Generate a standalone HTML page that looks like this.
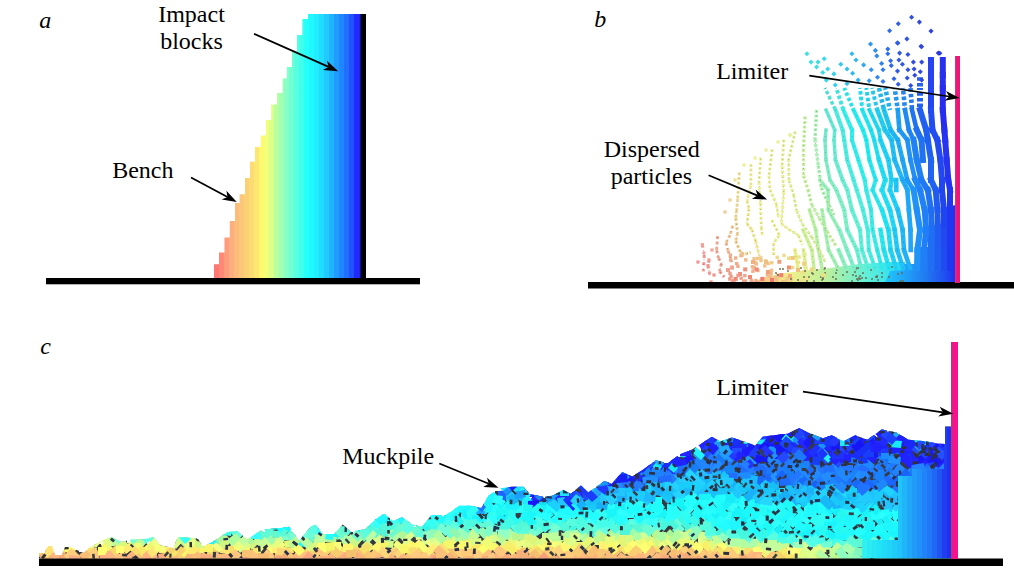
<!DOCTYPE html>
<html><head><meta charset="utf-8"><style>
html,body{margin:0;padding:0;background:#fff;width:1014px;height:578px;overflow:hidden;font-family:"Liberation Serif",serif;}
svg{display:block}
</style></head><body>
<svg width="1014" height="578" viewBox="0 0 1014 578">
<rect width="1014" height="578" fill="#fff"/>
<clipPath id="ca"><polygon points="361.0,14.0 308.0,14.0 308.0,19.0 302.3,19.0 302.3,35.0 297.0,35.0 297.0,51.4 292.0,51.4 292.0,67.0 286.8,67.0 286.8,78.5 282.6,78.5 282.6,93.0 277.0,93.0 277.0,104.5 271.2,104.5 271.2,120.0 266.0,120.0 266.0,135.6 260.8,135.6 260.8,147.0 255.0,147.0 255.0,161.7 250.0,161.7 250.0,178.0 245.0,178.0 245.0,194.3 239.6,194.3 239.6,203.0 235.0,203.0 235.0,221.0 229.8,221.0 229.8,237.4 224.5,237.4 224.5,252.6 219.0,252.6 219.0,264.2 214.0,264.2 214.0,278.0 361.0,278.0"/></clipPath>
<g clip-path="url(#ca)">
<rect x="214" y="10" width="5.2" height="270" fill="#ff7771"/>
<rect x="219" y="10" width="5.2" height="270" fill="#ff8877"/>
<rect x="224" y="10" width="5.2" height="270" fill="#fe9c7c"/>
<rect x="229" y="10" width="5.2" height="270" fill="#fdae7f"/>
<rect x="234" y="10" width="5.2" height="270" fill="#fdbb7c"/>
<rect x="239" y="10" width="5.2" height="270" fill="#fdc779"/>
<rect x="244" y="10" width="5.2" height="270" fill="#fcd176"/>
<rect x="249" y="10" width="5.2" height="270" fill="#fcdb73"/>
<rect x="254" y="10" width="5.2" height="270" fill="#fde770"/>
<rect x="259" y="10" width="5.2" height="270" fill="#fef96e"/>
<rect x="264" y="10" width="5.2" height="270" fill="#f2ff79"/>
<rect x="269" y="10" width="5.2" height="270" fill="#daff8a"/>
<rect x="274" y="10" width="5.2" height="270" fill="#baff9e"/>
<rect x="279" y="10" width="5.2" height="270" fill="#9fffb2"/>
<rect x="284" y="10" width="5.2" height="270" fill="#87ffc6"/>
<rect x="289" y="10" width="5.2" height="270" fill="#6fffd4"/>
<rect x="294" y="10" width="5.2" height="270" fill="#57ffe0"/>
<rect x="299" y="10" width="5.2" height="270" fill="#3fffed"/>
<rect x="304" y="10" width="5.2" height="270" fill="#27fffb"/>
<rect x="309" y="10" width="5.2" height="270" fill="#20f8ff"/>
<rect x="314" y="10" width="5.2" height="270" fill="#20edff"/>
<rect x="319" y="10" width="5.2" height="270" fill="#20ddff"/>
<rect x="324" y="10" width="5.2" height="270" fill="#20caff"/>
<rect x="329" y="10" width="5.2" height="270" fill="#20b4ff"/>
<rect x="334" y="10" width="5.2" height="270" fill="#209cff"/>
<rect x="339" y="10" width="5.2" height="270" fill="#2086ff"/>
<rect x="344" y="10" width="5.2" height="270" fill="#206fff"/>
<rect x="349" y="10" width="5.2" height="270" fill="#2053ff"/>
<rect x="354" y="10" width="5.2" height="270" fill="#202cff"/>
<rect x="359" y="10" width="5.2" height="270" fill="#2020ff"/>
</g>
<rect x="360.5" y="14" width="5.5" height="266" fill="#000"/>
<rect x="46" y="278" width="374" height="6.3" fill="#000"/>
<linearGradient id="gb" gradientUnits="userSpaceOnUse" x1="885" x2="955" y1="0" y2="0"><stop offset="0" stop-color="#20c8f8"/><stop offset="0.3" stop-color="#20a0f8"/><stop offset="0.6" stop-color="#2078f0"/><stop offset="0.85" stop-color="#2050f0"/><stop offset="1" stop-color="#2030f0"/></linearGradient>
<linearGradient id="gbm" x1="0" x2="1"><stop offset="0" stop-color="#f8b888"/><stop offset="0.25" stop-color="#f0f088"/><stop offset="0.5" stop-color="#b8f0a0"/><stop offset="0.75" stop-color="#60f0d8"/><stop offset="1" stop-color="#20d8f8"/></linearGradient>
<polygon points="752,282.5 765,277 785,273 800,271 830,268 860,264 890,262 905,262 905,282.5" fill="url(#gbm)"/>
<rect x="776.0" y="273.5" width="3.4" height="3.4" fill="#f0c188"/>
<rect x="789.2" y="279.3" width="3.4" height="3.4" fill="#f0cf88"/>
<rect x="785.0" y="278.7" width="3.4" height="3.4" fill="#f0cb88"/>
<rect x="730.2" y="265.5" width="3.4" height="3.4" fill="#f0a28a"/>
<rect x="800.6" y="270.8" width="3.4" height="3.4" fill="#f0dd88"/>
<rect x="797.4" y="255.3" width="3.4" height="3.4" fill="#ece48c"/>
<rect x="764.1" y="259.2" width="3.4" height="3.4" fill="#f0ca8b"/>
<rect x="769.9" y="268.6" width="3.4" height="3.4" fill="#f0c089"/>
<rect x="729.0" y="258.3" width="3.4" height="3.4" fill="#f0a98d"/>
<rect x="749.5" y="278.6" width="3.4" height="3.4" fill="#f0a988"/>
<rect x="787.0" y="256.6" width="3.4" height="3.4" fill="#eedc8c"/>
<rect x="789.4" y="256.0" width="3.4" height="3.4" fill="#edde8c"/>
<rect x="775.5" y="255.7" width="3.4" height="3.4" fill="#efd78c"/>
<rect x="728.1" y="277.3" width="3.4" height="3.4" fill="#f09a88"/>
<rect x="744.1" y="258.2" width="3.4" height="3.4" fill="#f0b98b"/>
<rect x="803.6" y="277.3" width="3.4" height="3.4" fill="#f0e088"/>
<rect x="750.3" y="279.9" width="3.4" height="3.4" fill="#f0a988"/>
<rect x="769.5" y="271.7" width="3.4" height="3.4" fill="#f0bb88"/>
<rect x="743.8" y="279.3" width="3.4" height="3.4" fill="#f0a588"/>
<rect x="781.2" y="280.0" width="3.4" height="3.4" fill="#f0c788"/>
<rect x="796.8" y="260.7" width="3.4" height="3.4" fill="#eee08b"/>
<rect x="755.8" y="256.8" width="3.4" height="3.4" fill="#f0c78b"/>
<rect x="739.2" y="253.9" width="3.4" height="3.4" fill="#f0b98c"/>
<rect x="751.2" y="269.5" width="3.4" height="3.4" fill="#f0ae89"/>
<rect x="728.3" y="271.7" width="3.4" height="3.4" fill="#f09b88"/>
<rect x="754.0" y="261.0" width="3.4" height="3.4" fill="#f0be8b"/>
<rect x="791.0" y="265.9" width="3.4" height="3.4" fill="#efd789"/>
<rect x="752.3" y="266.0" width="3.4" height="3.4" fill="#f0b589"/>
<rect x="782.3" y="253.7" width="3.4" height="3.4" fill="#eedd8c"/>
<rect x="803.1" y="252.7" width="3.4" height="3.4" fill="#eae98e"/>
<rect x="785.7" y="276.5" width="3.4" height="3.4" fill="#f0cb88"/>
<rect x="729.4" y="274.8" width="3.4" height="3.4" fill="#f09b88"/>
<rect x="756.2" y="268.8" width="3.4" height="3.4" fill="#f0b389"/>
<rect x="728.7" y="253.4" width="3.4" height="3.4" fill="#f0ad8f"/>
<rect x="741.9" y="279.7" width="3.4" height="3.4" fill="#f0a488"/>
<rect x="743.1" y="273.9" width="3.4" height="3.4" fill="#f0a488"/>
<rect x="799.6" y="279.3" width="3.4" height="3.4" fill="#f0dc88"/>
<rect x="754.5" y="262.3" width="3.4" height="3.4" fill="#f0bd8a"/>
<rect x="768.4" y="274.5" width="3.4" height="3.4" fill="#f0b988"/>
<rect x="736.3" y="273.7" width="3.4" height="3.4" fill="#f0a088"/>
<rect x="789.4" y="276.9" width="3.4" height="3.4" fill="#f0cf88"/>
<rect x="730.8" y="279.4" width="3.4" height="3.4" fill="#f09c88"/>
<rect x="735.0" y="261.9" width="3.4" height="3.4" fill="#f0ab8b"/>
<rect x="775.0" y="278.6" width="3.4" height="3.4" fill="#f0c088"/>
<rect x="754.2" y="278.8" width="3.4" height="3.4" fill="#f0ac88"/>
<rect x="770.0" y="261.1" width="3.4" height="3.4" fill="#efcb8b"/>
<rect x="752.4" y="257.1" width="3.4" height="3.4" fill="#f0c38b"/>
<rect x="734.0" y="256.3" width="3.4" height="3.4" fill="#f0b08d"/>
<rect x="781.1" y="280.9" width="3.4" height="3.4" fill="#f0c688"/>
<rect x="740.4" y="253.4" width="3.4" height="3.4" fill="#f0bb8c"/>
<rect x="804.0" y="267.5" width="3.4" height="3.4" fill="#eee389"/>
<rect x="759.3" y="258.9" width="3.4" height="3.4" fill="#f0c78b"/>
<rect x="773.7" y="276.0" width="3.4" height="3.4" fill="#f0bf88"/>
<rect x="763.1" y="264.2" width="3.4" height="3.4" fill="#f0c18a"/>
<rect x="732.3" y="278.6" width="3.4" height="3.4" fill="#f09d88"/>
<rect x="730.5" y="266.3" width="3.4" height="3.4" fill="#f0a28a"/>
<rect x="792.6" y="255.8" width="3.4" height="3.4" fill="#ede08c"/>
<rect x="784.3" y="279.5" width="3.4" height="3.4" fill="#f0ca88"/>
<rect x="776.5" y="274.9" width="3.4" height="3.4" fill="#f0c288"/>
<rect x="736.2" y="264.6" width="3.4" height="3.4" fill="#f0a98a"/>
<rect x="739.5" y="276.5" width="3.4" height="3.4" fill="#f0a288"/>
<rect x="750.7" y="265.1" width="3.4" height="3.4" fill="#f0b48a"/>
<rect x="804.9" y="276.7" width="3.4" height="3.4" fill="#f0e288"/>
<rect x="803.2" y="265.2" width="3.4" height="3.4" fill="#eee38a"/>
<rect x="765.6" y="273.2" width="3.4" height="3.4" fill="#f0b688"/>
<rect x="764.9" y="260.4" width="3.4" height="3.4" fill="#f0c98b"/>
<rect x="759.1" y="256.2" width="3.4" height="3.4" fill="#f0cc8c"/>
<rect x="757.0" y="280.7" width="3.4" height="3.4" fill="#f0ae88"/>
<rect x="801.9" y="270.2" width="3.4" height="3.4" fill="#efdf88"/>
<rect x="766.4" y="261.8" width="3.4" height="3.4" fill="#f0c78a"/>
<polygon points="955,205 941,210 941,224 928,226 928,247 916,247 916,264 904,264 904,270 890,271 885,282.5 955,282.5" fill="url(#gb)"/>
<rect x="787" y="270" width="2" height="2" fill="#686850" opacity="0.7"/>
<rect x="877" y="279" width="2" height="2" fill="#686850" opacity="0.7"/>
<rect x="822" y="278" width="2" height="2" fill="#686850" opacity="0.7"/>
<rect x="876" y="276" width="2" height="2" fill="#686850" opacity="0.7"/>
<rect x="861" y="277" width="2" height="2" fill="#686850" opacity="0.7"/>
<rect x="822" y="277" width="2" height="2" fill="#686850" opacity="0.7"/>
<rect x="812" y="273" width="2" height="2" fill="#686850" opacity="0.7"/>
<rect x="875" y="276" width="2" height="2" fill="#686850" opacity="0.7"/>
<rect x="813" y="280" width="2" height="2" fill="#686850" opacity="0.7"/>
<rect x="859" y="275" width="2" height="2" fill="#686850" opacity="0.7"/>
<rect x="777" y="274" width="2" height="2" fill="#686850" opacity="0.7"/>
<rect x="808" y="276" width="2" height="2" fill="#686850" opacity="0.7"/>
<rect x="835" y="278" width="2" height="2" fill="#686850" opacity="0.7"/>
<rect x="859" y="278" width="2" height="2" fill="#686850" opacity="0.7"/>
<rect x="820" y="276" width="2" height="2" fill="#686850" opacity="0.7"/>
<rect x="871" y="278" width="2" height="2" fill="#686850" opacity="0.7"/>
<rect x="821" y="279" width="2" height="2" fill="#686850" opacity="0.7"/>
<rect x="888" y="276" width="2" height="2" fill="#686850" opacity="0.7"/>
<rect x="902" y="280" width="2" height="2" fill="#686850" opacity="0.7"/>
<rect x="842" y="274" width="2" height="2" fill="#686850" opacity="0.7"/>
<rect x="797" y="279" width="2" height="2" fill="#686850" opacity="0.7"/>
<rect x="897" y="273" width="2" height="2" fill="#686850" opacity="0.7"/>
<rect x="865" y="277" width="2" height="2" fill="#686850" opacity="0.7"/>
<rect x="870" y="269" width="2" height="2" fill="#686850" opacity="0.7"/>
<rect x="876" y="275" width="2" height="2" fill="#686850" opacity="0.7"/>
<rect x="862" y="272" width="2" height="2" fill="#686850" opacity="0.7"/>
<rect x="856" y="278" width="2" height="2" fill="#686850" opacity="0.7"/>
<rect x="858" y="277" width="2" height="2" fill="#686850" opacity="0.7"/>
<rect x="779" y="268" width="2" height="2" fill="#686850" opacity="0.7"/>
<rect x="832" y="276" width="2" height="2" fill="#686850" opacity="0.7"/>
<rect x="803" y="276" width="2" height="2" fill="#686850" opacity="0.7"/>
<rect x="857" y="267" width="2" height="2" fill="#686850" opacity="0.7"/>
<rect x="836" y="269" width="2" height="2" fill="#686850" opacity="0.7"/>
<rect x="782" y="268" width="2" height="2" fill="#686850" opacity="0.7"/>
<rect x="816" y="269" width="2" height="2" fill="#686850" opacity="0.7"/>
<rect x="800" y="267" width="2" height="2" fill="#686850" opacity="0.7"/>
<rect x="835" y="272" width="2" height="2" fill="#686850" opacity="0.7"/>
<rect x="855" y="275" width="2" height="2" fill="#686850" opacity="0.7"/>
<rect x="806" y="280" width="2" height="2" fill="#686850" opacity="0.7"/>
<rect x="775" y="272" width="2" height="2" fill="#686850" opacity="0.7"/>
<rect x="811" y="272" width="2" height="2" fill="#686850" opacity="0.7"/>
<rect x="790" y="278" width="2" height="2" fill="#686850" opacity="0.7"/>
<rect x="824" y="267" width="2" height="2" fill="#686850" opacity="0.7"/>
<rect x="855" y="267" width="2" height="2" fill="#686850" opacity="0.7"/>
<rect x="846" y="271" width="2" height="2" fill="#686850" opacity="0.7"/>
<rect x="851" y="280" width="2" height="2" fill="#686850" opacity="0.7"/>
<rect x="881" y="272" width="2" height="2" fill="#686850" opacity="0.7"/>
<rect x="881" y="276" width="2" height="2" fill="#686850" opacity="0.7"/>
<rect x="823" y="268" width="2" height="2" fill="#686850" opacity="0.7"/>
<rect x="852" y="274" width="2" height="2" fill="#686850" opacity="0.7"/>
<rect x="899" y="281" width="2" height="2" fill="#686850" opacity="0.7"/>
<rect x="854" y="271" width="2" height="2" fill="#686850" opacity="0.7"/>
<rect x="891" y="266" width="2" height="2" fill="#686850" opacity="0.7"/>
<rect x="789" y="274" width="2" height="2" fill="#686850" opacity="0.7"/>
<rect x="855" y="268" width="2" height="2" fill="#686850" opacity="0.7"/>
<rect x="857" y="279" width="2" height="2" fill="#686850" opacity="0.7"/>
<rect x="824" y="272" width="2" height="2" fill="#686850" opacity="0.7"/>
<rect x="804" y="270" width="2" height="2" fill="#686850" opacity="0.7"/>
<rect x="901" y="272" width="2" height="2" fill="#686850" opacity="0.7"/>
<rect x="900" y="280" width="2" height="2" fill="#686850" opacity="0.7"/>
<line x1="942.8" y1="60" x2="942.8" y2="75" stroke="#2830f0" stroke-width="6" stroke-linecap="square"/>
<line x1="931.0" y1="60" x2="931.0" y2="75" stroke="#2844f0" stroke-width="6" stroke-linecap="square"/>
<line x1="942.8" y1="75" x2="942.8" y2="88" stroke="#2830f0" stroke-width="6" stroke-linecap="square"/>
<line x1="931.0" y1="75" x2="931.0" y2="88" stroke="#2844f0" stroke-width="6" stroke-linecap="square"/>
<line x1="920.0" y1="75" x2="920.0" y2="88" stroke="#2862f0" stroke-width="6" stroke-linecap="butt" stroke-dasharray="3.5 2.2" stroke-dashoffset="3.4"/>
<line x1="942.8" y1="88" x2="942.8" y2="110" stroke="#282cf0" stroke-width="6" stroke-linecap="square"/>
<line x1="931.0" y1="88" x2="931.0" y2="110" stroke="#2446f0" stroke-width="6" stroke-linecap="square"/>
<line x1="920.0" y1="88" x2="920.0" y2="110" stroke="#2461f0" stroke-width="6" stroke-linecap="butt" stroke-dasharray="3.5 2.2" stroke-dashoffset="1.5"/>
<line x1="910.5" y1="88" x2="912.0" y2="110" stroke="#2475f0" stroke-width="4.6" stroke-linecap="butt" stroke-dasharray="3.5 2.2" stroke-dashoffset="5.6"/>
<line x1="903.0" y1="88" x2="905.0" y2="110" stroke="#2484f0" stroke-width="4.6" stroke-linecap="butt" stroke-dasharray="3.5 2.2" stroke-dashoffset="2.8"/>
<line x1="894.7" y1="88" x2="897.8" y2="110" stroke="#2497f0" stroke-width="4.6" stroke-linecap="butt" stroke-dasharray="3.5 2.2" stroke-dashoffset="2.4"/>
<line x1="885.2" y1="88" x2="890.0" y2="110" stroke="#24aff0" stroke-width="4.6" stroke-linecap="butt" stroke-dasharray="3.5 2.2" stroke-dashoffset="1.8"/>
<line x1="879.0" y1="88" x2="884.0" y2="110" stroke="#24baf0" stroke-width="4.6" stroke-linecap="butt" stroke-dasharray="3.5 2.2" stroke-dashoffset="5.6"/>
<line x1="872.0" y1="88" x2="877.3" y2="110" stroke="#24c8f0" stroke-width="4" stroke-linecap="butt" stroke-dasharray="3.5 2.2" stroke-dashoffset="2.8"/>
<line x1="866.3" y1="88" x2="869.4" y2="110" stroke="#25d4f0" stroke-width="4" stroke-linecap="butt" stroke-dasharray="3.5 2.2" stroke-dashoffset="1.6"/>
<line x1="860.0" y1="88" x2="862.3" y2="110" stroke="#26ddf0" stroke-width="4" stroke-linecap="butt" stroke-dasharray="3.5 2.2" stroke-dashoffset="2.7"/>
<line x1="844.2" y1="88" x2="853.6" y2="110" stroke="#2de7ee" stroke-width="4" stroke-linecap="butt" stroke-dasharray="3.5 2.2" stroke-dashoffset="0.7"/>
<line x1="836.3" y1="88" x2="843.4" y2="110" stroke="#3fe4e2" stroke-width="4" stroke-linecap="butt" stroke-dasharray="3.5 2.2" stroke-dashoffset="3.5"/>
<line x1="825.0" y1="88" x2="835.5" y2="110" stroke="#50e0d3" stroke-width="3.5" stroke-linecap="butt" stroke-dasharray="3.5 2.2" stroke-dashoffset="2.5"/>
<line x1="942.8" y1="110" x2="944.4" y2="130" stroke="#272df0" stroke-width="6" stroke-linecap="square"/>
<line x1="931.0" y1="110" x2="932.5" y2="130" stroke="#204cf0" stroke-width="6" stroke-linecap="square"/>
<line x1="920.0" y1="110" x2="926.2" y2="130" stroke="#205ff0" stroke-width="6" stroke-linecap="square"/>
<line x1="912.0" y1="110" x2="916.8" y2="130" stroke="#2074f1" stroke-width="4.6" stroke-linecap="square"/>
<line x1="905.0" y1="110" x2="908.9" y2="130" stroke="#2088f2" stroke-width="4.6" stroke-linecap="square"/>
<line x1="897.8" y1="110" x2="899.4" y2="130" stroke="#20a0f2" stroke-width="4.6" stroke-linecap="square"/>
<line x1="884.0" y1="110" x2="890.7" y2="130" stroke="#20c4f1" stroke-width="4.6" stroke-linecap="square"/>
<line x1="877.3" y1="110" x2="885.0" y2="130" stroke="#20cff1" stroke-width="4.6" stroke-linecap="square"/>
<line x1="869.4" y1="110" x2="878.9" y2="130" stroke="#20daf0" stroke-width="4" stroke-linecap="square"/>
<line x1="862.3" y1="110" x2="871.0" y2="130" stroke="#20e7f0" stroke-width="4" stroke-linecap="square"/>
<line x1="853.6" y1="110" x2="863.0" y2="130" stroke="#24ecef" stroke-width="4" stroke-linecap="square"/>
<line x1="843.4" y1="110" x2="852.0" y2="130" stroke="#34eeea" stroke-width="4" stroke-linecap="square"/>
<line x1="835.5" y1="110" x2="842.6" y2="130" stroke="#4febe1" stroke-width="4" stroke-linecap="square"/>
<line x1="826.0" y1="110" x2="834.7" y2="130" stroke="#66e8d5" stroke-width="3.5" stroke-linecap="square"/>
<line x1="944.4" y1="130" x2="945.2" y2="140" stroke="#2731f0" stroke-width="6" stroke-linecap="square"/>
<line x1="932.5" y1="130" x2="937.3" y2="140" stroke="#214cf0" stroke-width="6" stroke-linecap="square"/>
<line x1="926.2" y1="130" x2="927.8" y2="140" stroke="#205ff0" stroke-width="6" stroke-linecap="square"/>
<line x1="916.8" y1="130" x2="921.5" y2="140" stroke="#2070f1" stroke-width="6" stroke-linecap="square"/>
<line x1="908.9" y1="130" x2="913.6" y2="140" stroke="#2084f3" stroke-width="4.6" stroke-linecap="square"/>
<line x1="899.4" y1="130" x2="907.3" y2="140" stroke="#209af4" stroke-width="4.6" stroke-linecap="square"/>
<line x1="890.7" y1="130" x2="897.8" y2="140" stroke="#20b6f4" stroke-width="4.6" stroke-linecap="square"/>
<line x1="885.0" y1="130" x2="891.5" y2="140" stroke="#20c7f3" stroke-width="4.6" stroke-linecap="square"/>
<line x1="878.9" y1="130" x2="880.5" y2="140" stroke="#20d7f2" stroke-width="4" stroke-linecap="square"/>
<line x1="871.0" y1="130" x2="874.2" y2="140" stroke="#20e1f1" stroke-width="4" stroke-linecap="square"/>
<line x1="863.0" y1="130" x2="866.3" y2="140" stroke="#22ecf0" stroke-width="4" stroke-linecap="square"/>
<line x1="852.0" y1="130" x2="852.0" y2="140" stroke="#30eeec" stroke-width="4" stroke-linecap="square"/>
<line x1="842.6" y1="130" x2="844.2" y2="140" stroke="#4aece2" stroke-width="4" stroke-linecap="square"/>
<line x1="834.7" y1="130" x2="834.0" y2="140" stroke="#63ead6" stroke-width="3.5" stroke-linecap="square"/>
<line x1="826.0" y1="130" x2="825.0" y2="140" stroke="#73e9cd" stroke-width="3.5" stroke-linecap="square"/>
<line x1="945.2" y1="140" x2="946.7" y2="160" stroke="#2734f0" stroke-width="6" stroke-linecap="square"/>
<line x1="937.3" y1="140" x2="940.4" y2="160" stroke="#2349f0" stroke-width="6" stroke-linecap="square"/>
<line x1="927.8" y1="140" x2="931.0" y2="160" stroke="#2062f0" stroke-width="6" stroke-linecap="square"/>
<line x1="921.5" y1="140" x2="923.0" y2="160" stroke="#2072f0" stroke-width="6" stroke-linecap="square"/>
<line x1="913.6" y1="140" x2="916.8" y2="160" stroke="#2082f3" stroke-width="6" stroke-linecap="square"/>
<line x1="907.3" y1="140" x2="910.5" y2="160" stroke="#2091f6" stroke-width="4.6" stroke-linecap="square"/>
<line x1="897.8" y1="140" x2="902.6" y2="160" stroke="#20abf6" stroke-width="4.6" stroke-linecap="square"/>
<line x1="891.5" y1="140" x2="894.7" y2="160" stroke="#20c0f6" stroke-width="4.6" stroke-linecap="square"/>
<line x1="880.5" y1="140" x2="888.4" y2="160" stroke="#20d3f4" stroke-width="4.6" stroke-linecap="square"/>
<line x1="874.2" y1="140" x2="878.9" y2="160" stroke="#20e0f2" stroke-width="4" stroke-linecap="square"/>
<line x1="866.3" y1="140" x2="869.4" y2="160" stroke="#20ecf0" stroke-width="4" stroke-linecap="square"/>
<line x1="852.0" y1="140" x2="858.4" y2="160" stroke="#34edeb" stroke-width="4" stroke-linecap="square"/>
<line x1="844.2" y1="140" x2="847.3" y2="160" stroke="#4cece1" stroke-width="4" stroke-linecap="square"/>
<line x1="834.0" y1="140" x2="835.5" y2="160" stroke="#69ebd3" stroke-width="3.5" stroke-linecap="square"/>
<line x1="825.0" y1="140" x2="826.0" y2="160" stroke="#7aebc9" stroke-width="3.5" stroke-linecap="square"/>
<line x1="946.7" y1="160" x2="948.3" y2="180" stroke="#2634f0" stroke-width="6" stroke-linecap="square"/>
<line x1="940.4" y1="160" x2="942.0" y2="180" stroke="#2348f0" stroke-width="6" stroke-linecap="square"/>
<line x1="931.0" y1="160" x2="931.0" y2="180" stroke="#2066f0" stroke-width="6" stroke-linecap="square"/>
<line x1="916.8" y1="160" x2="921.5" y2="180" stroke="#2081f3" stroke-width="6" stroke-linecap="square"/>
<line x1="910.5" y1="160" x2="915.2" y2="180" stroke="#2090f6" stroke-width="4.6" stroke-linecap="square"/>
<line x1="902.6" y1="160" x2="907.3" y2="180" stroke="#20a5f8" stroke-width="4.6" stroke-linecap="square"/>
<line x1="894.7" y1="160" x2="902.6" y2="180" stroke="#20b8f8" stroke-width="4.6" stroke-linecap="square"/>
<line x1="888.4" y1="160" x2="891.5" y2="180" stroke="#20cff7" stroke-width="4.6" stroke-linecap="square"/>
<line x1="878.9" y1="160" x2="885.2" y2="180" stroke="#20def4" stroke-width="4.6" stroke-linecap="square"/>
<line x1="869.4" y1="160" x2="875.7" y2="180" stroke="#25e8f0" stroke-width="4" stroke-linecap="square"/>
<line x1="858.4" y1="160" x2="864.7" y2="180" stroke="#33efea" stroke-width="4" stroke-linecap="square"/>
<line x1="847.3" y1="160" x2="853.6" y2="180" stroke="#4eede1" stroke-width="4" stroke-linecap="square"/>
<line x1="835.5" y1="160" x2="842.6" y2="180" stroke="#6dedd1" stroke-width="4" stroke-linecap="square"/>
<line x1="826.0" y1="160" x2="830.0" y2="180" stroke="#81edc4" stroke-width="3.5" stroke-linecap="square"/>
<line x1="948.3" y1="180" x2="950.0" y2="190" stroke="#2434f0" stroke-width="6" stroke-linecap="square"/>
<line x1="942.0" y1="180" x2="942.0" y2="190" stroke="#2247f0" stroke-width="6" stroke-linecap="square"/>
<line x1="931.0" y1="180" x2="935.7" y2="190" stroke="#2063f0" stroke-width="6" stroke-linecap="square"/>
<line x1="921.5" y1="180" x2="927.8" y2="190" stroke="#2079f4" stroke-width="6" stroke-linecap="square"/>
<line x1="915.2" y1="180" x2="920.0" y2="190" stroke="#2088f5" stroke-width="6" stroke-linecap="square"/>
<line x1="907.3" y1="180" x2="913.6" y2="190" stroke="#209bf7" stroke-width="4.6" stroke-linecap="square"/>
<line x1="902.6" y1="180" x2="907.3" y2="190" stroke="#20abf8" stroke-width="4.6" stroke-linecap="square"/>
<line x1="896.3" y1="180" x2="896.3" y2="190" stroke="#20c5f8" stroke-width="4.6" stroke-linecap="square"/>
<line x1="891.5" y1="180" x2="890.0" y2="190" stroke="#20d3f7" stroke-width="4.6" stroke-linecap="square"/>
<line x1="885.2" y1="180" x2="882.0" y2="190" stroke="#20dff3" stroke-width="4.6" stroke-linecap="square"/>
<line x1="875.7" y1="180" x2="872.6" y2="190" stroke="#2be7ee" stroke-width="4" stroke-linecap="square"/>
<line x1="864.7" y1="180" x2="866.3" y2="190" stroke="#36efe9" stroke-width="4" stroke-linecap="square"/>
<line x1="853.6" y1="180" x2="856.8" y2="190" stroke="#50eedf" stroke-width="4" stroke-linecap="square"/>
<line x1="842.6" y1="180" x2="847.3" y2="190" stroke="#6aeed3" stroke-width="4" stroke-linecap="square"/>
<line x1="830.0" y1="180" x2="836.3" y2="190" stroke="#83eec3" stroke-width="3.5" stroke-linecap="square"/>
<line x1="820.0" y1="180" x2="828.0" y2="190" stroke="#94eeb9" stroke-width="3.5" stroke-linecap="square"/>
<line x1="950.0" y1="190" x2="950.0" y2="210" stroke="#2235f0" stroke-width="6" stroke-linecap="square"/>
<line x1="942.0" y1="190" x2="944.0" y2="210" stroke="#2146f0" stroke-width="6" stroke-linecap="square"/>
<line x1="935.7" y1="190" x2="937.5" y2="210" stroke="#205bf0" stroke-width="6" stroke-linecap="square"/>
<line x1="927.8" y1="190" x2="931.0" y2="210" stroke="#2072f2" stroke-width="6" stroke-linecap="square"/>
<line x1="920.0" y1="190" x2="924.7" y2="210" stroke="#2082f6" stroke-width="6" stroke-linecap="square"/>
<line x1="913.6" y1="190" x2="916.8" y2="210" stroke="#2093f7" stroke-width="6" stroke-linecap="square"/>
<line x1="907.3" y1="190" x2="908.9" y2="210" stroke="#20a7f8" stroke-width="4.6" stroke-linecap="square"/>
<line x1="890.0" y1="190" x2="897.8" y2="210" stroke="#20d1f8" stroke-width="4.6" stroke-linecap="square"/>
<line x1="882.0" y1="190" x2="890.0" y2="210" stroke="#20e1f4" stroke-width="4.6" stroke-linecap="square"/>
<line x1="872.6" y1="190" x2="882.0" y2="210" stroke="#2be7ee" stroke-width="4" stroke-linecap="square"/>
<line x1="866.3" y1="190" x2="871.0" y2="210" stroke="#3debe8" stroke-width="4" stroke-linecap="square"/>
<line x1="856.8" y1="190" x2="863.0" y2="210" stroke="#50f0df" stroke-width="4" stroke-linecap="square"/>
<line x1="847.3" y1="190" x2="852.0" y2="210" stroke="#6cefd2" stroke-width="4" stroke-linecap="square"/>
<line x1="836.3" y1="190" x2="844.2" y2="210" stroke="#81efc6" stroke-width="4" stroke-linecap="square"/>
<line x1="828.0" y1="190" x2="828.4" y2="210" stroke="#98efb5" stroke-width="3.5" stroke-linecap="square"/>
<line x1="950.0" y1="210" x2="950.0" y2="230" stroke="#2036f0" stroke-width="6" stroke-linecap="square"/>
<line x1="944.0" y1="210" x2="944.0" y2="230" stroke="#2045f0" stroke-width="6" stroke-linecap="square"/>
<line x1="937.5" y1="210" x2="938.0" y2="230" stroke="#205af0" stroke-width="6" stroke-linecap="square"/>
<line x1="931.0" y1="210" x2="932.0" y2="230" stroke="#206ef1" stroke-width="6" stroke-linecap="square"/>
<line x1="924.7" y1="210" x2="926.2" y2="230" stroke="#207ef7" stroke-width="6" stroke-linecap="square"/>
<line x1="916.8" y1="210" x2="920.0" y2="230" stroke="#208ef8" stroke-width="6" stroke-linecap="square"/>
<line x1="908.9" y1="210" x2="910.5" y2="230" stroke="#20a7f8" stroke-width="4.6" stroke-linecap="square"/>
<line x1="897.8" y1="210" x2="902.6" y2="230" stroke="#20c1f8" stroke-width="4.6" stroke-linecap="square"/>
<line x1="890.0" y1="210" x2="894.7" y2="230" stroke="#20d8f7" stroke-width="4.6" stroke-linecap="square"/>
<line x1="882.0" y1="210" x2="888.4" y2="230" stroke="#20e5f3" stroke-width="4.6" stroke-linecap="square"/>
<line x1="871.0" y1="210" x2="872.6" y2="230" stroke="#3feae7" stroke-width="4" stroke-linecap="square"/>
<line x1="863.0" y1="210" x2="867.8" y2="230" stroke="#4eeee1" stroke-width="4" stroke-linecap="square"/>
<line x1="852.0" y1="210" x2="860.0" y2="230" stroke="#66f0d5" stroke-width="4" stroke-linecap="square"/>
<line x1="844.2" y1="210" x2="847.3" y2="230" stroke="#7ff0c8" stroke-width="4" stroke-linecap="square"/>
<line x1="828.4" y1="210" x2="839.4" y2="230" stroke="#95f0b8" stroke-width="3.5" stroke-linecap="square"/>
<line x1="822.0" y1="210" x2="825.2" y2="230" stroke="#a8f0ac" stroke-width="3.5" stroke-linecap="square"/>
<line x1="809.5" y1="210" x2="815.8" y2="230" stroke="#bcf0a1" stroke-width="3.5" stroke-linecap="square"/>
<line x1="950.0" y1="230" x2="950.0" y2="250" stroke="#2036f0" stroke-width="6" stroke-linecap="square"/>
<line x1="944.0" y1="230" x2="944.0" y2="250" stroke="#2049f0" stroke-width="6" stroke-linecap="square"/>
<line x1="938.0" y1="230" x2="938.0" y2="250" stroke="#205cf1" stroke-width="6" stroke-linecap="square"/>
<line x1="932.0" y1="230" x2="931.0" y2="250" stroke="#206ef3" stroke-width="6" stroke-linecap="square"/>
<line x1="926.2" y1="230" x2="924.0" y2="250" stroke="#207ef8" stroke-width="6" stroke-linecap="square"/>
<line x1="920.0" y1="230" x2="917.4" y2="250" stroke="#208ff8" stroke-width="6" stroke-linecap="square"/>
<line x1="910.5" y1="230" x2="910.7" y2="250" stroke="#20a6f8" stroke-width="4.6" stroke-linecap="square"/>
<line x1="902.6" y1="230" x2="904.0" y2="250" stroke="#20b9f8" stroke-width="4.6" stroke-linecap="square"/>
<line x1="894.7" y1="230" x2="897.3" y2="250" stroke="#20cbf8" stroke-width="4.6" stroke-linecap="square"/>
<line x1="888.4" y1="230" x2="890.6" y2="250" stroke="#20dcf4" stroke-width="4.6" stroke-linecap="square"/>
<line x1="880.5" y1="230" x2="883.9" y2="250" stroke="#24e9ef" stroke-width="4.6" stroke-linecap="square"/>
<line x1="872.6" y1="230" x2="877.2" y2="250" stroke="#3aebe8" stroke-width="4" stroke-linecap="square"/>
<line x1="867.8" y1="230" x2="868.8" y2="250" stroke="#4defe2" stroke-width="4" stroke-linecap="square"/>
<line x1="860.0" y1="230" x2="862.0" y2="250" stroke="#5df0d9" stroke-width="4" stroke-linecap="square"/>
<line x1="847.3" y1="230" x2="857.0" y2="250" stroke="#73f0ce" stroke-width="4" stroke-linecap="square"/>
<line x1="839.4" y1="230" x2="847.0" y2="250" stroke="#86f0c4" stroke-width="4" stroke-linecap="square"/>
<line x1="825.2" y1="230" x2="828.6" y2="250" stroke="#a3f0b0" stroke-width="3.5" stroke-linecap="square"/>
<line x1="815.8" y1="230" x2="818.5" y2="250" stroke="#b6f0a4" stroke-width="3.5" stroke-linecap="square"/>
<line x1="803.0" y1="230" x2="811.8" y2="250" stroke="#cef097" stroke-width="3.5" stroke-linecap="square"/>
<line x1="950.0" y1="250" x2="950.0" y2="268" stroke="#2037f0" stroke-width="6" stroke-linecap="square"/>
<line x1="944.0" y1="250" x2="944.0" y2="268" stroke="#204bf0" stroke-width="6" stroke-linecap="square"/>
<line x1="938.0" y1="250" x2="938.0" y2="268" stroke="#205df1" stroke-width="6" stroke-linecap="square"/>
<line x1="931.0" y1="250" x2="931.0" y2="268" stroke="#206ef3" stroke-width="6" stroke-linecap="square"/>
<line x1="924.0" y1="250" x2="924.0" y2="268" stroke="#207ff6" stroke-width="6" stroke-linecap="square"/>
<line x1="917.4" y1="250" x2="917.0" y2="268" stroke="#2093f7" stroke-width="6" stroke-linecap="square"/>
<line x1="904.0" y1="250" x2="910.0" y2="268" stroke="#20b0f8" stroke-width="4.6" stroke-linecap="square"/>
<line x1="897.3" y1="250" x2="903.0" y2="268" stroke="#20c2f8" stroke-width="4.6" stroke-linecap="square"/>
<line x1="890.6" y1="250" x2="896.0" y2="268" stroke="#22d2f5" stroke-width="4.6" stroke-linecap="square"/>
<line x1="883.9" y1="250" x2="889.0" y2="268" stroke="#24e2f1" stroke-width="4.6" stroke-linecap="square"/>
<line x1="877.2" y1="250" x2="882.0" y2="268" stroke="#32eaeb" stroke-width="4" stroke-linecap="square"/>
<line x1="868.8" y1="250" x2="875.0" y2="268" stroke="#48ede3" stroke-width="4" stroke-linecap="square"/>
<line x1="862.0" y1="250" x2="868.0" y2="268" stroke="#5af0db" stroke-width="4" stroke-linecap="square"/>
<line x1="857.0" y1="250" x2="861.0" y2="268" stroke="#69f0d4" stroke-width="4" stroke-linecap="square"/>
<line x1="847.0" y1="250" x2="854.0" y2="268" stroke="#7cf0c9" stroke-width="4" stroke-linecap="square"/>
<line x1="838.6" y1="250" x2="846.0" y2="268" stroke="#8cf0be" stroke-width="4" stroke-linecap="square"/>
<line x1="828.6" y1="250" x2="838.0" y2="268" stroke="#9df0b2" stroke-width="3.5" stroke-linecap="square"/>
<line x1="818.5" y1="250" x2="822.0" y2="268" stroke="#b6f0a3" stroke-width="3.5" stroke-linecap="square"/>
<line x1="811.8" y1="250" x2="814.0" y2="268" stroke="#c8f098" stroke-width="3.5" stroke-linecap="square"/>
<line x1="803.4" y1="250" x2="806.0" y2="268" stroke="#ddf08d" stroke-width="3.5" stroke-linecap="square"/>
<line x1="795.0" y1="250" x2="798.0" y2="268" stroke="#e9ef88" stroke-width="3.5" stroke-linecap="square"/>
<line x1="702.4" y1="244.7" x2="704.3" y2="255.1" stroke="#f0a09c" stroke-width="3" stroke-dasharray="3 4"/>
<line x1="704.3" y1="255.1" x2="703.3" y2="271.3" stroke="#f09895" stroke-width="3" stroke-dasharray="3 4"/>
<line x1="709.0" y1="259.9" x2="708.0" y2="265.6" stroke="#f09b93" stroke-width="3" stroke-dasharray="3 3"/>
<line x1="708.0" y1="265.6" x2="710.0" y2="276.0" stroke="#f0968f" stroke-width="3" stroke-dasharray="3 3"/>
<line x1="717.6" y1="236.1" x2="716.6" y2="250.4" stroke="#f0af99" stroke-width="3" stroke-dasharray="3 2.5"/>
<line x1="716.6" y1="250.4" x2="718.5" y2="258.0" stroke="#f0a795" stroke-width="3" stroke-dasharray="3 2.5"/>
<line x1="718.5" y1="258.0" x2="721.4" y2="263.7" stroke="#f0a491" stroke-width="3" stroke-dasharray="3 2.5"/>
<line x1="721.4" y1="263.7" x2="719.5" y2="271.3" stroke="#f09f8e" stroke-width="3" stroke-dasharray="3 2.5"/>
<line x1="719.5" y1="271.3" x2="724.2" y2="277.0" stroke="#f09b8b" stroke-width="3" stroke-dasharray="3 2.5"/>
<line x1="732.8" y1="225.7" x2="730.0" y2="235.2" stroke="#f0c895" stroke-width="3" stroke-dasharray="3 2.5"/>
<line x1="730.0" y1="235.2" x2="726.1" y2="242.8" stroke="#f0c095" stroke-width="3" stroke-dasharray="3 2.5"/>
<line x1="726.1" y1="242.8" x2="728.0" y2="250.4" stroke="#f0ba95" stroke-width="3" stroke-dasharray="3 2.5"/>
<line x1="728.0" y1="250.4" x2="732.0" y2="262.0" stroke="#f0b490" stroke-width="3" stroke-dasharray="3 2.5"/>
<line x1="739.3" y1="172.4" x2="737.7" y2="198.7" stroke="#f0e39a" stroke-width="3" stroke-dasharray="3 1.6"/>
<line x1="737.7" y1="198.7" x2="736.6" y2="210.4" stroke="#f0da97" stroke-width="3" stroke-dasharray="3 1.6"/>
<line x1="736.6" y1="210.4" x2="735.7" y2="218.0" stroke="#f0d596" stroke-width="3" stroke-dasharray="3 1.6"/>
<line x1="735.7" y1="218.0" x2="737.6" y2="233.3" stroke="#f0d294" stroke-width="3" stroke-dasharray="3 1.6"/>
<line x1="737.6" y1="233.3" x2="735.7" y2="240.9" stroke="#f0cd93" stroke-width="3" stroke-dasharray="3 1.6"/>
<line x1="735.7" y1="240.9" x2="740.4" y2="252.3" stroke="#f0cb90" stroke-width="3" stroke-dasharray="3 1.6"/>
<line x1="740.4" y1="252.3" x2="745.2" y2="254.2" stroke="#f0c98e" stroke-width="3" stroke-dasharray="3 1.6"/>
<line x1="745.2" y1="254.2" x2="750.9" y2="252.3" stroke="#f0d08e" stroke-width="3" stroke-dasharray="3 1.6"/>
<line x1="750.9" y1="164.0" x2="750.9" y2="185.5" stroke="#eff09b" stroke-width="3" stroke-dasharray="3 1.6"/>
<line x1="750.9" y1="185.5" x2="747.0" y2="201.0" stroke="#f0ef99" stroke-width="3" stroke-dasharray="3 1.6"/>
<line x1="747.0" y1="201.0" x2="749.0" y2="208.5" stroke="#f0eb97" stroke-width="3" stroke-dasharray="3 1.6"/>
<line x1="749.0" y1="208.5" x2="747.0" y2="223.8" stroke="#f0e795" stroke-width="3" stroke-dasharray="3 1.6"/>
<line x1="747.0" y1="223.8" x2="751.8" y2="229.5" stroke="#f0e693" stroke-width="3" stroke-dasharray="3 1.6"/>
<line x1="751.8" y1="229.5" x2="755.6" y2="240.9" stroke="#f0e892" stroke-width="3" stroke-dasharray="3 1.6"/>
<line x1="755.6" y1="240.9" x2="759.4" y2="256.1" stroke="#f0e68f" stroke-width="3" stroke-dasharray="3 1.6"/>
<line x1="760.7" y1="157.6" x2="759.0" y2="182.2" stroke="#edf09b" stroke-width="3" stroke-dasharray="3 1.6"/>
<line x1="759.0" y1="182.2" x2="760.4" y2="202.8" stroke="#eef098" stroke-width="3" stroke-dasharray="3 1.6"/>
<line x1="760.4" y1="202.8" x2="761.3" y2="227.6" stroke="#eff095" stroke-width="3" stroke-dasharray="3 1.6"/>
<line x1="761.3" y1="227.6" x2="762.3" y2="235.2" stroke="#eff092" stroke-width="3" stroke-dasharray="3 1.6"/>
<line x1="772.2" y1="149.3" x2="769.0" y2="175.7" stroke="#ebf09b" stroke-width="3" stroke-dasharray="3 1.6"/>
<line x1="769.0" y1="175.7" x2="769.9" y2="189.5" stroke="#ecf098" stroke-width="3" stroke-dasharray="3 1.6"/>
<line x1="769.9" y1="189.5" x2="776.5" y2="204.7" stroke="#ebf096" stroke-width="3" stroke-dasharray="3 1.6"/>
<line x1="776.5" y1="204.7" x2="778.5" y2="218.0" stroke="#ebf094" stroke-width="3" stroke-dasharray="3 1.6"/>
<line x1="771.8" y1="220.0" x2="779.4" y2="235.2" stroke="#ecf092" stroke-width="3" stroke-dasharray="3 1.6"/>
<line x1="779.4" y1="235.2" x2="773.7" y2="242.8" stroke="#ecf091" stroke-width="3" stroke-dasharray="3 1.6"/>
<line x1="773.7" y1="242.8" x2="773.7" y2="256.1" stroke="#eeea8f" stroke-width="3" stroke-dasharray="3 1.6"/>
<line x1="783.8" y1="139.5" x2="782.1" y2="165.8" stroke="#e9f09a" stroke-width="3" stroke-dasharray="3 1.6"/>
<line x1="782.1" y1="165.8" x2="783.8" y2="192.1" stroke="#e9f097" stroke-width="3" stroke-dasharray="3 1.6"/>
<line x1="783.8" y1="192.1" x2="781.3" y2="223.8" stroke="#eaf094" stroke-width="3" stroke-dasharray="3 1.6"/>
<line x1="781.3" y1="223.8" x2="788.9" y2="229.5" stroke="#eaf092" stroke-width="3" stroke-dasharray="3 1.6"/>
<line x1="788.9" y1="229.5" x2="798.4" y2="235.2" stroke="#e7f092" stroke-width="3" stroke-dasharray="3 1.6"/>
<line x1="798.4" y1="235.2" x2="802.2" y2="244.7" stroke="#e6f092" stroke-width="3" stroke-dasharray="3 1.6"/>
<line x1="795.3" y1="131.3" x2="788.7" y2="159.2" stroke="#e4f09c" stroke-width="3" stroke-dasharray="3 1.6"/>
<line x1="788.7" y1="159.2" x2="788.9" y2="180.0" stroke="#e8f098" stroke-width="3" stroke-dasharray="3 1.6"/>
<line x1="788.9" y1="180.0" x2="793.7" y2="195.2" stroke="#e6f097" stroke-width="3" stroke-dasharray="3 1.6"/>
<line x1="793.7" y1="195.2" x2="796.5" y2="210.4" stroke="#e0f098" stroke-width="3" stroke-dasharray="3 1.6"/>
<line x1="796.5" y1="210.4" x2="802.2" y2="223.8" stroke="#dff097" stroke-width="3" stroke-dasharray="3 1.6"/>
<line x1="802.2" y1="223.8" x2="811.7" y2="237.1" stroke="#d9f09a" stroke-width="3" stroke-dasharray="3 1.6"/>
<line x1="811.7" y1="237.1" x2="819.4" y2="250.4" stroke="#d5f09d" stroke-width="3" stroke-dasharray="3 1.6"/>
<line x1="819.4" y1="250.4" x2="825.1" y2="261.8" stroke="#d7ef9a" stroke-width="3" stroke-dasharray="3 1.6"/>
<line x1="805.1" y1="116.4" x2="803.5" y2="149.3" stroke="#c9f0a7" stroke-width="3.5" stroke-dasharray="3 1.6"/>
<line x1="803.5" y1="149.3" x2="803.5" y2="175.7" stroke="#cdf0a5" stroke-width="3.5" stroke-dasharray="3 1.6"/>
<line x1="803.5" y1="175.7" x2="807.9" y2="189.5" stroke="#ccf0a4" stroke-width="3.5" stroke-dasharray="3 1.6"/>
<line x1="807.9" y1="189.5" x2="811.7" y2="204.7" stroke="#c5f0a6" stroke-width="3.5" stroke-dasharray="3 1.6"/>
<line x1="811.7" y1="204.7" x2="819.4" y2="218.0" stroke="#c1f0a8" stroke-width="3.5" stroke-dasharray="3 1.6"/>
<line x1="819.4" y1="218.0" x2="827.0" y2="231.4" stroke="#c2f0a7" stroke-width="3.5" stroke-dasharray="3 1.6"/>
<line x1="827.0" y1="231.4" x2="836.0" y2="246.0" stroke="#ccf0a2" stroke-width="3.5" stroke-dasharray="3 1.6"/>
<line x1="816.6" y1="109.9" x2="815.0" y2="139.5" stroke="#abf0b4" stroke-width="3.5" stroke-dasharray="3 1.6"/>
<line x1="815.0" y1="139.5" x2="818.3" y2="165.8" stroke="#aaf0b4" stroke-width="3.5" stroke-dasharray="3 1.6"/>
<line x1="818.3" y1="165.8" x2="821.3" y2="187.6" stroke="#a9f0b4" stroke-width="3.5" stroke-dasharray="3 1.6"/>
<line x1="821.3" y1="187.6" x2="827.0" y2="200.9" stroke="#aef0b1" stroke-width="3.5" stroke-dasharray="3 1.6"/>
<line x1="827.0" y1="200.9" x2="834.0" y2="215.0" stroke="#b6f0ad" stroke-width="3.5" stroke-dasharray="3 1.6"/>
<line x1="903.0" y1="88" x2="905.0" y2="110" stroke="#103b6c" stroke-width="1" stroke-dasharray="1 5" opacity="0.35"/>
<line x1="894.7" y1="88" x2="897.8" y2="110" stroke="#10446c" stroke-width="1" stroke-dasharray="1 5" opacity="0.35"/>
<line x1="885.2" y1="88" x2="890.0" y2="110" stroke="#104f6c" stroke-width="1" stroke-dasharray="1 5" opacity="0.35"/>
<line x1="879.0" y1="88" x2="884.0" y2="110" stroke="#10546c" stroke-width="1" stroke-dasharray="1 5" opacity="0.35"/>
<line x1="872.0" y1="88" x2="877.3" y2="110" stroke="#105a6c" stroke-width="1" stroke-dasharray="1 5" opacity="0.35"/>
<line x1="866.3" y1="88" x2="869.4" y2="110" stroke="#115f6c" stroke-width="1" stroke-dasharray="1 5" opacity="0.35"/>
<line x1="860.0" y1="88" x2="862.3" y2="110" stroke="#11636c" stroke-width="1" stroke-dasharray="1 5" opacity="0.35"/>
<line x1="844.2" y1="88" x2="853.6" y2="110" stroke="#14686b" stroke-width="1" stroke-dasharray="1 5" opacity="0.35"/>
<line x1="836.3" y1="88" x2="843.4" y2="110" stroke="#1c6766" stroke-width="1" stroke-dasharray="1 5" opacity="0.35"/>
<line x1="825.0" y1="88" x2="835.5" y2="110" stroke="#24655f" stroke-width="1" stroke-dasharray="1 5" opacity="0.35"/>
<line x1="897.8" y1="110" x2="899.4" y2="130" stroke="#0e486d" stroke-width="1" stroke-dasharray="1 5" opacity="0.35"/>
<line x1="884.0" y1="110" x2="890.7" y2="130" stroke="#0e586c" stroke-width="1" stroke-dasharray="1 5" opacity="0.35"/>
<line x1="877.3" y1="110" x2="885.0" y2="130" stroke="#0e5d6c" stroke-width="1" stroke-dasharray="1 5" opacity="0.35"/>
<line x1="869.4" y1="110" x2="878.9" y2="130" stroke="#0e626c" stroke-width="1" stroke-dasharray="1 5" opacity="0.35"/>
<line x1="862.3" y1="110" x2="871.0" y2="130" stroke="#0e686c" stroke-width="1" stroke-dasharray="1 5" opacity="0.35"/>
<line x1="853.6" y1="110" x2="863.0" y2="130" stroke="#106a6c" stroke-width="1" stroke-dasharray="1 5" opacity="0.35"/>
<line x1="843.4" y1="110" x2="852.0" y2="130" stroke="#176b69" stroke-width="1" stroke-dasharray="1 5" opacity="0.35"/>
<line x1="835.5" y1="110" x2="842.6" y2="130" stroke="#246a65" stroke-width="1" stroke-dasharray="1 5" opacity="0.35"/>
<line x1="826.0" y1="110" x2="834.7" y2="130" stroke="#2e6860" stroke-width="1" stroke-dasharray="1 5" opacity="0.35"/>
<line x1="899.4" y1="130" x2="907.3" y2="140" stroke="#0e456e" stroke-width="1" stroke-dasharray="1 5" opacity="0.35"/>
<line x1="890.7" y1="130" x2="897.8" y2="140" stroke="#0e526e" stroke-width="1" stroke-dasharray="1 5" opacity="0.35"/>
<line x1="885.0" y1="130" x2="891.5" y2="140" stroke="#0e5a6d" stroke-width="1" stroke-dasharray="1 5" opacity="0.35"/>
<line x1="878.9" y1="130" x2="880.5" y2="140" stroke="#0e616d" stroke-width="1" stroke-dasharray="1 5" opacity="0.35"/>
<line x1="871.0" y1="130" x2="874.2" y2="140" stroke="#0e656c" stroke-width="1" stroke-dasharray="1 5" opacity="0.35"/>
<line x1="863.0" y1="130" x2="866.3" y2="140" stroke="#0f6a6c" stroke-width="1" stroke-dasharray="1 5" opacity="0.35"/>
<line x1="852.0" y1="130" x2="852.0" y2="140" stroke="#166b6a" stroke-width="1" stroke-dasharray="1 5" opacity="0.35"/>
<line x1="842.6" y1="130" x2="844.2" y2="140" stroke="#216a66" stroke-width="1" stroke-dasharray="1 5" opacity="0.35"/>
<line x1="834.7" y1="130" x2="834.0" y2="140" stroke="#2d6960" stroke-width="1" stroke-dasharray="1 5" opacity="0.35"/>
<line x1="826.0" y1="130" x2="825.0" y2="140" stroke="#34695c" stroke-width="1" stroke-dasharray="1 5" opacity="0.35"/>
<line x1="897.8" y1="140" x2="902.6" y2="160" stroke="#0e4d6f" stroke-width="1" stroke-dasharray="1 5" opacity="0.35"/>
<line x1="891.5" y1="140" x2="894.7" y2="160" stroke="#0e566f" stroke-width="1" stroke-dasharray="1 5" opacity="0.35"/>
<line x1="880.5" y1="140" x2="888.4" y2="160" stroke="#0e5f6e" stroke-width="1" stroke-dasharray="1 5" opacity="0.35"/>
<line x1="874.2" y1="140" x2="878.9" y2="160" stroke="#0e656d" stroke-width="1" stroke-dasharray="1 5" opacity="0.35"/>
<line x1="866.3" y1="140" x2="869.4" y2="160" stroke="#0e6a6c" stroke-width="1" stroke-dasharray="1 5" opacity="0.35"/>
<line x1="852.0" y1="140" x2="858.4" y2="160" stroke="#176b6a" stroke-width="1" stroke-dasharray="1 5" opacity="0.35"/>
<line x1="844.2" y1="140" x2="847.3" y2="160" stroke="#226a65" stroke-width="1" stroke-dasharray="1 5" opacity="0.35"/>
<line x1="834.0" y1="140" x2="835.5" y2="160" stroke="#2f6a5f" stroke-width="1" stroke-dasharray="1 5" opacity="0.35"/>
<line x1="825.0" y1="140" x2="826.0" y2="160" stroke="#376a5a" stroke-width="1" stroke-dasharray="1 5" opacity="0.35"/>
<line x1="902.6" y1="160" x2="907.3" y2="180" stroke="#0e4a70" stroke-width="1" stroke-dasharray="1 5" opacity="0.35"/>
<line x1="894.7" y1="160" x2="902.6" y2="180" stroke="#0e5370" stroke-width="1" stroke-dasharray="1 5" opacity="0.35"/>
<line x1="888.4" y1="160" x2="891.5" y2="180" stroke="#0e5d6f" stroke-width="1" stroke-dasharray="1 5" opacity="0.35"/>
<line x1="878.9" y1="160" x2="885.2" y2="180" stroke="#0e646e" stroke-width="1" stroke-dasharray="1 5" opacity="0.35"/>
<line x1="869.4" y1="160" x2="875.7" y2="180" stroke="#11686c" stroke-width="1" stroke-dasharray="1 5" opacity="0.35"/>
<line x1="858.4" y1="160" x2="864.7" y2="180" stroke="#176c69" stroke-width="1" stroke-dasharray="1 5" opacity="0.35"/>
<line x1="847.3" y1="160" x2="853.6" y2="180" stroke="#236b65" stroke-width="1" stroke-dasharray="1 5" opacity="0.35"/>
<line x1="835.5" y1="160" x2="842.6" y2="180" stroke="#316b5e" stroke-width="1" stroke-dasharray="1 5" opacity="0.35"/>
<line x1="826.0" y1="160" x2="830.0" y2="180" stroke="#3a6b58" stroke-width="1" stroke-dasharray="1 5" opacity="0.35"/>
<line x1="902.6" y1="180" x2="907.3" y2="190" stroke="#0e4d70" stroke-width="1" stroke-dasharray="1 5" opacity="0.35"/>
<line x1="896.3" y1="180" x2="896.3" y2="190" stroke="#0e5970" stroke-width="1" stroke-dasharray="1 5" opacity="0.35"/>
<line x1="891.5" y1="180" x2="890.0" y2="190" stroke="#0e5f6f" stroke-width="1" stroke-dasharray="1 5" opacity="0.35"/>
<line x1="885.2" y1="180" x2="882.0" y2="190" stroke="#0e646d" stroke-width="1" stroke-dasharray="1 5" opacity="0.35"/>
<line x1="875.7" y1="180" x2="872.6" y2="190" stroke="#13686b" stroke-width="1" stroke-dasharray="1 5" opacity="0.35"/>
<line x1="864.7" y1="180" x2="866.3" y2="190" stroke="#186c69" stroke-width="1" stroke-dasharray="1 5" opacity="0.35"/>
<line x1="853.6" y1="180" x2="856.8" y2="190" stroke="#246b64" stroke-width="1" stroke-dasharray="1 5" opacity="0.35"/>
<line x1="842.6" y1="180" x2="847.3" y2="190" stroke="#306b5f" stroke-width="1" stroke-dasharray="1 5" opacity="0.35"/>
<line x1="830.0" y1="180" x2="836.3" y2="190" stroke="#3b6b58" stroke-width="1" stroke-dasharray="1 5" opacity="0.35"/>
<line x1="820.0" y1="180" x2="828.0" y2="190" stroke="#436b53" stroke-width="1" stroke-dasharray="1 5" opacity="0.35"/>
<line x1="890.0" y1="190" x2="897.8" y2="210" stroke="#0e5e70" stroke-width="1" stroke-dasharray="1 5" opacity="0.35"/>
<line x1="882.0" y1="190" x2="890.0" y2="210" stroke="#0e656e" stroke-width="1" stroke-dasharray="1 5" opacity="0.35"/>
<line x1="872.6" y1="190" x2="882.0" y2="210" stroke="#13686b" stroke-width="1" stroke-dasharray="1 5" opacity="0.35"/>
<line x1="866.3" y1="190" x2="871.0" y2="210" stroke="#1b6a68" stroke-width="1" stroke-dasharray="1 5" opacity="0.35"/>
<line x1="856.8" y1="190" x2="863.0" y2="210" stroke="#246c64" stroke-width="1" stroke-dasharray="1 5" opacity="0.35"/>
<line x1="847.3" y1="190" x2="852.0" y2="210" stroke="#316c5e" stroke-width="1" stroke-dasharray="1 5" opacity="0.35"/>
<line x1="836.3" y1="190" x2="844.2" y2="210" stroke="#3a6c59" stroke-width="1" stroke-dasharray="1 5" opacity="0.35"/>
<line x1="828.0" y1="190" x2="828.4" y2="210" stroke="#446c51" stroke-width="1" stroke-dasharray="1 5" opacity="0.35"/>
<line x1="897.8" y1="210" x2="902.6" y2="230" stroke="#0e5770" stroke-width="1" stroke-dasharray="1 5" opacity="0.35"/>
<line x1="890.0" y1="210" x2="894.7" y2="230" stroke="#0e616f" stroke-width="1" stroke-dasharray="1 5" opacity="0.35"/>
<line x1="882.0" y1="210" x2="888.4" y2="230" stroke="#0e676d" stroke-width="1" stroke-dasharray="1 5" opacity="0.35"/>
<line x1="871.0" y1="210" x2="872.6" y2="230" stroke="#1c6968" stroke-width="1" stroke-dasharray="1 5" opacity="0.35"/>
<line x1="863.0" y1="210" x2="867.8" y2="230" stroke="#236b65" stroke-width="1" stroke-dasharray="1 5" opacity="0.35"/>
<line x1="852.0" y1="210" x2="860.0" y2="230" stroke="#2e6c60" stroke-width="1" stroke-dasharray="1 5" opacity="0.35"/>
<line x1="844.2" y1="210" x2="847.3" y2="230" stroke="#396c5a" stroke-width="1" stroke-dasharray="1 5" opacity="0.35"/>
<line x1="828.4" y1="210" x2="839.4" y2="230" stroke="#436c53" stroke-width="1" stroke-dasharray="1 5" opacity="0.35"/>
<line x1="822.0" y1="210" x2="825.2" y2="230" stroke="#4c6c4d" stroke-width="1" stroke-dasharray="1 5" opacity="0.35"/>
<line x1="809.5" y1="210" x2="815.8" y2="230" stroke="#556c48" stroke-width="1" stroke-dasharray="1 5" opacity="0.35"/>
<line x1="902.6" y1="230" x2="904.0" y2="250" stroke="#0e5370" stroke-width="1" stroke-dasharray="1 5" opacity="0.35"/>
<line x1="894.7" y1="230" x2="897.3" y2="250" stroke="#0e5b70" stroke-width="1" stroke-dasharray="1 5" opacity="0.35"/>
<line x1="888.4" y1="230" x2="890.6" y2="250" stroke="#0e636e" stroke-width="1" stroke-dasharray="1 5" opacity="0.35"/>
<line x1="880.5" y1="230" x2="883.9" y2="250" stroke="#10696c" stroke-width="1" stroke-dasharray="1 5" opacity="0.35"/>
<line x1="872.6" y1="230" x2="877.2" y2="250" stroke="#1a6a68" stroke-width="1" stroke-dasharray="1 5" opacity="0.35"/>
<line x1="867.8" y1="230" x2="868.8" y2="250" stroke="#236c66" stroke-width="1" stroke-dasharray="1 5" opacity="0.35"/>
<line x1="860.0" y1="230" x2="862.0" y2="250" stroke="#2a6c62" stroke-width="1" stroke-dasharray="1 5" opacity="0.35"/>
<line x1="847.3" y1="230" x2="857.0" y2="250" stroke="#346c5d" stroke-width="1" stroke-dasharray="1 5" opacity="0.35"/>
<line x1="839.4" y1="230" x2="847.0" y2="250" stroke="#3c6c58" stroke-width="1" stroke-dasharray="1 5" opacity="0.35"/>
<line x1="825.2" y1="230" x2="828.6" y2="250" stroke="#496c4f" stroke-width="1" stroke-dasharray="1 5" opacity="0.35"/>
<line x1="815.8" y1="230" x2="818.5" y2="250" stroke="#526c4a" stroke-width="1" stroke-dasharray="1 5" opacity="0.35"/>
<line x1="803.0" y1="230" x2="811.8" y2="250" stroke="#5d6c44" stroke-width="1" stroke-dasharray="1 5" opacity="0.35"/>
<line x1="897.3" y1="250" x2="903.0" y2="268" stroke="#0e5770" stroke-width="1" stroke-dasharray="1 5" opacity="0.35"/>
<line x1="890.6" y1="250" x2="896.0" y2="268" stroke="#0f5e6e" stroke-width="1" stroke-dasharray="1 5" opacity="0.35"/>
<line x1="883.9" y1="250" x2="889.0" y2="268" stroke="#10666c" stroke-width="1" stroke-dasharray="1 5" opacity="0.35"/>
<line x1="877.2" y1="250" x2="882.0" y2="268" stroke="#16696a" stroke-width="1" stroke-dasharray="1 5" opacity="0.35"/>
<line x1="868.8" y1="250" x2="875.0" y2="268" stroke="#206b66" stroke-width="1" stroke-dasharray="1 5" opacity="0.35"/>
<line x1="862.0" y1="250" x2="868.0" y2="268" stroke="#286c63" stroke-width="1" stroke-dasharray="1 5" opacity="0.35"/>
<line x1="857.0" y1="250" x2="861.0" y2="268" stroke="#2f6c5f" stroke-width="1" stroke-dasharray="1 5" opacity="0.35"/>
<line x1="847.0" y1="250" x2="854.0" y2="268" stroke="#386c5a" stroke-width="1" stroke-dasharray="1 5" opacity="0.35"/>
<line x1="838.6" y1="250" x2="846.0" y2="268" stroke="#3f6c56" stroke-width="1" stroke-dasharray="1 5" opacity="0.35"/>
<line x1="828.6" y1="250" x2="838.0" y2="268" stroke="#476c50" stroke-width="1" stroke-dasharray="1 5" opacity="0.35"/>
<line x1="818.5" y1="250" x2="822.0" y2="268" stroke="#526c49" stroke-width="1" stroke-dasharray="1 5" opacity="0.35"/>
<line x1="811.8" y1="250" x2="814.0" y2="268" stroke="#5a6c44" stroke-width="1" stroke-dasharray="1 5" opacity="0.35"/>
<line x1="803.4" y1="250" x2="806.0" y2="268" stroke="#636c3f" stroke-width="1" stroke-dasharray="1 5" opacity="0.35"/>
<line x1="795.0" y1="250" x2="798.0" y2="268" stroke="#696c3d" stroke-width="1" stroke-dasharray="1 5" opacity="0.35"/>
<rect x="733.7" y="276.9" width="4" height="4" fill="#f08878"/>
<rect x="743.2" y="267.4" width="4" height="4" fill="#f09078"/>
<rect x="754.6" y="267.4" width="4" height="4" fill="#f08878"/>
<rect x="760.3" y="276.9" width="4" height="4" fill="#f07870"/>
<rect x="777.4" y="259.8" width="4" height="4" fill="#f0a078"/>
<rect x="779.3" y="273.1" width="4" height="4" fill="#f08070"/>
<rect x="786.9" y="265.5" width="4" height="4" fill="#f09070"/>
<rect x="790.7" y="256.0" width="4" height="4" fill="#f0c880"/>
<rect x="802.1" y="261.7" width="4" height="4" fill="#f0d080"/>
<rect x="809.7" y="267.4" width="4" height="4" fill="#f0d880"/>
<rect x="821.2" y="273.1" width="4" height="4" fill="#f0e080"/>
<rect x="738.0" y="272.0" width="4" height="4" fill="#f09080"/>
<rect x="748.0" y="275.0" width="4" height="4" fill="#f08878"/>
<rect x="766.0" y="270.0" width="4" height="4" fill="#f0a078"/>
<rect x="770.0" y="278.0" width="4" height="4" fill="#f07870"/>
<rect x="788.0" y="274.0" width="4" height="4" fill="#f0b078"/>
<rect x="796.0" y="268.0" width="4" height="4" fill="#f0c078"/>
<rect x="726.0" y="268.0" width="4" height="4" fill="#f0a090"/>
<rect x="751.0" y="260.0" width="4" height="4" fill="#f0b080"/>
<rect x="764.0" y="260.0" width="4" height="4" fill="#f0c080"/>
<polyline points="702.4,244.7 704.3,255.1 703.3,271.3" fill="none" stroke="#845654" stroke-width="1" stroke-dasharray="1 3.6" stroke-dashoffset="-1" opacity="0.55"/>
<polyline points="709.0,259.9 708.0,265.6 710.0,276.0" fill="none" stroke="#845450" stroke-width="1" stroke-dasharray="1 3.6" stroke-dashoffset="-1" opacity="0.55"/>
<polyline points="717.6,236.1 716.6,250.4 718.5,258.0 721.4,263.7 719.5,271.3 724.2,277.0" fill="none" stroke="#845a4f" stroke-width="1" stroke-dasharray="1 3.6" stroke-dashoffset="-1" opacity="0.55"/>
<polyline points="732.8,225.7 730.0,235.2 726.1,242.8 728.0,250.4 732.0,262.0" fill="none" stroke="#846752" stroke-width="1" stroke-dasharray="1 3.6" stroke-dashoffset="-1" opacity="0.55"/>
<polyline points="739.3,172.4 737.7,198.7 736.6,210.4 735.7,218.0 737.6,233.3 735.7,240.9 740.4,252.3 745.2,254.2 750.9,252.3" fill="none" stroke="#847351" stroke-width="1" stroke-dasharray="1 3.6" stroke-dashoffset="-1" opacity="0.55"/>
<polyline points="750.9,164.0 750.9,185.5 747.0,201.0 749.0,208.5 747.0,223.8 751.8,229.5 755.6,240.9 759.4,256.1" fill="none" stroke="#847d51" stroke-width="1" stroke-dasharray="1 3.6" stroke-dashoffset="-1" opacity="0.55"/>
<polyline points="760.7,157.6 759.0,182.2 760.4,202.8 761.3,227.6 762.3,235.2" fill="none" stroke="#838453" stroke-width="1" stroke-dasharray="1 3.6" stroke-dashoffset="-1" opacity="0.55"/>
<polyline points="772.2,149.3 769.0,175.7 769.9,189.5 776.5,204.7 778.5,218.0" fill="none" stroke="#828453" stroke-width="1" stroke-dasharray="1 3.6" stroke-dashoffset="-1" opacity="0.55"/>
<polyline points="771.8,220.0 779.4,235.2 773.7,242.8 773.7,256.1" fill="none" stroke="#82844f" stroke-width="1" stroke-dasharray="1 3.6" stroke-dashoffset="-1" opacity="0.55"/>
<polyline points="783.8,139.5 782.1,165.8 783.8,192.1 781.3,223.8 788.9,229.5 798.4,235.2 802.2,244.7" fill="none" stroke="#818450" stroke-width="1" stroke-dasharray="1 3.6" stroke-dashoffset="-1" opacity="0.55"/>
<polyline points="795.3,131.3 788.7,159.2 788.9,180.0 793.7,195.2 796.5,210.4 802.2,223.8 811.7,237.1 819.4,250.4 825.1,261.8" fill="none" stroke="#7b8453" stroke-width="1" stroke-dasharray="1 3.6" stroke-dashoffset="-1" opacity="0.55"/>
<polyline points="805.1,116.4 803.5,149.3 803.5,175.7 807.9,189.5 811.7,204.7 819.4,218.0 827.0,231.4 836.0,246.0" fill="none" stroke="#6c845b" stroke-width="1" stroke-dasharray="1 3.6" stroke-dashoffset="-1" opacity="0.55"/>
<polyline points="816.6,109.9 815.0,139.5 818.3,165.8 821.3,187.6 827.0,200.9 834.0,215.0" fill="none" stroke="#5f8462" stroke-width="1" stroke-dasharray="1 3.6" stroke-dashoffset="-1" opacity="0.55"/>
<rect x="909.8" y="15.5" width="3.6" height="3.6" fill="#304fe0" transform="rotate(45 911.6 17.3)"/>
<rect x="917.6" y="20.3" width="3.6" height="3.6" fill="#3048e0" transform="rotate(45 919.4 22.1)"/>
<rect x="896.5" y="21.9" width="3.6" height="3.6" fill="#305ce6" transform="rotate(45 898.3 23.7)"/>
<rect x="929.2" y="29.3" width="3.6" height="3.6" fill="#2f3fe0" transform="rotate(45 931.0 31.1)"/>
<rect x="887.8" y="29.0" width="3.6" height="3.6" fill="#306ceb" transform="rotate(45 889.6 30.8)"/>
<rect x="905.1" y="37.1" width="3.6" height="3.6" fill="#3053e2" transform="rotate(45 906.9 38.9)"/>
<rect x="896.0" y="41.5" width="3.6" height="3.6" fill="#305de7" transform="rotate(45 897.8 43.3)"/>
<rect x="919.8" y="44.9" width="3.6" height="3.6" fill="#3047e0" transform="rotate(45 921.6 46.7)"/>
<rect x="938.0" y="51.5" width="3.6" height="3.6" fill="#2838e0" transform="rotate(45 939.8 53.3)"/>
<rect x="805.1" y="52.0" width="3.6" height="3.6" fill="#43e1dd" transform="rotate(45 806.9 53.8)"/>
<rect x="809.2" y="60.3" width="3.6" height="3.6" fill="#41e0df" transform="rotate(45 811.0 62.1)"/>
<rect x="816.2" y="60.3" width="3.6" height="3.6" fill="#3cdde4" transform="rotate(45 818.0 62.1)"/>
<rect x="822.4" y="56.9" width="3.6" height="3.6" fill="#38dae8" transform="rotate(45 824.2 58.7)"/>
<rect x="814.8" y="65.2" width="3.6" height="3.6" fill="#3ddde3" transform="rotate(45 816.6 67.0)"/>
<rect x="825.9" y="67.2" width="3.6" height="3.6" fill="#36d9ea" transform="rotate(45 827.7 69.0)"/>
<rect x="821.0" y="70.7" width="3.6" height="3.6" fill="#39dbe7" transform="rotate(45 822.8 72.5)"/>
<rect x="832.1" y="72.1" width="3.6" height="3.6" fill="#33d3ed" transform="rotate(45 833.9 73.9)"/>
<rect x="839.0" y="62.4" width="3.6" height="3.6" fill="#33caed" transform="rotate(45 840.8 64.2)"/>
<rect x="845.2" y="67.2" width="3.6" height="3.6" fill="#32c1ee" transform="rotate(45 847.0 69.0)"/>
<rect x="850.8" y="71.4" width="3.6" height="3.6" fill="#31baef" transform="rotate(45 852.6 73.2)"/>
<rect x="850.1" y="52.0" width="3.6" height="3.6" fill="#31bbef" transform="rotate(45 851.9 53.8)"/>
<rect x="854.2" y="58.2" width="3.6" height="3.6" fill="#31b5ef" transform="rotate(45 856.0 60.0)"/>
<rect x="861.8" y="63.1" width="3.6" height="3.6" fill="#30a7f0" transform="rotate(45 863.6 64.9)"/>
<rect x="868.7" y="42.3" width="3.6" height="3.6" fill="#3097f0" transform="rotate(45 870.5 44.1)"/>
<rect x="873.6" y="48.6" width="3.6" height="3.6" fill="#308bf0" transform="rotate(45 875.4 50.4)"/>
<rect x="875.0" y="54.1" width="3.6" height="3.6" fill="#3088f0" transform="rotate(45 876.8 55.9)"/>
<rect x="879.8" y="61.7" width="3.6" height="3.6" fill="#307def" transform="rotate(45 881.6 63.5)"/>
<rect x="869.4" y="67.9" width="3.6" height="3.6" fill="#3095f0" transform="rotate(45 871.2 69.7)"/>
<rect x="881.2" y="67.9" width="3.6" height="3.6" fill="#307aee" transform="rotate(45 883.0 69.7)"/>
<rect x="875.7" y="75.5" width="3.6" height="3.6" fill="#3086f0" transform="rotate(45 877.5 77.3)"/>
<rect x="886.0" y="47.2" width="3.6" height="3.6" fill="#306fec" transform="rotate(45 887.8 49.0)"/>
<rect x="886.0" y="52.0" width="3.6" height="3.6" fill="#306fec" transform="rotate(45 887.8 53.8)"/>
<rect x="888.8" y="58.9" width="3.6" height="3.6" fill="#3069ea" transform="rotate(45 890.6 60.7)"/>
<rect x="889.5" y="63.8" width="3.6" height="3.6" fill="#3068ea" transform="rotate(45 891.3 65.6)"/>
<rect x="895.7" y="41.0" width="3.6" height="3.6" fill="#305de7" transform="rotate(45 897.5 42.8)"/>
<rect x="897.8" y="51.3" width="3.6" height="3.6" fill="#305be6" transform="rotate(45 899.6 53.1)"/>
<rect x="897.1" y="58.2" width="3.6" height="3.6" fill="#305ce6" transform="rotate(45 898.9 60.0)"/>
<rect x="900.6" y="62.4" width="3.6" height="3.6" fill="#3058e4" transform="rotate(45 902.4 64.2)"/>
<rect x="906.1" y="52.7" width="3.6" height="3.6" fill="#3052e1" transform="rotate(45 907.9 54.5)"/>
<rect x="895.7" y="69.3" width="3.6" height="3.6" fill="#305de7" transform="rotate(45 897.5 71.1)"/>
<rect x="906.1" y="67.9" width="3.6" height="3.6" fill="#3052e1" transform="rotate(45 907.9 69.7)"/>
<rect x="911.6" y="60.3" width="3.6" height="3.6" fill="#304de0" transform="rotate(45 913.4 62.1)"/>
<rect x="919.2" y="44.4" width="3.6" height="3.6" fill="#3047e0" transform="rotate(45 921.0 46.2)"/>
<rect x="919.9" y="60.3" width="3.6" height="3.6" fill="#3047e0" transform="rotate(45 921.7 62.1)"/>
<rect x="912.3" y="67.2" width="3.6" height="3.6" fill="#304de0" transform="rotate(45 914.1 69.0)"/>
<rect x="913.0" y="73.5" width="3.6" height="3.6" fill="#304ce0" transform="rotate(45 914.8 75.3)"/>
<rect x="905.4" y="76.2" width="3.6" height="3.6" fill="#3053e1" transform="rotate(45 907.2 78.0)"/>
<rect x="892.2" y="76.9" width="3.6" height="3.6" fill="#3062e9" transform="rotate(45 894.0 78.7)"/>
<rect x="881.2" y="79.7" width="3.6" height="3.6" fill="#307aee" transform="rotate(45 883.0 81.5)"/>
<rect x="867.4" y="79.0" width="3.6" height="3.6" fill="#309af0" transform="rotate(45 869.2 80.8)"/>
<rect x="856.3" y="78.3" width="3.6" height="3.6" fill="#30b3f0" transform="rotate(45 858.1 80.1)"/>
<rect x="845.2" y="81.8" width="3.6" height="3.6" fill="#32c1ee" transform="rotate(45 847.0 83.6)"/>
<rect x="833.5" y="83.2" width="3.6" height="3.6" fill="#33d1ed" transform="rotate(45 835.3 85.0)"/>
<rect x="824.5" y="78.3" width="3.6" height="3.6" fill="#36d9ea" transform="rotate(45 826.3 80.1)"/>
<rect x="936.5" y="51.3" width="3.6" height="3.6" fill="#2939e0" transform="rotate(45 938.3 53.1)"/>
<rect x="896.4" y="82.5" width="3.6" height="3.6" fill="#305de6" transform="rotate(45 898.2 84.3)"/>
<rect x="908.9" y="83.8" width="3.6" height="3.6" fill="#304fe0" transform="rotate(45 910.7 85.6)"/>
<rect x="918.5" y="70.0" width="3.6" height="3.6" fill="#3048e0" transform="rotate(45 920.3 71.8)"/>
<rect x="919.9" y="78.3" width="3.6" height="3.6" fill="#3047e0" transform="rotate(45 921.7 80.1)"/>
<rect x="700.8" y="243.1" width="3.2" height="3.2" fill="#f0a29f"/>
<rect x="707.4" y="258.4" width="3.2" height="3.2" fill="#f09d95"/>
<rect x="706.4" y="264.0" width="3.2" height="3.2" fill="#f09992"/>
<rect x="710.4" y="248.4" width="3.2" height="3.2" fill="#f0a699"/>
<rect x="712.4" y="273.4" width="3.2" height="3.2" fill="#f0968c"/>
<rect x="696.4" y="260.4" width="3.2" height="3.2" fill="#f09696"/>
<rect x="709.4" y="280.4" width="3.2" height="3.2" fill="#f0918a"/>
<rect x="742.4" y="163.4" width="3.2" height="3.2" fill="#efed9d"/>
<rect x="753.4" y="156.4" width="3.2" height="3.2" fill="#edf09d"/>
<rect x="764.4" y="148.4" width="3.2" height="3.2" fill="#ebf09d"/>
<rect x="776.4" y="140.4" width="3.2" height="3.2" fill="#eaf09b"/>
<rect x="788.2" y="133.2" width="3.6" height="3.6" fill="#e8f09a" transform="rotate(45 790.0 135.0)"/>
<rect x="733.4" y="178.4" width="3.2" height="3.2" fill="#f0e29b"/>
<rect x="728.4" y="198.4" width="3.2" height="3.2" fill="#f0d599"/>
<rect x="723.4" y="210.4" width="3.2" height="3.2" fill="#f0ca99"/>
<rect x="588" y="282" width="426" height="6.5" fill="#000"/>
<rect x="955" y="56" width="5" height="227" fill="#ee1479"/><rect x="955" y="56" width="1.3" height="227" fill="#dc3080"/>
<clipPath id="cc"><polygon points="39.0,553.0 45.0,553.0 47.0,546.0 52.0,546.0 55.0,555.0 62.0,555.0 65.0,547.0 70.0,547.0 74.5,549.0 84.0,553.0 89.0,548.0 101.6,540.7 111.5,537.0 121.4,541.9 131.2,539.4 143.5,539.4 153.4,537.0 160.8,545.6 173.1,548.0 178.0,537.0 197.8,538.2 202.7,546.8 212.6,541.9 227.4,532.0 237.2,530.8 247.1,539.4 261.9,529.6 274.2,528.4 280.0,528.0 289.5,526.8 299.0,541.0 310.8,526.8 315.5,524.4 322.6,533.9 334.4,533.9 342.7,524.4 351.0,531.5 365.2,529.2 374.7,519.7 384.1,513.8 393.6,520.9 401.9,517.3 412.5,524.4 422.0,526.8 431.5,515.0 445.7,515.0 459.9,505.5 469.3,505.5 481.2,507.9 488.3,496.0 497.7,489.0 500.0,488.2 511.8,486.8 523.5,486.8 529.4,494.1 544.1,497.0 552.9,495.6 563.2,489.7 570.6,494.1 580.9,485.3 588.2,492.6 604.4,480.9 611.8,483.8 622.0,472.0 632.4,476.5 644.0,469.0 655.9,460.3 667.6,463.2 679.4,454.4 691.2,450.0 703.0,442.6 711.8,436.8 720.6,441.2 731.8,437.6 743.5,441.2 755.3,445.6 762.6,436.8 772.9,435.3 787.6,433.8 799.4,427.9 808.2,432.4 822.9,438.2 831.8,435.3 843.5,441.2 855.3,435.3 867.1,439.7 881.8,429.4 896.5,432.4 908.2,439.7 925.9,441.2 937.6,443.5 945.0,444.1 945.0,426.5 951.0,426.5 951.0,558.5 39.0,558.5"/></clipPath>
<clipPath id="cc"><polygon points="39.0,553.3 43.8,553.3 43.8,548.7 48.7,548.7 48.7,546.1 52.4,546.1 52.4,553.2 58.6,553.2 58.6,556.4 61.9,556.4 61.9,553.0 65.1,553.0 65.1,550.6 70.7,550.6 70.7,550.2 75.8,550.2 75.8,550.1 79.0,550.1 79.0,552.3 85.3,552.3 85.3,549.9 90.3,549.9 90.3,548.2 94.4,548.2 94.4,543.9 100.8,543.9 100.8,544.6 104.7,544.6 104.7,540.2 109.3,540.2 109.3,542.8 116.2,542.8 116.2,540.8 122.8,540.8 122.8,539.1 127.4,539.1 127.4,542.6 133.5,542.6 133.5,544.3 140.4,544.3 140.4,537.5 143.8,537.5 143.8,539.1 147.5,539.1 147.5,543.9 151.2,543.9 151.2,540.6 154.7,540.6 154.7,543.8 161.6,543.8 161.6,545.1 168.1,545.1 168.1,554.2 174.5,554.2 174.5,539.4 178.4,539.4 178.4,539.5 182.7,539.5 182.7,536.3 188.0,536.3 188.0,537.5 192.5,537.5 192.5,538.4 197.5,538.4 197.5,539.4 201.2,539.4 201.2,550.1 207.5,550.1 207.5,541.4 214.2,541.4 214.2,539.1 220.8,539.1 220.8,533.3 224.2,533.3 224.2,533.7 228.1,533.7 228.1,532.0 234.4,532.0 234.4,535.6 238.1,535.6 238.1,535.4 243.4,535.4 243.4,542.8 247.5,542.8 247.5,541.1 251.6,541.1 251.6,539.4 256.0,539.4 256.0,533.4 262.6,533.4 262.6,532.7 268.4,532.7 268.4,530.6 271.4,530.6 271.4,526.2 278.3,526.2 278.3,528.9 283.2,528.9 283.2,525.3 290.2,525.3 290.2,534.1 296.2,534.1 296.2,542.2 302.0,542.2 302.0,535.6 306.4,535.6 306.4,527.9 312.9,527.9 312.9,525.5 319.3,525.5 319.3,532.9 323.8,532.9 323.8,534.5 327.2,534.5 327.2,534.9 333.7,534.9 333.7,531.7 339.6,531.7 339.6,522.7 346.0,522.7 346.0,529.0 349.1,529.0 349.1,532.4 353.0,532.4 353.0,532.6 358.5,532.6 358.5,529.2 361.5,529.2 361.5,528.0 365.3,528.0 365.3,526.0 371.0,526.0 371.0,526.3 375.3,526.3 375.3,519.2 381.5,519.2 381.5,514.4 386.0,514.4 386.0,516.6 389.6,516.6 389.6,521.2 396.0,521.2 396.0,517.5 400.1,517.5 400.1,516.2 404.2,516.2 404.2,520.7 409.7,520.7 409.7,526.6 416.1,526.6 416.1,523.7 419.4,523.7 419.4,527.4 422.5,527.4 422.5,528.2 426.8,528.2 426.8,515.8 431.6,515.8 431.6,518.3 435.5,518.3 435.5,515.6 440.3,515.6 440.3,517.0 446.5,517.0 446.5,516.1 450.3,516.1 450.3,515.0 455.2,515.0 455.2,508.0 459.6,508.0 459.6,506.6 465.1,506.6 465.1,513.1 471.2,513.1 471.2,504.9 477.1,504.9 477.1,509.4 482.6,509.4 482.6,502.8 487.9,502.8 487.9,493.6 494.7,493.6 494.7,490.8 498.5,490.8 498.5,494.7 504.1,494.7 504.1,489.4 511.0,489.4 511.0,486.0 517.1,486.0 517.1,490.5 523.6,490.5 523.6,491.3 528.8,491.3 528.8,501.0 531.9,501.0 531.9,494.2 535.6,494.2 535.6,494.1 539.1,494.1 539.1,498.1 545.0,498.1 545.0,496.3 551.8,496.3 551.8,494.0 555.2,494.0 555.2,494.1 559.3,494.1 559.3,492.0 564.4,492.0 564.4,491.2 568.7,491.2 568.7,491.7 575.3,491.7 575.3,487.3 582.1,487.3 582.1,488.6 585.9,488.6 585.9,490.2 591.4,490.2 591.4,488.1 596.4,488.1 596.4,484.7 601.7,484.7 601.7,481.9 604.9,481.9 604.9,484.3 611.8,484.3 611.8,479.4 616.7,479.4 616.7,476.3 622.9,476.3 622.9,472.0 627.2,472.0 627.2,474.1 633.9,474.1 633.9,473.2 637.0,473.2 637.0,470.9 642.7,470.9 642.7,466.2 648.2,466.2 648.2,464.7 651.7,464.7 651.7,462.1 655.5,462.1 655.5,460.4 660.0,460.4 660.0,460.5 663.6,460.5 663.6,463.0 669.2,463.0 669.2,461.6 674.6,461.6 674.6,457.1 680.6,457.1 680.6,452.3 684.9,452.3 684.9,453.8 688.7,453.8 688.7,449.1 692.3,449.1 692.3,446.3 696.3,446.3 696.3,450.8 701.0,450.8 701.0,445.0 706.7,445.0 706.7,444.5 713.4,444.5 713.4,439.1 719.4,439.1 719.4,442.2 723.2,442.2 723.2,439.6 728.4,439.6 728.4,442.3 732.0,442.3 732.0,443.8 738.9,443.8 738.9,440.7 745.7,440.7 745.7,442.7 750.0,442.7 750.0,450.1 754.8,450.1 754.8,441.0 761.1,441.0 761.1,439.7 767.1,439.7 767.1,433.6 772.1,433.6 772.1,436.0 778.3,436.0 778.3,434.0 783.9,434.0 783.9,436.0 788.9,436.0 788.9,434.0 792.9,434.0 792.9,431.0 799.0,431.0 799.0,431.1 805.6,431.1 805.6,433.7 811.7,433.7 811.7,433.0 817.6,433.0 817.6,434.9 822.4,434.9 822.4,438.0 828.0,438.0 828.0,436.2 834.8,436.2 834.8,438.5 840.4,438.5 840.4,443.0 845.0,443.0 845.0,440.2 850.8,440.2 850.8,437.3 853.9,437.3 853.9,438.7 857.9,438.7 857.9,435.3 862.4,435.3 862.4,439.4 869.0,439.4 869.0,436.2 875.9,436.2 875.9,437.7 881.4,437.7 881.4,427.9 887.5,427.9 887.5,435.3 891.1,435.3 891.1,429.9 896.6,429.9 896.6,434.0 901.3,434.0 901.3,435.8 905.7,435.8 905.7,438.8 911.0,438.8 911.0,438.0 915.1,438.0 915.1,438.9 918.3,438.9 918.3,442.5 922.9,442.5 922.9,443.2 926.1,443.2 926.1,443.3 929.4,443.3 929.4,444.4 934.3,444.4 934.3,445.3 939.4,445.3 939.4,445.9 944.2,445.9 944.2,442.4 945.0,442.4 945.0,444.0 945.0,426.5 951.0,426.5 951.0,558.5 39.0,558.5"/></clipPath>
<g clip-path="url(#cc)">
<polygon points="39,553 44,553 44,549 49,549 49,546 52,546 52,553 59,553 59,556 62,556 62,553 65,553 65,551 71,551 71,550 76,550 76,550 79,550 79,552 85,552 85,550 90,550 90,548 94,548 94,544 101,544 101,545 105,545 105,540 109,540 109,543 116,543 116,541 123,541 123,539 127,539 127,543 134,543 134,544 140,544 140,537 144,537 144,539 147,539 147,544 151,544 151,541 155,541 155,544 162,544 162,545 168,545 168,554 175,554 175,539 178,539 178,540 183,540 183,536 188,536 188,538 193,538 193,538 197,538 197,539 201,539 201,550 207,550 207,541 214,541 214,539 221,539 221,533 224,533 224,534 228,534 228,532 234,532 234,536 238,536 238,535 243,535 243,543 247,543 247,541 252,541 252,539 256,539 256,533 263,533 263,533 268,533 268,531 271,531 271,526 278,526 278,529 283,529 283,525 290,525 290,534 296,534 296,542 302,542 302,536 306,536 306,528 313,528 313,526 319,526 319,533 324,533 324,535 327,535 327,535 334,535 334,532 340,532 340,523 346,523 346,529 349,529 349,532 353,532 353,533 358,533 358,529 362,529 362,528 365,528 365,526 371,526 371,526 375,526 375,519 382,519 382,514 386,514 386,517 390,517 390,521 396,521 396,518 400,518 400,516 404,516 404,521 410,521 410,527 416,527 416,524 419,524 419,527 423,527 423,528 427,528 427,516 432,516 432,518 436,518 436,516 440,516 440,517 447,517 447,516 450,516 450,515 455,515 455,508 460,508 460,507 465,507 465,513 471,513 471,505 477,505 477,509 483,509 483,503 488,503 488,494 495,494 495,491 498,491 498,495 504,495 504,489 511,489 511,486 517,486 517,490 524,490 524,491 529,491 529,501 532,501 532,494 536,494 536,494 539,494 539,498 545,498 545,496 552,496 552,494 555,494 555,494 559,494 559,492 564,492 564,491 569,491 569,492 575,492 575,487 582,487 582,489 586,489 586,490 591,490 591,488 596,488 596,485 602,485 602,482 605,482 605,484 612,484 612,479 617,479 617,476 623,476 623,472 627,472 627,474 634,474 634,473 637,473 637,471 643,471 643,466 648,466 648,465 652,465 652,462 655,462 655,460 660,460 660,460 664,460 664,463 669,463 669,462 675,462 675,457 681,457 681,452 685,452 685,454 689,454 689,449 692,449 692,446 696,446 696,451 701,451 701,445 707,445 707,445 713,445 713,439 719,439 719,442 723,442 723,440 728,440 728,442 732,442 732,444 739,444 739,441 746,441 746,443 750,443 750,450 755,450 755,441 761,441 761,440 767,440 767,434 772,434 772,436 778,436 778,434 784,434 784,436 789,436 789,434 793,434 793,431 799,431 799,431 806,431 806,434 812,434 812,433 818,433 818,435 822,435 822,438 828,438 828,436 835,436 835,439 840,439 840,443 845,443 845,440 851,440 851,437 854,437 854,439 858,439 858,435 862,435 862,439 869,439 869,436 876,436 876,438 881,438 881,428 887,428 887,435 891,435 891,430 897,430 897,434 901,434 901,436 906,436 906,439 911,439 911,438 915,438 915,439 918,439 918,442 923,442 923,443 926,443 926,443 929,443 929,444 934,444 934,445 939,445 939,446 944,446 944,442 945,442 945,444 945,426 951,426 951,558 39,558" fill="#383840"/>
<path d="M827 544l7 6 -5 5 -7 -6z" fill="#d9ff8f"/>
<path d="M706 546l8 6 -5 6 -8 -6z" fill="#f5be71"/>
<path d="M521 532l11 -1 1 6 -11 1z" fill="#cdf684"/>
<path d="M900 482l8 -8 5 5 -8 8z" fill="#2481ff"/>
<path d="M698 537l9 0 -0 6 -9 -0z" fill="#e5ff89"/>
<path d="M238 544l12 0 -0 6 -12 -0z" fill="#faf76a"/>
<path d="M275 552l8 0 -0 6 -8 -0z" fill="#fcc579"/>
<path d="M665 522l8 -9 5 4 -8 9z" fill="#26ffff"/>
<path d="M720 558l6 6 -4 4 -6 -6z" fill="#ffb77f"/>
<path d="M359 551l10 1 -0 7 -10 -1z" fill="#ffcf7e"/>
<path d="M681 450l11 1 -1 7 -11 -1z" fill="#16d9f5"/>
<path d="M780 433l8 -8 6 6 -8 8z" fill="#1919f8"/>
<path d="M856 464l7 5 -5 7 -7 -5z" fill="#256fff"/>
<path d="M653 544l10 1 -1 8 -10 -1z" fill="#f8df6c"/>
<path d="M601 511l7 -7 5 5 -7 7z" fill="#21f9f5"/>
<path d="M629 475l8 7 -4 5 -8 -7z" fill="#1619f5"/>
<path d="M765 460l7 -6 5 6 -7 6z" fill="#1620f5"/>
<path d="M486 531l11 0 -0 7 -11 -0z" fill="#adffaa"/>
<path d="M939 474l11 1 -1 8 -11 -1z" fill="#1f7bfe"/>
<path d="M654 535l7 6 -5 6 -7 -6z" fill="#eaf973"/>
<path d="M707 554l8 -9 5 4 -8 9z" fill="#fdd776"/>
<path d="M213 539l7 -8 6 5 -7 8z" fill="#87fdc2"/>
<path d="M552 512l10 -8 5 6 -10 8z" fill="#30fffd"/>
<path d="M588 532l9 -9 6 6 -9 9z" fill="#4df9dd"/>
<path d="M462 556l7 -6 5 5 -7 6z" fill="#ffbf82"/>
<path d="M725 491l6 6 -4 4 -6 -6z" fill="#17bcf6"/>
<path d="M720 539l9 9 -5 5 -9 -9z" fill="#ffff74"/>
<path d="M581 559l8 -7 5 6 -8 7z" fill="#f5b274"/>
<path d="M673 547l8 -7 4 4 -8 7z" fill="#faff72"/>
<path d="M729 439l7 8 -6 5 -7 -8z" fill="#2024ff"/>
<path d="M561 557l7 7 -4 4 -7 -7z" fill="#ffb881"/>
<path d="M679 494l10 -1 0 7 -10 1z" fill="#1ff6fe"/>
<path d="M677 547l8 0 -0 7 -8 -0z" fill="#fbcc76"/>
<path d="M89 551l7 7 -6 6 -7 -7z" fill="#f9b778"/>
<path d="M675 467l9 8 -6 6 -9 -8z" fill="#228eff"/>
<path d="M691 544l8 8 -4 4 -8 -8z" fill="#f3d36a"/>
<path d="M365 531l10 -8 5 6 -10 8z" fill="#59ffe4"/>
<path d="M781 535l8 9 -6 5 -8 -9z" fill="#51f6d5"/>
<path d="M664 511l11 -1 0 6 -11 1z" fill="#2dfdf5"/>
<path d="M769 526l8 -9 5 4 -8 9z" fill="#26f6ee"/>
<path d="M707 479l7 8 -5 5 -7 -8z" fill="#1bb0fa"/>
<path d="M484 554l6 6 -4 4 -6 -6z" fill="#f6a778"/>
<path d="M844 444l7 6 -5 6 -7 -6z" fill="#2222ff"/>
<path d="M732 501l9 9 -6 6 -9 -9z" fill="#19f1f8"/>
<path d="M862 440l5 6 -6 5 -5 -6z" fill="#1a1af9"/>
<path d="M930 441l9 -1 1 6 -9 1z" fill="#1616f5"/>
<path d="M499 499l9 8 -5 6 -9 -8z" fill="#1af1f9"/>
<path d="M819 549l8 6 -5 6 -8 -6z" fill="#b8fb99"/>
<path d="M735 554l8 -9 6 6 -8 9z" fill="#ffd779"/>
<path d="M812 464l13 -1 0 6 -13 1z" fill="#1b86fa"/>
<path d="M146 553l11 1 -1 8 -11 -1z" fill="#f6b975"/>
<path d="M779 491l9 8 -5 5 -9 -8z" fill="#24c1ff"/>
<path d="M821 440l8 -7 4 4 -8 7z" fill="#1c25fb"/>
<path d="M831 554l13 1 -0 6 -13 -1z" fill="#bbf790"/>
<path d="M796 469l12 -2 1 8 -12 2z" fill="#2487ff"/>
<path d="M906 524l9 -0 0 7 -9 0z" fill="#31fef4"/>
<path d="M668 497l9 -9 6 5 -9 9z" fill="#24d3ff"/>
<path d="M714 510l8 -7 4 5 -8 7z" fill="#1af6f9"/>
<path d="M829 543l8 -8 6 6 -8 8z" fill="#51ffe9"/>
<path d="M871 487l11 -1 0 6 -11 1z" fill="#197af8"/>
<path d="M653 465l6 -6 6 5 -6 6z" fill="#1f94fe"/>
<path d="M843 559l9 -9 4 5 -9 9z" fill="#82ffca"/>
<path d="M518 481l12 1 -0 6 -12 -1z" fill="#2093ff"/>
<path d="M924 539l10 1 -1 8 -10 -1z" fill="#2affff"/>
<path d="M747 439l6 6 -4 4 -6 -6z" fill="#23f0ff"/>
<path d="M710 454l9 9 -4 4 -9 -9z" fill="#1e67fd"/>
<path d="M807 494l7 -8 6 6 -7 8z" fill="#1db4fc"/>
<path d="M719 524l9 -1 1 7 -9 1z" fill="#23ffff"/>
<path d="M636 527l13 0 -0 8 -13 -0z" fill="#6cfbcf"/>
<path d="M613 530l9 -0 0 6 -9 0z" fill="#8bffc8"/>
<path d="M701 497l10 8 -5 5 -10 -8z" fill="#26ffff"/>
<path d="M463 541l10 -1 1 8 -10 1z" fill="#f8f968"/>
<path d="M894 530l7 8 -6 5 -7 -8z" fill="#2dfcf3"/>
<path d="M315 556l11 0 -0 7 -11 -0z" fill="#fcba7c"/>
<path d="M430 549l8 7 -4 4 -8 -7z" fill="#fbc577"/>
<path d="M887 466l8 -8 4 4 -8 8z" fill="#1f76fe"/>
<path d="M656 517l7 -6 4 4 -7 6z" fill="#29f5eb"/>
<path d="M897 553l8 -8 5 5 -8 8z" fill="#3afeee"/>
<path d="M935 546l12 -1 1 6 -12 1z" fill="#1af5f3"/>
<path d="M833 463l9 7 -5 6 -9 -7z" fill="#218dff"/>
<path d="M748 552l7 -7 5 5 -7 7z" fill="#f5fa6d"/>
<path d="M450 554l8 0 -0 6 -8 -0z" fill="#fcbc7a"/>
<path d="M606 484l7 -6 4 5 -7 6z" fill="#1c1cfb"/>
<path d="M946 546l9 -1 1 8 -9 1z" fill="#17ebf6"/>
<path d="M733 549l8 -7 5 6 -8 7z" fill="#e3fa7b"/>
<path d="M648 519l8 -8 5 5 -8 8z" fill="#23f9ff"/>
<path d="M802 539l9 0 -0 7 -9 -0z" fill="#6cffdc"/>
<path d="M819 494l8 -1 1 6 -8 1z" fill="#22c4ff"/>
<path d="M810 535l8 7 -5 5 -8 -7z" fill="#6affdb"/>
<path d="M458 539l9 -8 5 5 -9 8z" fill="#b5f998"/>
<path d="M848 518l13 -1 1 7 -13 1z" fill="#22f8ff"/>
<path d="M753 500l12 1 -1 7 -12 -1z" fill="#21fcff"/>
<path d="M561 502l10 0 -0 6 -10 -0z" fill="#20c5ff"/>
<path d="M733 557l8 1 -1 8 -8 -1z" fill="#fda97f"/>
<path d="M873 434l9 8 -4 4 -9 -8z" fill="#1919f8"/>
<path d="M882 444l6 -7 5 5 -6 7z" fill="#234bff"/>
<path d="M648 500l7 7 -6 6 -7 -7z" fill="#1df3fc"/>
<path d="M923 549l12 1 -1 6 -12 -1z" fill="#3bfff8"/>
<path d="M336 529l7 6 -5 5 -7 -6z" fill="#6bfed4"/>
<path d="M472 522l9 -8 5 5 -9 8z" fill="#35fbed"/>
<path d="M461 514l13 0 -0 8 -13 -0z" fill="#1bfafa"/>
<path d="M875 458l7 -8 5 4 -7 8z" fill="#1e76fd"/>
<path d="M797 478l7 7 -6 6 -7 -7z" fill="#1ec1fd"/>
<path d="M729 522l9 1 -1 8 -9 -1z" fill="#1bf5fa"/>
<path d="M750 462l9 -7 4 5 -9 7z" fill="#1818f7"/>
<path d="M42 544l7 7 -5 5 -7 -7z" fill="#f8ec69"/>
<path d="M516 522l8 9 -6 5 -8 -9z" fill="#58ffe3"/>
<path d="M895 441l9 0 -0 7 -9 -0z" fill="#1717f6"/>
<path d="M611 529l7 6 -4 4 -7 -6z" fill="#b5f692"/>
<path d="M308 546l9 7 -4 5 -9 -7z" fill="#fadc70"/>
<path d="M769 492l10 1 -1 8 -10 -1z" fill="#1dc7fc"/>
<path d="M59 545l8 -1 1 8 -8 1z" fill="#f5ed65"/>
<path d="M894 543l6 6 -5 6 -6 -6z" fill="#35f8e9"/>
<path d="M830 522l9 -1 1 6 -9 1z" fill="#26fcf7"/>
<path d="M386 509l6 6 -6 5 -6 -6z" fill="#1df3fc"/>
<path d="M896 478l12 0 -0 8 -12 -0z" fill="#216cff"/>
<path d="M465 505l6 7 -6 6 -6 -7z" fill="#1bf1fa"/>
<path d="M602 559l13 1 -1 7 -13 -1z" fill="#faaa7d"/>
<path d="M455 505l9 -1 1 5 -9 1z" fill="#26ffff"/>
<path d="M684 508l8 7 -5 5 -8 -7z" fill="#29fcf5"/>
<path d="M620 531l6 -7 5 4 -6 7z" fill="#50ffe5"/>
<path d="M762 442l8 -7 6 6 -8 7z" fill="#1b1bfa"/>
<path d="M665 552l6 8 -6 5 -6 -8z" fill="#f8a57a"/>
<path d="M454 501l7 8 -4 4 -7 -8z" fill="#23ffff"/>
<path d="M887 448l9 -1 0 6 -9 1z" fill="#1818f7"/>
<path d="M794 492l7 -6 5 5 -7 6z" fill="#25caff"/>
<path d="M793 499l9 7 -4 4 -9 -7z" fill="#25fcf8"/>
<path d="M401 514l8 -1 0 6 -8 1z" fill="#28ffff"/>
<path d="M405 540l9 -9 4 4 -9 9z" fill="#baf893"/>
<path d="M540 524l9 -8 4 5 -9 8z" fill="#4bf5d8"/>
<path d="M182 553l12 0 -0 8 -12 -0z" fill="#f7b377"/>
<path d="M706 517l7 -7 5 5 -7 7z" fill="#1ef6fd"/>
<path d="M432 518l8 7 -4 4 -8 -7z" fill="#41fbe6"/>
<path d="M644 490l9 1 -1 8 -9 -1z" fill="#18bef7"/>
<path d="M605 522l5 6 -5 5 -5 -6z" fill="#60ffe4"/>
<path d="M641 554l8 -7 4 5 -8 7z" fill="#ffc27e"/>
<path d="M897 445l7 7 -6 6 -7 -7z" fill="#1e21fd"/>
<path d="M785 444l9 -8 4 5 -9 8z" fill="#1cf1fb"/>
<path d="M485 531l6 6 -4 4 -6 -6z" fill="#b1ffa8"/>
<path d="M527 518l7 6 -4 4 -7 -6z" fill="#4ff6d7"/>
<path d="M889 512l6 -6 5 6 -6 6z" fill="#25ffff"/>
<path d="M542 533l9 0 -0 6 -9 -0z" fill="#c2ff98"/>
<path d="M583 503l6 -5 4 5 -6 5z" fill="#25c7ff"/>
<path d="M902 512l6 -7 5 5 -6 7z" fill="#25f9f2"/>
<path d="M500 540l9 9 -5 5 -9 -9z" fill="#fcf66c"/>
<path d="M301 536l7 -7 5 5 -7 7z" fill="#6afcd2"/>
<path d="M795 517l10 -1 1 6 -10 1z" fill="#1bf8f7"/>
<path d="M726 509l6 -6 4 4 -6 6z" fill="#28f5eb"/>
<path d="M854 544l5 6 -5 4 -5 -6z" fill="#9fffb2"/>
<path d="M947 537l7 6 -5 6 -7 -6z" fill="#2cffff"/>
<path d="M34 559l11 -1 1 7 -11 1z" fill="#f7b376"/>
<path d="M793 479l13 -2 1 8 -13 2z" fill="#2288ff"/>
<path d="M916 533l8 -7 5 6 -8 7z" fill="#22f8ff"/>
<path d="M869 462l8 8 -6 5 -8 -8z" fill="#2477ff"/>
<path d="M739 446l9 8 -5 5 -9 -8z" fill="#1818f7"/>
<path d="M389 525l8 -8 5 5 -8 8z" fill="#4bfee6"/>
<path d="M584 531l6 6 -6 6 -6 -6z" fill="#b2ffa7"/>
<path d="M843 523l7 -7 6 5 -7 7z" fill="#1bfaf9"/>
<path d="M749 496l7 5 -4 5 -7 -5z" fill="#31fffc"/>
<path d="M562 551l6 6 -4 4 -6 -6z" fill="#f8ba76"/>
<path d="M491 510l7 7 -5 6 -7 -7z" fill="#1af5f9"/>
<path d="M728 453l7 7 -5 6 -7 -7z" fill="#1f6ffe"/>
<path d="M600 486l12 -0 0 8 -12 0z" fill="#1b8efa"/>
<path d="M505 560l7 -6 5 5 -7 6z" fill="#fca67e"/>
<path d="M388 519l8 9 -6 5 -8 -9z" fill="#53fbdc"/>
<path d="M661 518l8 7 -5 6 -8 -7z" fill="#55f9d9"/>
<path d="M498 491l13 -1 1 8 -13 1z" fill="#2354ff"/>
<path d="M639 475l8 1 -0 6 -8 -1z" fill="#1616f5"/>
<path d="M509 527l10 9 -6 6 -10 -9z" fill="#9effbd"/>
<path d="M411 547l8 -8 5 5 -8 8z" fill="#fff76f"/>
<path d="M771 440l10 -8 5 6 -10 8z" fill="#1616f5"/>
<path d="M635 471l7 -6 5 6 -7 6z" fill="#1f88fe"/>
<path d="M829 469l8 1 -1 8 -8 -1z" fill="#196af8"/>
<path d="M504 511l11 -1 1 7 -11 1z" fill="#18eef7"/>
<path d="M562 534l8 -6 4 5 -8 6z" fill="#70f6c6"/>
<path d="M501 496l5 6 -5 4 -5 -6z" fill="#23ffff"/>
<path d="M59 547l7 6 -5 6 -7 -6z" fill="#f4c56f"/>
<path d="M117 537l7 7 -5 5 -7 -7z" fill="#c9fb8f"/>
<path d="M701 453l8 10 -5 4 -8 -10z" fill="#1c87fb"/>
<path d="M483 501l10 -8 5 6 -10 8z" fill="#22f2ff"/>
<path d="M564 560l7 -6 6 6 -7 6z" fill="#fbb87a"/>
<path d="M839 540l13 1 -0 7 -13 -1z" fill="#55ffe7"/>
<path d="M142 549l9 -8 5 5 -9 8z" fill="#fff870"/>
<path d="M63 552l10 8 -4 6 -10 -8z" fill="#f5ab76"/>
<path d="M832 486l12 0 -0 6 -12 -0z" fill="#1ab0f9"/>
<path d="M165 555l9 1 -1 7 -9 -1z" fill="#fcad7e"/>
<path d="M757 511l8 8 -5 6 -8 -8z" fill="#22ffff"/>
<path d="M717 496l13 1 -0 8 -13 -1z" fill="#2cfef6"/>
<path d="M647 478l7 5 -5 5 -7 -5z" fill="#2078ff"/>
<path d="M817 523l10 1 -1 7 -10 -1z" fill="#35fffa"/>
<path d="M315 526l9 -1 0 6 -9 1z" fill="#25fcf9"/>
<path d="M266 558l10 -0 0 7 -10 0z" fill="#fea780"/>
<path d="M748 480l8 9 -6 5 -8 -9z" fill="#17c2f6"/>
<path d="M272 561l7 -8 5 5 -7 8z" fill="#f5a777"/>
<path d="M589 521l8 -8 6 6 -8 8z" fill="#3efff4"/>
<path d="M611 554l7 -7 4 4 -7 7z" fill="#f3c56d"/>
<path d="M206 537l8 6 -5 5 -8 -6z" fill="#daff8c"/>
<path d="M739 471l10 -8 5 6 -10 8z" fill="#258cff"/>
<path d="M631 530l8 7 -4 4 -8 -7z" fill="#cff987"/>
<path d="M270 538l13 -2 1 6 -13 2z" fill="#bdfd98"/>
<path d="M584 503l7 7 -4 4 -7 -7z" fill="#22fcff"/>
<path d="M453 519l6 6 -4 4 -6 -6z" fill="#53ffe3"/>
<path d="M702 516l8 -7 4 4 -8 7z" fill="#1efcfd"/>
<path d="M815 458l12 1 -1 7 -12 -1z" fill="#224aff"/>
<path d="M831 564l5 -6 5 5 -5 6z" fill="#bdffa3"/>
<path d="M279 538l7 7 -6 6 -7 -7z" fill="#f4ff7e"/>
<path d="M164 556l7 6 -5 6 -7 -6z" fill="#f7a879"/>
<path d="M39 546l6 5 -5 6 -6 -5z" fill="#f4cf6c"/>
<path d="M763 513l8 -9 4 4 -8 9z" fill="#22f9ff"/>
<path d="M908 496l7 -5 4 5 -7 5z" fill="#22c7ff"/>
<path d="M623 515l9 8 -4 5 -9 -8z" fill="#33fff7"/>
<path d="M672 530l7 -7 6 6 -7 7z" fill="#6bffdc"/>
<path d="M633 487l10 1 -1 7 -10 -1z" fill="#1bb7fa"/>
<path d="M685 488l9 1 -1 8 -9 -1z" fill="#1bc0fa"/>
<path d="M873 529l8 -8 5 4 -8 8z" fill="#24ffff"/>
<path d="M910 458l8 8 -6 5 -8 -8z" fill="#1c1ffb"/>
<path d="M906 442l9 7 -5 6 -9 -7z" fill="#2626ff"/>
<path d="M67 549l9 -7 4 5 -9 7z" fill="#f7fb6e"/>
<path d="M217 543l9 -8 5 6 -9 8z" fill="#b4f795"/>
<path d="M832 536l7 -8 5 4 -7 8z" fill="#22ffff"/>
<path d="M373 547l12 -0 0 6 -12 0z" fill="#fff56f"/>
<path d="M137 532l9 1 -1 8 -9 -1z" fill="#68f6cb"/>
<path d="M729 483l8 7 -5 5 -8 -7z" fill="#17c2f6"/>
<path d="M722 476l12 1 -1 6 -12 -1z" fill="#18b8f7"/>
<path d="M204 557l6 -7 6 5 -6 7z" fill="#ffc87b"/>
<path d="M776 488l9 0 -0 6 -9 -0z" fill="#22d3ff"/>
<path d="M854 527l9 1 -0 6 -9 -1z" fill="#26ffff"/>
<path d="M736 443l11 1 -1 6 -11 -1z" fill="#1f29fe"/>
<path d="M831 441l9 9 -6 6 -9 -9z" fill="#1729f6"/>
<path d="M499 523l7 7 -4 4 -7 -7z" fill="#5cfbd8"/>
<path d="M480 548l12 1 -1 8 -12 -1z" fill="#ffc07f"/>
<path d="M176 550l8 6 -4 5 -8 -6z" fill="#ffc67f"/>
<path d="M569 515l7 -6 4 5 -7 6z" fill="#2bfdf6"/>
<path d="M923 531l9 9 -5 5 -9 -9z" fill="#19f1f8"/>
<path d="M414 552l7 -8 6 6 -7 8z" fill="#f3d768"/>
<path d="M517 547l9 0 -0 8 -9 -0z" fill="#f6c571"/>
<path d="M763 479l8 -8 6 6 -8 8z" fill="#1d66fc"/>
<path d="M716 449l6 6 -4 4 -6 -6z" fill="#209cff"/>
<path d="M827 556l8 9 -5 4 -8 -9z" fill="#dbff90"/>
<path d="M864 434l10 -1 1 7 -10 1z" fill="#1f4bfe"/>
<path d="M654 563l7 -5 4 4 -7 5z" fill="#f9a37b"/>
<path d="M866 555l11 1 -1 8 -11 -1z" fill="#70f8ca"/>
<path d="M305 530l10 1 -1 8 -10 -1z" fill="#57ffe2"/>
<path d="M694 497l8 8 -4 4 -8 -8z" fill="#22fbff"/>
<path d="M39 556l9 -8 5 6 -9 8z" fill="#f6b176"/>
<path d="M447 523l9 -0 0 7 -9 0z" fill="#66fcd4"/>
<path d="M888 528l12 1 -0 6 -12 -1z" fill="#22faff"/>
<path d="M762 547l8 8 -4 4 -8 -8z" fill="#fff670"/>
<path d="M464 521l9 -0 0 8 -9 0z" fill="#61fcd7"/>
<path d="M828 530l8 7 -4 4 -8 -7z" fill="#1af0f9"/>
<path d="M568 550l7 -7 5 5 -7 7z" fill="#f9f369"/>
<path d="M763 554l8 -10 5 5 -8 10z" fill="#fceb6e"/>
<path d="M368 519l7 6 -5 5 -7 -6z" fill="#40f5de"/>
<path d="M748 482l13 -2 1 6 -13 2z" fill="#1cc9fb"/>
<path d="M879 456l9 7 -4 4 -9 -7z" fill="#2078ff"/>
<path d="M553 543l7 -9 5 4 -7 9z" fill="#c2fa91"/>
<path d="M711 517l8 -10 6 6 -8 10z" fill="#18f2f7"/>
<path d="M790 443l7 -6 5 5 -7 6z" fill="#222dff"/>
<path d="M661 487l7 7 -5 5 -7 -7z" fill="#19c6f8"/>
<path d="M863 446l10 -8 5 6 -10 8z" fill="#1a1df9"/>
<path d="M764 478l7 7 -5 5 -7 -7z" fill="#20d0ff"/>
<path d="M458 551l8 1 -1 6 -8 -1z" fill="#f6b974"/>
<path d="M262 559l9 -8 4 5 -9 8z" fill="#ffb283"/>
<path d="M674 520l9 -9 5 5 -9 9z" fill="#36fffb"/>
<path d="M840 478l7 6 -4 5 -7 -6z" fill="#1e6efd"/>
<path d="M734 480l6 6 -4 4 -6 -6z" fill="#17b3f6"/>
<path d="M890 472l7 7 -6 5 -7 -7z" fill="#238dff"/>
<path d="M695 515l11 -0 0 7 -11 0z" fill="#1efbfd"/>
<path d="M722 477l6 6 -4 4 -6 -6z" fill="#18c8f7"/>
<path d="M402 514l7 6 -5 6 -7 -6z" fill="#1ffafe"/>
<path d="M558 490l8 7 -6 6 -8 -7z" fill="#2121ff"/>
<path d="M811 506l7 -6 4 4 -7 6z" fill="#22ffff"/>
<path d="M240 544l9 -8 4 5 -9 8z" fill="#dbfa82"/>
<path d="M790 533l8 -9 4 4 -8 9z" fill="#21f7ff"/>
<path d="M930 455l8 -7 6 6 -8 7z" fill="#2034ff"/>
<path d="M248 546l8 -8 4 4 -8 8z" fill="#d3f680"/>
<path d="M766 558l9 0 -0 6 -9 -0z" fill="#ffcd7b"/>
<path d="M783 545l6 6 -6 6 -6 -6z" fill="#f8ed69"/>
<path d="M103 550l7 7 -5 5 -7 -7z" fill="#f9b279"/>
<path d="M810 539l10 1 -1 8 -10 -1z" fill="#67ffdf"/>
<path d="M466 530l8 7 -5 6 -8 -7z" fill="#c8fb8f"/>
<path d="M289 555l13 2 -1 7 -13 -2z" fill="#fcb37d"/>
<path d="M421 537l10 -1 1 8 -10 1z" fill="#cbff9c"/>
<path d="M703 537l7 6 -5 6 -7 -6z" fill="#e2ff88"/>
<path d="M679 536l11 -1 1 6 -11 1z" fill="#c4ff9f"/>
<path d="M734 474l10 -8 4 5 -10 8z" fill="#1f71fe"/>
<path d="M838 495l9 -7 5 6 -9 7z" fill="#24daff"/>
<path d="M705 442l10 8 -4 5 -10 -8z" fill="#1e2ffd"/>
<path d="M767 557l7 6 -6 6 -7 -6z" fill="#fcc878"/>
<path d="M829 551l8 -9 5 4 -8 9z" fill="#c3ff99"/>
<path d="M557 498l8 -1 1 7 -8 1z" fill="#23c5ff"/>
<path d="M676 515l12 2 -1 8 -12 -2z" fill="#37f9e9"/>
<path d="M894 523l9 -8 4 4 -9 8z" fill="#1af7f9"/>
<path d="M375 512l11 -1 0 6 -11 1z" fill="#2bfdf6"/>
<path d="M673 484l9 0 -0 8 -9 -0z" fill="#24c2ff"/>
<path d="M794 549l10 -8 5 5 -10 8z" fill="#daff92"/>
<path d="M192 545l12 -0 0 8 -12 0z" fill="#ffff78"/>
<path d="M83 546l8 -1 0 8 -8 1z" fill="#faf969"/>
<path d="M814 547l7 -9 6 5 -7 9z" fill="#8bffc9"/>
<path d="M703 523l8 -8 4 4 -8 8z" fill="#25feff"/>
<path d="M697 486l7 6 -5 6 -7 -6z" fill="#22ceff"/>
<path d="M784 481l6 -6 5 5 -6 6z" fill="#2580ff"/>
<path d="M876 550l11 1 -1 8 -11 -1z" fill="#6fffda"/>
<path d="M603 542l6 6 -4 4 -6 -6z" fill="#f8ea69"/>
<path d="M680 463l7 8 -5 5 -7 -8z" fill="#216fff"/>
<path d="M684 530l9 -8 4 4 -9 8z" fill="#69f9ce"/>
<path d="M834 511l8 -7 5 6 -8 7z" fill="#26ffff"/>
<path d="M872 469l6 -6 5 5 -6 6z" fill="#2583ff"/>
<path d="M374 552l12 -1 0 6 -12 1z" fill="#fbbd79"/>
<path d="M267 549l8 8 -4 5 -8 -8z" fill="#ffc87f"/>
<path d="M841 508l11 0 -0 7 -11 -0z" fill="#29fbf4"/>
<path d="M624 496l11 -1 1 8 -11 1z" fill="#1dd4fc"/>
<path d="M761 437l9 9 -5 5 -9 -9z" fill="#1aa0f9"/>
<path d="M849 559l8 -9 5 5 -8 9z" fill="#90fbb7"/>
<path d="M764 559l9 -9 5 5 -9 9z" fill="#ffc37e"/>
<path d="M696 509l9 -0 0 6 -9 0z" fill="#2dfffb"/>
<path d="M561 542l8 6 -5 6 -8 -6z" fill="#fffb71"/>
<path d="M586 532l9 8 -5 5 -9 -8z" fill="#bef890"/>
<path d="M589 488l9 -0 0 6 -9 0z" fill="#1feafe"/>
<path d="M793 532l8 -9 6 5 -8 9z" fill="#17f3f6"/>
<path d="M501 516l9 9 -6 6 -9 -9z" fill="#3ef9e4"/>
<path d="M338 552l7 -7 5 5 -7 7z" fill="#f6f166"/>
<path d="M936 528l6 -5 5 6 -6 5z" fill="#21f8ff"/>
<path d="M618 484l10 1 -1 6 -10 -1z" fill="#1b6cfa"/>
<path d="M712 554l8 6 -4 6 -8 -6z" fill="#feb27f"/>
<path d="M728 527l7 6 -5 6 -7 -6z" fill="#64ffda"/>
<path d="M812 449l7 6 -6 6 -7 -6z" fill="#1a1af9"/>
<path d="M891 459l7 -7 6 6 -7 7z" fill="#1f8cfe"/>
<path d="M665 463l9 9 -5 5 -9 -9z" fill="#192ff8"/>
<path d="M488 519l10 8 -4 4 -10 -8z" fill="#51f6d7"/>
<path d="M296 541l8 -6 5 6 -8 6z" fill="#28ffff"/>
<path d="M837 462l9 0 -0 8 -9 -0z" fill="#1984f8"/>
<path d="M533 493l11 1 -1 7 -11 -1z" fill="#1828f7"/>
<path d="M236 534l6 6 -5 6 -6 -6z" fill="#afffa5"/>
<path d="M344 555l8 1 -1 8 -8 -1z" fill="#faaa7c"/>
<path d="M498 492l9 0 -0 8 -9 -0z" fill="#1f64fe"/>
<path d="M925 499l6 -7 6 5 -6 7z" fill="#1ecdfd"/>
<path d="M670 529l7 7 -5 5 -7 -7z" fill="#a8f599"/>
<path d="M485 498l7 -8 5 5 -7 8z" fill="#24f4ff"/>
<path d="M553 544l8 1 -1 8 -8 -1z" fill="#f9e26d"/>
<path d="M489 526l13 -1 0 6 -13 1z" fill="#62ffe3"/>
<path d="M830 470l9 -1 1 7 -9 1z" fill="#2281ff"/>
<path d="M286 548l6 7 -6 6 -6 -7z" fill="#fec97a"/>
<path d="M656 537l7 -6 4 5 -7 6z" fill="#abf79a"/>
<path d="M601 492l9 1 -1 7 -9 -1z" fill="#1dd4fc"/>
<path d="M819 477l8 -9 5 5 -8 9z" fill="#2190ff"/>
<path d="M798 505l7 8 -4 4 -7 -8z" fill="#1ff6fe"/>
<path d="M619 498l9 1 -0 6 -9 -1z" fill="#22b7ff"/>
<path d="M827 454l6 5 -4 5 -6 -5z" fill="#1f2ffe"/>
<path d="M941 459l9 9 -6 6 -9 -9z" fill="#2222ff"/>
<path d="M943 464l8 7 -5 5 -8 -7z" fill="#1b6efa"/>
<path d="M618 479l7 -7 5 5 -7 7z" fill="#1b9ffa"/>
<path d="M834 503l7 8 -6 5 -7 -8z" fill="#18edf7"/>
<path d="M573 523l9 -9 5 5 -9 9z" fill="#2efbf1"/>
<path d="M604 545l13 1 -0 7 -13 -1z" fill="#f6e269"/>
<path d="M507 539l8 -7 4 4 -8 7z" fill="#d4ff96"/>
<path d="M947 457l6 7 -4 4 -6 -7z" fill="#2028ff"/>
<path d="M387 552l8 -6 4 5 -8 6z" fill="#fedc76"/>
<path d="M866 457l8 -7 5 6 -8 7z" fill="#1818f7"/>
<path d="M882 422l6 6 -6 6 -6 -6z" fill="#1f25fe"/>
<path d="M707 463l13 1 -1 7 -13 -1z" fill="#2577ff"/>
<path d="M205 564l8 -9 6 5 -8 9z" fill="#ffbb81"/>
<path d="M860 490l6 6 -4 4 -6 -6z" fill="#19ccf8"/>
<path d="M812 555l12 1 -0 6 -12 -1z" fill="#c3f68a"/>
<path d="M204 552l8 9 -4 4 -8 -9z" fill="#febd7d"/>
<path d="M811 481l13 1 -1 8 -13 -1z" fill="#1763f6"/>
<path d="M415 534l11 -1 1 6 -11 1z" fill="#dfff8e"/>
<path d="M519 542l8 -8 5 5 -8 8z" fill="#daf87f"/>
<path d="M882 554l9 -9 5 5 -9 9z" fill="#48f6db"/>
<path d="M789 530l7 6 -4 5 -7 -6z" fill="#1ff8fe"/>
<path d="M190 560l9 -9 5 5 -9 9z" fill="#ffc27e"/>
<path d="M747 443l9 -1 1 6 -9 1z" fill="#1e3dfd"/>
<path d="M651 480l8 7 -5 6 -8 -7z" fill="#18bff7"/>
<path d="M832 500l7 8 -6 5 -7 -8z" fill="#18f5f7"/>
<path d="M821 431l9 1 -1 8 -9 -1z" fill="#2525ff"/>
<path d="M805 488l10 8 -5 5 -10 -8z" fill="#1fbafe"/>
<path d="M541 511l8 -7 4 5 -8 7z" fill="#28ffff"/>
<path d="M90 562l7 -7 4 4 -7 7z" fill="#fcad7e"/>
<path d="M384 558l6 6 -5 5 -6 -6z" fill="#f8a67a"/>
<path d="M892 435l13 1 -1 7 -13 -1z" fill="#1e20fd"/>
<path d="M787 492l7 7 -6 5 -7 -7z" fill="#22d5ff"/>
<path d="M754 497l8 8 -4 4 -8 -8z" fill="#19f4f8"/>
<path d="M925 449l12 2 -1 6 -12 -2z" fill="#1f2bfe"/>
<path d="M596 487l6 5 -5 6 -6 -5z" fill="#21a3ff"/>
<path d="M739 496l9 -1 0 6 -9 1z" fill="#24faf4"/>
<path d="M664 465l12 1 -1 8 -12 -1z" fill="#2525ff"/>
<path d="M506 493l10 0 -0 8 -10 -0z" fill="#1ac1f9"/>
<path d="M71 540l7 6 -4 5 -7 -6z" fill="#eeff81"/>
<path d="M775 519l10 0 -0 8 -10 -0z" fill="#31fff7"/>
<path d="M792 440l7 -9 6 5 -7 9z" fill="#1896f7"/>
<path d="M673 483l11 -0 0 6 -11 0z" fill="#1cc0fb"/>
<path d="M832 502l9 -1 1 7 -9 1z" fill="#1db0fc"/>
<path d="M470 551l7 -7 6 5 -7 7z" fill="#fdec6f"/>
<path d="M473 528l7 8 -5 5 -7 -8z" fill="#c5ff98"/>
<path d="M615 494l8 8 -5 5 -8 -8z" fill="#1bb5fa"/>
<path d="M936 475l6 6 -5 5 -6 -6z" fill="#2069ff"/>
<path d="M349 545l9 0 -0 8 -9 -0z" fill="#f8f069"/>
<path d="M680 464l8 -8 5 5 -8 8z" fill="#1721f6"/>
<path d="M442 524l7 8 -4 4 -7 -8z" fill="#52fcde"/>
<path d="M203 553l5 6 -5 4 -5 -6z" fill="#fca87e"/>
<path d="M649 530l9 -8 5 6 -9 8z" fill="#61ffdf"/>
<path d="M708 492l8 -8 4 4 -8 8z" fill="#1bbdfa"/>
<path d="M455 535l9 7 -5 6 -9 -7z" fill="#ecff85"/>
<path d="M503 521l7 -8 4 4 -7 8z" fill="#23feff"/>
<path d="M850 508l9 1 -1 7 -9 -1z" fill="#32fffb"/>
<path d="M894 477l6 6 -5 5 -6 -6z" fill="#1965f8"/>
<path d="M338 524l9 8 -5 5 -9 -8z" fill="#49fde4"/>
<path d="M275 540l8 -7 4 5 -8 7z" fill="#d5ff91"/>
<path d="M479 557l7 8 -4 4 -7 -8z" fill="#ffb983"/>
<path d="M857 532l6 -7 6 5 -6 7z" fill="#23ffff"/>
<path d="M692 532l6 6 -4 4 -6 -6z" fill="#abfaa0"/>
<path d="M549 546l7 8 -5 5 -7 -8z" fill="#f9cc74"/>
<path d="M370 558l10 -1 1 7 -10 1z" fill="#ffb184"/>
<path d="M767 443l12 -1 1 6 -12 1z" fill="#1919f8"/>
<path d="M717 518l9 9 -5 5 -9 -9z" fill="#1ffdfe"/>
<path d="M945 457l12 -1 0 6 -12 1z" fill="#1a89f9"/>
<path d="M179 553l7 -9 5 5 -7 9z" fill="#f8f568"/>
<path d="M838 550l9 -8 4 5 -9 8z" fill="#9fffb6"/>
<path d="M936 445l9 1 -1 7 -9 -1z" fill="#1a1af9"/>
<path d="M753 480l7 -7 6 6 -7 7z" fill="#1a69f9"/>
<path d="M865 511l13 1 -1 7 -13 -1z" fill="#1ff8f5"/>
<path d="M579 479l7 5 -4 6 -7 -5z" fill="#1742f6"/>
<path d="M517 480l8 8 -5 5 -8 -8z" fill="#17def6"/>
<path d="M755 497l12 1 -0 6 -12 -1z" fill="#1ab5f9"/>
<path d="M769 483l10 -1 0 8 -10 1z" fill="#18b1f7"/>
<path d="M864 455l13 2 -1 6 -13 -2z" fill="#2121ff"/>
<path d="M738 482l8 6 -4 6 -8 -6z" fill="#23cfff"/>
<path d="M704 534l9 1 -1 6 -9 -1z" fill="#bff890"/>
<path d="M532 552l6 7 -4 4 -6 -7z" fill="#febc7d"/>
<path d="M642 526l6 -5 5 7 -6 5z" fill="#71ffdc"/>
<path d="M799 529l9 9 -4 4 -9 -9z" fill="#1ff9fe"/>
<path d="M329 533l11 -1 1 6 -11 1z" fill="#1bf7f5"/>
<path d="M376 531l9 7 -6 6 -9 -7z" fill="#acfea6"/>
<path d="M160 546l8 1 -1 7 -8 -1z" fill="#ffed75"/>
<path d="M628 545l10 8 -5 6 -10 -8z" fill="#f8c873"/>
<path d="M748 455l9 8 -4 4 -9 -8z" fill="#219cff"/>
<path d="M538 502l10 -1 1 8 -10 1z" fill="#16dcf5"/>
<path d="M744 477l8 6 -4 5 -8 -6z" fill="#1ac5f9"/>
<path d="M865 542l6 -7 4 4 -6 7z" fill="#49fde6"/>
<path d="M882 432l8 7 -5 5 -8 -7z" fill="#2526ff"/>
<path d="M741 536l10 1 -0 8 -10 -1z" fill="#7bffd0"/>
<path d="M295 539l12 1 -1 7 -12 -1z" fill="#1af6f9"/>
<path d="M862 473l7 -6 4 5 -7 6z" fill="#1777f6"/>
<path d="M306 536l7 7 -6 6 -7 -7z" fill="#bbffa4"/>
<path d="M436 522l8 9 -6 5 -8 -9z" fill="#6fffd7"/>
<path d="M184 565l7 -8 4 4 -7 8z" fill="#ffb980"/>
<path d="M498 540l8 -8 4 4 -8 8z" fill="#c7ff9d"/>
<path d="M912 480l6 7 -6 5 -6 -7z" fill="#1b71fa"/>
<path d="M530 500l8 -10 6 5 -8 10z" fill="#2427ff"/>
<path d="M756 542l10 -8 4 5 -10 8z" fill="#4efbdf"/>
<path d="M848 516l6 -7 6 5 -6 7z" fill="#1ffcfe"/>
<path d="M499 528l7 -8 6 5 -7 8z" fill="#4df9dc"/>
<path d="M851 451l6 6 -6 6 -6 -6z" fill="#1b1bfa"/>
<path d="M676 475l7 8 -5 4 -7 -8z" fill="#1fc6fe"/>
<path d="M792 444l9 7 -4 5 -9 -7z" fill="#2149ff"/>
<path d="M256 562l8 -8 4 4 -8 8z" fill="#fbb87a"/>
<path d="M939 444l7 -6 5 6 -7 6z" fill="#233cff"/>
<path d="M866 458l9 7 -4 5 -9 -7z" fill="#1e89fd"/>
<path d="M444 512l11 -0 0 8 -11 0z" fill="#1bf3fa"/>
<path d="M772 457l12 1 -0 8 -12 -1z" fill="#1c84fb"/>
<path d="M233 525l8 9 -5 5 -8 -9z" fill="#5bfcd9"/>
<path d="M748 497l7 7 -6 5 -7 -7z" fill="#23fbff"/>
<path d="M176 559l11 1 -1 6 -11 -1z" fill="#f8ab7a"/>
<path d="M421 553l8 -7 5 6 -8 7z" fill="#f4bd70"/>
<path d="M830 556l8 6 -5 7 -8 -6z" fill="#b6ffa7"/>
<path d="M719 470l9 -1 1 8 -9 1z" fill="#1678f5"/>
<path d="M929 524l6 -6 5 6 -6 6z" fill="#1df5fc"/>
<path d="M753 508l8 9 -4 4 -8 -9z" fill="#1af2f9"/>
<path d="M383 540l11 1 -1 7 -11 -1z" fill="#d2fb89"/>
<path d="M789 553l8 -9 5 5 -8 9z" fill="#fefe6d"/>
<path d="M514 564l6 -7 5 5 -6 7z" fill="#fcad7e"/>
<path d="M740 554l9 -9 6 6 -9 9z" fill="#fadf6f"/>
<path d="M143 563l6 -7 4 4 -6 7z" fill="#fdac80"/>
<path d="M684 519l8 7 -4 5 -8 -7z" fill="#43f6dd"/>
<path d="M943 516l12 -1 1 7 -12 1z" fill="#1bf2fa"/>
<path d="M856 465l6 -5 4 5 -6 5z" fill="#1e8dfd"/>
<path d="M782 466l8 -1 1 7 -8 1z" fill="#187ef7"/>
<path d="M657 475l7 -8 4 4 -7 8z" fill="#2080ff"/>
<path d="M804 470l7 -6 5 5 -7 6z" fill="#1b70fa"/>
<path d="M452 534l6 5 -4 4 -6 -5z" fill="#e9fc7b"/>
<path d="M890 536l6 6 -4 5 -6 -6z" fill="#5ffdd9"/>
<path d="M873 545l10 9 -5 6 -10 -9z" fill="#62f7cf"/>
<path d="M787 477l8 7 -4 4 -8 -7z" fill="#177ff6"/>
<path d="M705 437l11 -0 0 8 -11 0z" fill="#2323ff"/>
<path d="M887 509l7 6 -4 5 -7 -6z" fill="#1ff6fe"/>
<path d="M849 444l7 8 -4 4 -7 -8z" fill="#263dff"/>
<path d="M387 523l6 -6 4 4 -6 6z" fill="#3cfff5"/>
<path d="M934 537l8 7 -4 5 -8 -7z" fill="#1af7f9"/>
<path d="M400 561l7 -7 5 5 -7 7z" fill="#f5b174"/>
<path d="M536 522l8 -1 1 8 -8 1z" fill="#46fce6"/>
<path d="M427 527l7 -6 5 6 -7 6z" fill="#3ff9e4"/>
<path d="M791 557l6 -7 5 4 -6 7z" fill="#fffd72"/>
<path d="M703 511l6 -6 5 5 -6 6z" fill="#2cfffd"/>
<path d="M633 509l6 -7 5 4 -6 7z" fill="#1af4f9"/>
<path d="M760 436l6 -5 4 5 -6 5z" fill="#2020ff"/>
<path d="M532 530l7 -5 5 6 -7 5z" fill="#69fdd4"/>
<path d="M739 520l6 5 -4 5 -6 -5z" fill="#1af4f9"/>
<path d="M604 496l8 -9 6 5 -8 9z" fill="#19b9f8"/>
<path d="M677 528l6 5 -4 5 -6 -5z" fill="#a6ffaf"/>
<path d="M938 548l7 -8 5 5 -7 8z" fill="#1df6f2"/>
<path d="M784 508l9 8 -5 5 -9 -8z" fill="#23f8f3"/>
<path d="M895 498l6 5 -4 4 -6 -5z" fill="#17cff6"/>
<path d="M442 540l9 -7 4 5 -9 7z" fill="#d2f985"/>
<path d="M325 559l7 -8 5 5 -7 8z" fill="#feb27f"/>
<path d="M611 563l8 -8 5 5 -8 8z" fill="#ffb182"/>
<path d="M780 540l10 1 -1 8 -10 -1z" fill="#c8fa8d"/>
<path d="M111 558l5 -6 6 5 -5 6z" fill="#f8ac79"/>
<path d="M781 501l6 5 -5 6 -6 -5z" fill="#25fcff"/>
<path d="M837 488l8 9 -6 5 -8 -9z" fill="#1fd5fe"/>
<path d="M774 458l8 8 -6 6 -8 -8z" fill="#2385ff"/>
<path d="M520 507l12 1 -0 6 -12 -1z" fill="#32fff7"/>
<path d="M615 539l7 -8 6 5 -7 8z" fill="#ddf87c"/>
<path d="M915 444l9 8 -4 5 -9 -8z" fill="#234cff"/>
<path d="M873 466l8 10 -5 4 -8 -10z" fill="#1e7efd"/>
<path d="M499 533l12 -1 1 7 -12 1z" fill="#b1fea1"/>
<path d="M776 442l7 6 -5 6 -7 -6z" fill="#1b1bfa"/>
<path d="M488 510l11 -1 1 8 -11 1z" fill="#30fcf2"/>
<path d="M708 471l6 6 -6 6 -6 -6z" fill="#17aff6"/>
<path d="M832 462l8 -8 6 6 -8 8z" fill="#2449ff"/>
<path d="M619 520l8 7 -5 5 -8 -7z" fill="#59f8d6"/>
<path d="M718 488l10 1 -1 7 -10 -1z" fill="#1ac7f9"/>
<path d="M404 546l6 -7 6 5 -6 7z" fill="#faf86a"/>
<path d="M845 534l7 -7 4 4 -7 7z" fill="#1ef5fd"/>
<path d="M140 537l7 5 -5 6 -7 -5z" fill="#bafd9b"/>
<path d="M282 534l12 1 -0 6 -12 -1z" fill="#81ffcb"/>
<path d="M596 510l12 1 -0 7 -12 -1z" fill="#1bf7fa"/>
<path d="M729 533l12 -1 1 6 -12 1z" fill="#47ffe9"/>
<path d="M707 537l7 -7 4 4 -7 7z" fill="#96ffc3"/>
<path d="M780 466l7 7 -4 4 -7 -7z" fill="#1d87fc"/>
<path d="M187 539l6 -6 5 4 -6 6z" fill="#82ffd0"/>
<path d="M591 539l11 -0 0 6 -11 0z" fill="#eefe7b"/>
<path d="M904 457l7 -6 5 6 -7 6z" fill="#1f24fe"/>
<path d="M395 554l10 -1 1 6 -10 1z" fill="#ffb481"/>
<path d="M674 453l7 6 -5 6 -7 -6z" fill="#183df7"/>
<path d="M789 483l8 9 -4 4 -8 -9z" fill="#19c1f8"/>
<path d="M835 445l10 0 -0 8 -10 -0z" fill="#2649ff"/>
<path d="M936 502l13 1 -1 7 -13 -1z" fill="#24cbff"/>
<path d="M934 454l8 8 -4 4 -8 -8z" fill="#1919f8"/>
<path d="M687 532l8 -9 6 5 -8 9z" fill="#77ffd7"/>
<path d="M384 530l9 8 -4 4 -9 -8z" fill="#95f7ad"/>
<path d="M383 563l8 -6 4 5 -8 6z" fill="#f4b373"/>
<path d="M739 468l7 -8 5 4 -7 8z" fill="#1a7bf9"/>
<path d="M756 536l9 0 -0 8 -9 -0z" fill="#4efce0"/>
<path d="M486 558l7 -6 5 5 -7 6z" fill="#ffc780"/>
<path d="M677 554l8 -9 5 4 -8 9z" fill="#ffd079"/>
<path d="M933 510l12 1 -1 6 -12 -1z" fill="#2efef6"/>
<path d="M879 436l10 8 -5 6 -10 -8z" fill="#212aff"/>
<path d="M461 519l9 1 -1 7 -9 -1z" fill="#56ffe1"/>
<path d="M341 542l7 -6 5 5 -7 6z" fill="#bbf68f"/>
<path d="M330 552l8 -9 6 5 -8 9z" fill="#fae46e"/>
<path d="M552 560l7 -7 5 5 -7 7z" fill="#f4a277"/>
<path d="M925 517l9 8 -5 6 -9 -8z" fill="#25feff"/>
<path d="M266 536l9 7 -5 6 -9 -7z" fill="#c7fe93"/>
<path d="M793 535l7 7 -6 6 -7 -7z" fill="#68f6cb"/>
<path d="M636 485l10 8 -4 5 -10 -8z" fill="#1ac1f9"/>
<path d="M861 491l9 9 -5 5 -9 -9z" fill="#25d1ff"/>
<path d="M682 511l8 -9 6 5 -8 9z" fill="#35fffc"/>
<path d="M803 454l6 -6 4 4 -6 6z" fill="#1e23fd"/>
<path d="M733 510l12 -0 0 7 -12 0z" fill="#27ffff"/>
<path d="M656 536l6 6 -5 5 -6 -6z" fill="#cef988"/>
<path d="M728 539l8 7 -4 5 -8 -7z" fill="#d2ff95"/>
<path d="M670 491l7 8 -5 5 -7 -8z" fill="#1cb2fb"/>
<path d="M850 484l8 -6 4 5 -8 6z" fill="#1869f7"/>
<path d="M797 482l7 -8 5 4 -7 8z" fill="#1a6af9"/>
<path d="M537 543l8 10 -6 5 -8 -10z" fill="#ffdc7a"/>
<path d="M308 538l9 -7 4 5 -9 7z" fill="#6ff8c9"/>
<path d="M892 508l8 -10 4 4 -8 10z" fill="#24d1ff"/>
<path d="M326 536l11 1 -1 6 -11 -1z" fill="#b1f594"/>
<path d="M455 524l7 7 -5 5 -7 -7z" fill="#61ffe4"/>
<path d="M131 543l10 -0 0 6 -10 0z" fill="#f3fd74"/>
<path d="M805 546l8 7 -5 6 -8 -7z" fill="#dcff8d"/>
<path d="M786 472l8 -1 1 6 -8 1z" fill="#187cf7"/>
<path d="M852 485l7 6 -5 7 -7 -6z" fill="#1ac9f9"/>
<path d="M839 492l9 9 -6 6 -9 -9z" fill="#1cbafb"/>
<path d="M931 530l7 -6 5 6 -7 6z" fill="#28fbf4"/>
<path d="M809 563l6 -7 6 6 -6 7z" fill="#f4ff7f"/>
<path d="M651 468l6 -6 5 5 -6 6z" fill="#17ecf6"/>
<path d="M900 476l10 -8 5 6 -10 8z" fill="#2493ff"/>
<path d="M472 510l9 8 -5 6 -9 -8z" fill="#2affff"/>
<path d="M739 525l8 9 -5 5 -8 -9z" fill="#38f9e7"/>
<path d="M573 504l6 6 -5 5 -6 -6z" fill="#31fef5"/>
<path d="M705 559l8 -7 4 5 -8 7z" fill="#feac81"/>
<path d="M948 463l9 8 -4 4 -9 -8z" fill="#2323ff"/>
<path d="M695 557l9 -0 0 8 -9 0z" fill="#fbb77a"/>
<path d="M480 510l6 -5 5 5 -6 5z" fill="#1be9fa"/>
<path d="M759 521l8 -8 5 5 -8 8z" fill="#2efef6"/>
<path d="M391 558l12 -0 0 7 -12 0z" fill="#feb080"/>
<path d="M704 492l10 -0 0 6 -10 0z" fill="#18c2f7"/>
<path d="M520 491l9 9 -5 5 -9 -9z" fill="#17bdf6"/>
<path d="M313 547l8 6 -4 5 -8 -6z" fill="#fcd175"/>
<path d="M780 561l7 -7 5 5 -7 7z" fill="#f3d06b"/>
<path d="M564 516l8 -10 5 4 -8 10z" fill="#22fbff"/>
<path d="M443 518l8 -1 1 8 -8 1z" fill="#43fff1"/>
<path d="M782 427l8 8 -5 5 -8 -8z" fill="#161ef5"/>
<path d="M645 460l9 8 -4 4 -9 -8z" fill="#2533ff"/>
<path d="M72 555l9 1 -1 6 -9 -1z" fill="#f8a979"/>
<path d="M731 466l8 7 -4 5 -8 -7z" fill="#1a75f9"/>
<path d="M873 534l6 6 -5 6 -6 -6z" fill="#50ffea"/>
<path d="M282 548l11 -1 1 6 -11 1z" fill="#fae46d"/>
<path d="M803 527l8 8 -6 6 -8 -8z" fill="#16f4f5"/>
<path d="M628 481l10 0 -0 6 -10 -0z" fill="#1a31f9"/>
<path d="M467 549l8 -7 5 6 -8 7z" fill="#ffed73"/>
<path d="M691 485l8 7 -6 6 -8 -7z" fill="#16c0f5"/>
<path d="M583 515l8 0 -0 7 -8 -0z" fill="#1af4f9"/>
<path d="M371 547l7 -5 4 5 -7 5z" fill="#fff971"/>
<path d="M769 533l12 -1 0 8 -12 1z" fill="#56ffe1"/>
<path d="M800 489l8 7 -5 5 -8 -7z" fill="#20b9ff"/>
<path d="M482 516l10 -0 0 6 -10 0z" fill="#25fcff"/>
<path d="M899 437l7 -6 4 5 -7 6z" fill="#2222ff"/>
<path d="M607 540l11 0 -0 6 -11 -0z" fill="#dff77a"/>
<path d="M809 530l10 -8 5 6 -10 8z" fill="#25ffff"/>
<path d="M950 469l11 1 -1 8 -11 -1z" fill="#226bff"/>
<path d="M741 539l6 6 -5 4 -6 -6z" fill="#bff78e"/>
<path d="M830 535l10 0 -0 7 -10 -0z" fill="#3cfff4"/>
<path d="M827 434l9 -1 1 7 -9 1z" fill="#1631f5"/>
<path d="M232 559l12 0 -0 8 -12 -0z" fill="#fbb57a"/>
<path d="M859 440l6 -7 4 4 -6 7z" fill="#1e1efd"/>
<path d="M623 543l7 7 -5 5 -7 -7z" fill="#f9e16c"/>
<path d="M635 508l8 8 -4 4 -8 -8z" fill="#2cfffb"/>
<path d="M832 487l7 7 -4 4 -7 -7z" fill="#18adf7"/>
<path d="M872 557l8 -0 0 8 -8 0z" fill="#4ef8da"/>
<path d="M897 493l11 1 -1 7 -11 -1z" fill="#23d6ff"/>
<path d="M787 509l8 -6 4 5 -8 6z" fill="#29fffe"/>
<path d="M294 557l9 7 -5 6 -9 -7z" fill="#fbb57b"/>
<path d="M704 437l10 -0 0 6 -10 0z" fill="#1f37fe"/>
<path d="M918 486l10 0 -0 6 -10 -0z" fill="#267aff"/>
<path d="M641 552l9 9 -5 5 -9 -9z" fill="#ffb77f"/>
<path d="M105 537l9 0 -0 7 -9 -0z" fill="#befa93"/>
<path d="M769 528l6 6 -6 6 -6 -6z" fill="#30fcf1"/>
<path d="M874 493l8 -8 5 5 -8 8z" fill="#1db4fc"/>
<path d="M352 528l8 -7 5 6 -8 7z" fill="#1ffefd"/>
<path d="M929 434l5 6 -5 5 -5 -6z" fill="#1adcf9"/>
<path d="M652 468l9 1 -1 7 -9 -1z" fill="#218cff"/>
<path d="M727 554l8 -9 5 4 -8 9z" fill="#ffed72"/>
<path d="M708 522l8 7 -5 6 -8 -7z" fill="#43f7de"/>
<path d="M910 473l9 0 -0 8 -9 -0z" fill="#227bff"/>
<path d="M525 491l11 -0 0 6 -11 0z" fill="#1a1af9"/>
<path d="M859 446l10 8 -4 5 -10 -8z" fill="#1b23fa"/>
<path d="M326 545l10 1 -1 6 -10 -1z" fill="#fefd6e"/>
<path d="M658 554l8 -9 5 4 -8 9z" fill="#f5c072"/>
<path d="M801 437l9 0 -0 8 -9 -0z" fill="#2045ff"/>
<path d="M138 554l10 -1 1 8 -10 1z" fill="#f8b678"/>
<path d="M655 489l9 1 -1 6 -9 -1z" fill="#1ab9f9"/>
<path d="M336 552l10 -1 1 7 -10 1z" fill="#ffbb80"/>
<path d="M757 539l6 7 -5 4 -6 -7z" fill="#daf77d"/>
<path d="M769 451l10 -0 0 8 -10 0z" fill="#1e1efd"/>
<path d="M754 469l11 0 -0 6 -11 -0z" fill="#2494ff"/>
<path d="M544 524l10 -8 5 6 -10 8z" fill="#4effe6"/>
<path d="M911 547l6 -7 5 5 -6 7z" fill="#24fbf7"/>
<path d="M744 557l9 -8 4 5 -9 8z" fill="#ffbc7e"/>
<path d="M583 494l10 -0 0 6 -10 0z" fill="#224aff"/>
<path d="M666 458l8 0 -0 8 -8 -0z" fill="#1f2efe"/>
<path d="M902 486l8 -6 4 5 -8 6z" fill="#1c76fb"/>
<path d="M774 492l9 8 -5 5 -9 -8z" fill="#1ec3fd"/>
<path d="M142 545l6 7 -6 5 -6 -7z" fill="#f6ec67"/>
<path d="M386 528l12 -0 0 8 -12 0z" fill="#48f6da"/>
<path d="M562 519l7 8 -5 5 -7 -8z" fill="#42f8e1"/>
<path d="M425 542l7 -6 6 6 -7 6z" fill="#f1ff82"/>
<path d="M757 545l6 6 -5 5 -6 -6z" fill="#fdff76"/>
<path d="M596 559l6 -7 6 6 -6 7z" fill="#ffb984"/>
<path d="M672 463l6 5 -4 5 -6 -5z" fill="#17e8f6"/>
<path d="M907 535l8 8 -5 4 -8 -8z" fill="#3bfbea"/>
<path d="M592 539l7 -7 6 5 -7 7z" fill="#bef991"/>
<path d="M284 541l8 -1 1 7 -8 1z" fill="#e5f979"/>
<path d="M919 462l9 -7 5 6 -9 7z" fill="#2020ff"/>
<path d="M590 508l6 -6 6 6 -6 6z" fill="#18edf7"/>
<path d="M930 551l5 -6 5 4 -5 6z" fill="#26fbf5"/>
<path d="M903 446l7 6 -5 6 -7 -6z" fill="#1e24fd"/>
<path d="M300 545l8 8 -5 5 -8 -8z" fill="#f4de67"/>
<path d="M498 529l11 1 -1 8 -11 -1z" fill="#90ffc8"/>
<path d="M468 560l9 -1 1 7 -9 1z" fill="#fbac7d"/>
<path d="M507 494l7 -8 5 4 -7 8z" fill="#22e0ff"/>
<path d="M690 458l8 1 -1 7 -8 -1z" fill="#1763f6"/>
<path d="M852 543l10 -8 4 4 -10 8z" fill="#40f7e1"/>
<path d="M363 547l6 -5 5 6 -6 5z" fill="#edf870"/>
<path d="M920 548l6 6 -6 5 -6 -6z" fill="#30fcf2"/>
<path d="M40 558l9 -8 5 5 -9 8z" fill="#fabb78"/>
<path d="M668 487l11 -1 1 6 -11 1z" fill="#1ac7f9"/>
<path d="M888 491l9 -0 0 7 -9 0z" fill="#18b5f7"/>
<path d="M888 475l7 7 -5 5 -7 -7z" fill="#1a64f9"/>
<path d="M887 487l12 1 -0 6 -12 -1z" fill="#1b6dfa"/>
<path d="M391 531l8 -8 6 6 -8 8z" fill="#59ffe2"/>
<path d="M611 476l10 -8 4 5 -10 8z" fill="#1e89fd"/>
<path d="M876 445l12 1 -1 8 -12 -1z" fill="#1d24fc"/>
<path d="M736 533l8 7 -4 5 -8 -7z" fill="#88fdc2"/>
<path d="M903 559l12 -1 0 8 -12 1z" fill="#2bfffc"/>
<path d="M919 448l8 1 -1 8 -8 -1z" fill="#2198ff"/>
<path d="M746 450l12 1 -0 6 -12 -1z" fill="#1f3ffe"/>
<path d="M605 510l9 8 -4 4 -9 -8z" fill="#1ef6f1"/>
<path d="M717 440l8 8 -5 5 -8 -8z" fill="#1f95fe"/>
<path d="M799 511l8 1 -1 8 -8 -1z" fill="#2dfff7"/>
<path d="M474 506l11 -0 0 8 -11 0z" fill="#23a8ff"/>
<path d="M845 475l7 8 -5 5 -7 -8z" fill="#1b77fa"/>
<path d="M778 537l12 -1 0 7 -12 1z" fill="#49fce3"/>
<path d="M211 536l8 8 -6 6 -8 -8z" fill="#19f7f7"/>
<path d="M703 505l8 -8 5 5 -8 8z" fill="#26ffff"/>
<path d="M784 465l7 -7 6 5 -7 7z" fill="#2279ff"/>
<path d="M527 551l8 -6 5 6 -8 6z" fill="#fddd74"/>
<path d="M784 507l8 7 -4 4 -8 -7z" fill="#1cfafb"/>
<path d="M569 528l9 -9 4 4 -9 9z" fill="#41f8e1"/>
<path d="M858 485l9 1 -1 8 -9 -1z" fill="#1e7ffd"/>
<path d="M817 452l8 -9 6 5 -8 9z" fill="#2424ff"/>
<path d="M945 497l6 7 -4 4 -6 -7z" fill="#21d3ff"/>
<path d="M489 542l9 1 -0 8 -9 -1z" fill="#fff573"/>
<path d="M804 503l9 -0 0 8 -9 0z" fill="#2bfff9"/>
<path d="M755 442l6 -7 5 4 -6 7z" fill="#21e3ff"/>
<path d="M608 499l7 -6 4 5 -7 6z" fill="#24d8ff"/>
<path d="M921 445l11 -2 1 8 -11 2z" fill="#1a34f9"/>
<path d="M705 439l9 8 -5 6 -9 -8z" fill="#2227ff"/>
<path d="M41 555l13 1 -0 7 -13 -1z" fill="#fdbd7b"/>
<path d="M723 518l8 -9 6 5 -8 9z" fill="#17f0f6"/>
<path d="M827 506l6 7 -5 4 -6 -7z" fill="#1df1fc"/>
<path d="M941 529l9 1 -1 8 -9 -1z" fill="#17ebf6"/>
<path d="M625 484l13 -1 1 8 -13 1z" fill="#1e79fd"/>
<path d="M753 445l6 6 -4 4 -6 -6z" fill="#1b37fa"/>
<path d="M942 490l12 1 -1 6 -12 -1z" fill="#1cd1fb"/>
<path d="M815 472l10 8 -4 5 -10 -8z" fill="#237aff"/>
<path d="M443 548l13 -1 1 8 -13 1z" fill="#f3c26e"/>
<path d="M841 509l8 7 -4 4 -8 -7z" fill="#25f6ee"/>
<path d="M761 483l10 1 -0 7 -10 -1z" fill="#25d1ff"/>
<path d="M247 550l12 -0 0 6 -12 0z" fill="#ffcf7c"/>
<path d="M765 458l9 -7 4 5 -9 7z" fill="#2392ff"/>
<path d="M186 549l9 -9 5 5 -9 9z" fill="#f5f768"/>
<path d="M343 541l8 -7 4 5 -8 7z" fill="#bbffa6"/>
<path d="M913 547l7 7 -5 5 -7 -7z" fill="#1bf8f6"/>
<path d="M758 464l11 -1 0 7 -11 1z" fill="#247eff"/>
<path d="M764 542l9 7 -5 6 -9 -7z" fill="#e3fe84"/>
<path d="M819 544l7 7 -5 6 -7 -7z" fill="#e5ff8b"/>
<path d="M732 448l10 0 -0 8 -10 -0z" fill="#234bff"/>
<path d="M933 456l6 7 -6 5 -6 -7z" fill="#1717f6"/>
<path d="M605 524l7 -7 5 5 -7 7z" fill="#41ffee"/>
<path d="M258 553l11 1 -0 6 -11 -1z" fill="#f5bb73"/>
<path d="M571 491l12 1 -1 8 -12 -1z" fill="#262eff"/>
<path d="M546 502l7 -6 5 6 -7 6z" fill="#209dff"/>
<path d="M148 550l9 10 -6 5 -9 -10z" fill="#ffb381"/>
<path d="M952 496l7 7 -4 4 -7 -7z" fill="#1eb8fd"/>
<path d="M428 551l10 8 -4 5 -10 -8z" fill="#ffae83"/>
<path d="M939 556l9 -0 0 8 -9 0z" fill="#22fcf9"/>
<path d="M615 506l10 8 -4 5 -10 -8z" fill="#17ecf6"/>
<path d="M756 493l7 7 -4 4 -7 -7z" fill="#1cccfb"/>
<path d="M844 561l6 -7 5 4 -6 7z" fill="#96ffc1"/>
<path d="M69 543l6 7 -6 5 -6 -7z" fill="#ffff73"/>
<path d="M464 538l12 1 -1 6 -12 -1z" fill="#d7f67e"/>
<path d="M466 556l9 -9 5 5 -9 9z" fill="#fbb87b"/>
<path d="M908 498l6 5 -4 5 -6 -5z" fill="#18c3f7"/>
<path d="M73 549l7 7 -4 5 -7 -7z" fill="#fecd79"/>
<path d="M643 488l6 -7 6 5 -6 7z" fill="#20d2ff"/>
<path d="M915 517l12 1 -1 6 -12 -1z" fill="#24fefb"/>
<path d="M114 558l9 -7 5 6 -9 7z" fill="#ffc47d"/>
<path d="M720 454l13 1 -1 7 -13 -1z" fill="#2595ff"/>
<path d="M875 544l7 -7 4 5 -7 7z" fill="#5affe3"/>
<path d="M146 546l8 -6 5 6 -8 6z" fill="#edf66c"/>
<path d="M944 539l8 -7 5 6 -8 7z" fill="#23f7ff"/>
<path d="M356 536l8 -8 5 5 -8 8z" fill="#6efacd"/>
<path d="M711 458l10 1 -1 8 -10 -1z" fill="#2277ff"/>
<path d="M719 477l6 7 -4 4 -6 -7z" fill="#1cd3fb"/>
<path d="M821 521l13 1 -0 7 -13 -1z" fill="#1af7f9"/>
<path d="M256 531l12 1 -0 8 -12 -1z" fill="#5cffe5"/>
<path d="M908 472l10 -0 0 8 -10 0z" fill="#1868f7"/>
<path d="M811 475l8 -9 4 4 -8 9z" fill="#2083ff"/>
<path d="M714 517l5 6 -6 5 -5 -6z" fill="#2afcf5"/>
<path d="M356 545l9 8 -4 5 -9 -8z" fill="#f9da6f"/>
<path d="M830 518l12 -0 0 6 -12 0z" fill="#19f4f8"/>
<path d="M297 556l7 -6 5 6 -7 6z" fill="#ffbf80"/>
<path d="M858 550l9 1 -0 6 -9 -1z" fill="#6cf6c8"/>
<path d="M886 461l7 7 -5 4 -7 -7z" fill="#1e85fd"/>
<path d="M318 553l9 -8 5 6 -9 8z" fill="#f5d96b"/>
<path d="M370 524l7 -6 5 6 -7 6z" fill="#43ffee"/>
<path d="M884 473l6 -6 4 4 -6 6z" fill="#1a76f9"/>
<path d="M417 556l11 0 -0 7 -11 -0z" fill="#fab57a"/>
<path d="M635 538l9 0 -0 8 -9 -0z" fill="#e2fd83"/>
<path d="M683 453l7 -6 4 5 -7 6z" fill="#183ef7"/>
<path d="M253 541l7 -7 6 5 -7 7z" fill="#c5fd94"/>
<path d="M643 544l7 -6 5 6 -7 6z" fill="#fbf96b"/>
<path d="M691 465l6 -7 6 6 -6 7z" fill="#2689ff"/>
<path d="M589 534l8 9 -5 4 -8 -9z" fill="#d7ff95"/>
<path d="M779 510l9 9 -5 5 -9 -9z" fill="#1af6f9"/>
<path d="M222 533l9 8 -6 6 -9 -8z" fill="#a6f59b"/>
<path d="M622 487l10 -1 1 8 -10 1z" fill="#17c6f6"/>
<path d="M733 465l7 -6 4 4 -7 6z" fill="#1983f8"/>
<path d="M869 441l7 8 -5 4 -7 -8z" fill="#1930f8"/>
<path d="M434 509l8 8 -6 6 -8 -8z" fill="#25ffff"/>
<path d="M763 465l8 8 -5 5 -8 -8z" fill="#1b68fa"/>
<path d="M722 555l9 -8 5 6 -9 8z" fill="#f5ba73"/>
<path d="M718 516l12 2 -1 8 -12 -2z" fill="#24ffff"/>
<path d="M844 550l6 -6 6 5 -6 6z" fill="#a8ffb0"/>
<path d="M178 541l6 -6 6 6 -6 6z" fill="#bbf68e"/>
<path d="M414 552l13 1 -0 7 -13 -1z" fill="#f3bb70"/>
<path d="M379 534l6 7 -6 5 -6 -7z" fill="#dafe88"/>
<path d="M208 547l10 1 -1 7 -10 -1z" fill="#f3d967"/>
<path d="M735 430l7 6 -5 5 -7 -6z" fill="#253fff"/>
<path d="M940 516l8 0 -0 7 -8 -0z" fill="#20f5ff"/>
<path d="M307 549l9 -9 4 4 -9 9z" fill="#e6ff82"/>
<path d="M884 487l7 7 -4 4 -7 -7z" fill="#1db2fc"/>
<path d="M494 564l7 -8 6 6 -7 8z" fill="#f8b378"/>
<path d="M188 547l12 -0 0 7 -12 0z" fill="#fceb6e"/>
<path d="M874 490l9 0 -0 8 -9 -0z" fill="#18cdf7"/>
<path d="M431 534l10 1 -1 8 -10 -1z" fill="#cfff92"/>
<path d="M912 500l5 -6 6 5 -5 6z" fill="#21d2ff"/>
<path d="M757 444l9 1 -1 7 -9 -1z" fill="#2424ff"/>
<path d="M345 541l10 1 -1 6 -10 -1z" fill="#e1f676"/>
<path d="M679 550l8 6 -3 4 -8 -6z" fill="#f6af77"/>
<path d="M583 531l8 -1 1 8 -8 1z" fill="#aff99b"/>
<path d="M578 530l9 -7 4 5 -9 7z" fill="#59ffe4"/>
<path d="M714 485l8 9 -6 5 -8 -9z" fill="#1cbefb"/>
<path d="M901 555l9 1 -1 7 -9 -1z" fill="#38f7e5"/>
<path d="M721 471l8 -9 5 5 -8 9z" fill="#1e77fd"/>
<path d="M505 544l9 -9 5 5 -9 9z" fill="#e4fb7d"/>
<path d="M658 545l6 -7 5 4 -6 7z" fill="#f0ff82"/>
<path d="M691 544l11 -1 1 5 -11 1z" fill="#fff375"/>
<path d="M627 556l12 -1 1 8 -12 1z" fill="#ffb281"/>
<path d="M763 481l8 1 -0 6 -8 -1z" fill="#1ac1f9"/>
<path d="M569 498l8 9 -4 4 -8 -9z" fill="#2525ff"/>
<path d="M884 472l7 6 -4 5 -7 -6z" fill="#206dff"/>
<path d="M376 546l7 -7 6 5 -7 7z" fill="#f7f367"/>
<path d="M917 519l8 9 -5 4 -8 -9z" fill="#24ffff"/>
<path d="M925 492l8 -7 4 5 -8 7z" fill="#1770f6"/>
<path d="M516 521l7 -7 4 4 -7 7z" fill="#1cfafb"/>
<path d="M543 519l8 8 -6 6 -8 -8z" fill="#47fbe2"/>
<path d="M600 525l9 7 -3 4 -9 -7z" fill="#69ffe1"/>
<path d="M371 548l6 -6 6 6 -6 6z" fill="#fff672"/>
<path d="M757 434l9 -1 1 6 -9 1z" fill="#2237ff"/>
<path d="M891 472l7 -6 4 5 -7 6z" fill="#2182ff"/>
<path d="M793 489l6 -7 5 4 -6 7z" fill="#1db4fc"/>
<path d="M728 507l7 -6 4 5 -7 6z" fill="#36fffa"/>
<path d="M915 514l7 8 -5 5 -7 -8z" fill="#25f7ef"/>
<path d="M720 452l8 8 -5 5 -8 -8z" fill="#1778f6"/>
<path d="M645 464l7 -8 5 5 -7 8z" fill="#244fff"/>
<path d="M715 471l11 -1 1 8 -11 1z" fill="#208cff"/>
<path d="M408 517l7 8 -6 5 -7 -8z" fill="#59ffe7"/>
<path d="M817 497l12 -1 0 6 -12 1z" fill="#25d4ff"/>
<path d="M901 439l7 -8 6 5 -7 8z" fill="#2639ff"/>
<path d="M786 434l8 8 -5 5 -8 -8z" fill="#26f7ff"/>
<path d="M692 476l6 -6 5 6 -6 6z" fill="#1ccefb"/>
<path d="M264 529l7 -7 5 5 -7 7z" fill="#18f1f7"/>
<path d="M447 562l6 -6 5 5 -6 6z" fill="#ffb582"/>
<path d="M655 451l9 9 -5 6 -9 -9z" fill="#23aeff"/>
<path d="M753 552l9 0 -0 8 -9 -0z" fill="#fbb47c"/>
<path d="M853 496l8 8 -5 5 -8 -8z" fill="#23daff"/>
<path d="M734 524l7 -8 5 5 -7 8z" fill="#1ef8f5"/>
<path d="M667 534l6 6 -6 6 -6 -6z" fill="#d6f984"/>
<path d="M631 550l10 -0 0 8 -10 0z" fill="#fcb77b"/>
<path d="M892 488l9 8 -4 5 -9 -8z" fill="#20c4ff"/>
<path d="M453 506l10 0 -0 6 -10 -0z" fill="#21faff"/>
<path d="M621 552l6 5 -4 5 -6 -5z" fill="#fbb77a"/>
<path d="M64 556l7 -8 6 6 -7 8z" fill="#ffcd7b"/>
<path d="M611 533l9 1 -1 8 -9 -1z" fill="#bafd9a"/>
<path d="M800 432l6 -6 6 6 -6 6z" fill="#172ff6"/>
<path d="M601 494l6 7 -6 5 -6 -7z" fill="#23c6ff"/>
<path d="M781 508l6 6 -5 5 -6 -6z" fill="#27faf3"/>
<path d="M744 471l8 -7 5 6 -8 7z" fill="#257dff"/>
<path d="M921 502l12 -0 0 8 -12 0z" fill="#25c7ff"/>
<path d="M642 477l12 -2 1 6 -12 2z" fill="#2594ff"/>
<path d="M851 502l8 -1 1 7 -8 1z" fill="#1bc6fa"/>
<path d="M885 504l8 1 -1 7 -8 -1z" fill="#21c5ff"/>
<path d="M219 554l12 -1 1 8 -12 1z" fill="#fabb78"/>
<path d="M490 544l9 0 -0 6 -9 -0z" fill="#f7fa6b"/>
<path d="M110 553l9 -0 0 7 -9 0z" fill="#ffc17f"/>
<path d="M808 509l8 -7 6 6 -8 7z" fill="#25fffd"/>
<path d="M816 538l9 -1 1 6 -9 1z" fill="#45fce6"/>
<path d="M890 528l9 -9 5 5 -9 9z" fill="#16f4f5"/>
<path d="M106 565l8 -8 6 5 -8 8z" fill="#ffc281"/>
<path d="M400 509l7 8 -5 4 -7 -8z" fill="#20f6ff"/>
<path d="M848 471l7 7 -5 5 -7 -7z" fill="#2070ff"/>
<path d="M870 500l9 9 -5 5 -9 -9z" fill="#20d4ff"/>
<path d="M927 463l8 -1 1 8 -8 1z" fill="#2040ff"/>
<path d="M881 530l9 9 -4 4 -9 -9z" fill="#1bf3fa"/>
<path d="M30 547l10 1 -1 7 -10 -1z" fill="#f4db68"/>
<path d="M946 517l10 -1 0 6 -10 1z" fill="#17e9f6"/>
<path d="M807 482l9 7 -5 6 -9 -7z" fill="#1fc3fe"/>
<path d="M785 562l8 -7 4 5 -8 7z" fill="#f4ed65"/>
<path d="M768 446l8 1 -0 6 -8 -1z" fill="#1895f7"/>
<path d="M148 540l8 -9 6 5 -8 9z" fill="#7ff8bf"/>
<path d="M850 457l9 1 -1 6 -9 -1z" fill="#1c76fb"/>
<path d="M618 491l10 1 -1 8 -10 -1z" fill="#1cb0fb"/>
<path d="M705 531l13 -0 0 7 -13 0z" fill="#76ffd7"/>
<path d="M250 552l11 2 -1 8 -11 -2z" fill="#fabb78"/>
<path d="M879 466l6 5 -4 4 -6 -5z" fill="#2084ff"/>
<path d="M814 509l8 -7 5 6 -8 7z" fill="#22fbff"/>
<path d="M846 467l8 9 -5 5 -8 -9z" fill="#196bf8"/>
<path d="M758 450l11 -1 1 8 -11 1z" fill="#213cff"/>
<path d="M304 555l9 -7 4 4 -9 7z" fill="#fbd075"/>
<path d="M527 495l8 8 -6 6 -8 -8z" fill="#1fecfe"/>
<path d="M684 498l9 -8 5 5 -9 8z" fill="#25feff"/>
<path d="M862 542l9 -8 5 6 -9 8z" fill="#64ffda"/>
<path d="M104 540l10 -1 1 7 -10 1z" fill="#bfffa4"/>
<path d="M353 549l10 1 -1 8 -10 -1z" fill="#f9c076"/>
<path d="M940 532l8 9 -5 5 -8 -9z" fill="#27f8f1"/>
<path d="M949 499l7 7 -6 6 -7 -7z" fill="#18b1f7"/>
<path d="M634 553l9 -9 4 4 -9 9z" fill="#fdd975"/>
<path d="M777 551l7 8 -6 5 -7 -8z" fill="#f6d26e"/>
<path d="M526 518l6 -7 5 4 -6 7z" fill="#20f6ff"/>
<path d="M863 472l13 1 -0 6 -13 -1z" fill="#1c74fb"/>
<path d="M361 530l7 8 -4 4 -7 -8z" fill="#73f7c6"/>
<path d="M616 483l12 -1 0 6 -12 1z" fill="#218bff"/>
<path d="M648 467l6 7 -6 5 -6 -7z" fill="#1784f6"/>
<path d="M919 506l10 -0 0 8 -10 0z" fill="#2ffff6"/>
<path d="M397 531l6 -6 5 5 -6 6z" fill="#61ffe4"/>
<path d="M147 559l7 -7 4 5 -7 7z" fill="#ffb186"/>
<path d="M611 501l9 8 -5 6 -9 -8z" fill="#28ffff"/>
<path d="M705 486l7 -7 4 4 -7 7z" fill="#21cdff"/>
<path d="M512 519l10 -0 0 6 -10 0z" fill="#3af8e6"/>
<path d="M332 542l9 -0 0 8 -9 0z" fill="#fbff78"/>
<path d="M764 470l8 -8 4 4 -8 8z" fill="#1d74fc"/>
<path d="M751 510l12 0 -0 8 -12 -0z" fill="#1efbfd"/>
<path d="M236 548l10 -8 4 5 -10 8z" fill="#dbff8e"/>
<path d="M732 434l7 7 -4 4 -7 -7z" fill="#1717f6"/>
<path d="M639 541l10 -8 4 5 -10 8z" fill="#d3f985"/>
<path d="M515 527l10 -1 1 8 -10 1z" fill="#57ffe2"/>
<path d="M901 454l10 -0 0 6 -10 0z" fill="#1835f7"/>
<path d="M691 560l8 -7 4 4 -8 7z" fill="#f9ab7a"/>
<path d="M514 528l8 -8 5 5 -8 8z" fill="#53f8d8"/>
<path d="M791 542l9 -7 5 6 -9 7z" fill="#72fed1"/>
<path d="M704 443l8 6 -4 5 -8 -6z" fill="#1e40fd"/>
<path d="M831 477l10 1 -1 8 -10 -1z" fill="#2392ff"/>
<path d="M854 466l8 -1 0 7 -8 1z" fill="#2179ff"/>
<path d="M693 498l7 7 -5 6 -7 -7z" fill="#25fefa"/>
<path d="M673 452l7 7 -6 6 -7 -7z" fill="#1e27fd"/>
<path d="M403 558l8 -9 5 5 -8 9z" fill="#fcc279"/>
<path d="M527 484l7 8 -6 6 -7 -8z" fill="#1619f5"/>
<path d="M769 482l6 -7 5 5 -6 7z" fill="#1c89fb"/>
<path d="M944 437l8 8 -5 6 -8 -8z" fill="#1c1cfb"/>
<path d="M867 479l11 1 -1 8 -11 -1z" fill="#1877f7"/>
<path d="M508 514l8 -6 4 5 -8 6z" fill="#30fffd"/>
<path d="M599 549l8 9 -6 5 -8 -9z" fill="#f4b972"/>
<path d="M742 516l9 1 -1 6 -9 -1z" fill="#16eef5"/>
<path d="M741 540l12 -0 0 8 -12 0z" fill="#baf993"/>
<path d="M920 471l7 -8 5 5 -7 8z" fill="#1a6df9"/>
<path d="M699 475l10 -1 1 8 -10 1z" fill="#17b8f6"/>
<path d="M828 521l9 1 -1 7 -9 -1z" fill="#1df3fc"/>
<path d="M350 542l7 -8 6 5 -7 8z" fill="#ccfa8a"/>
<path d="M732 458l7 -7 5 4 -7 7z" fill="#2323ff"/>
<path d="M766 468l10 1 -0 6 -10 -1z" fill="#1979f8"/>
<path d="M662 518l10 -1 1 8 -10 1z" fill="#3afeef"/>
<path d="M600 484l7 -6 4 5 -7 6z" fill="#2495ff"/>
<path d="M782 449l10 -8 5 6 -10 8z" fill="#172cf6"/>
<path d="M685 487l7 -6 4 5 -7 6z" fill="#19cbf8"/>
<path d="M659 501l6 6 -4 5 -6 -6z" fill="#17f5f6"/>
<path d="M626 500l13 2 -1 7 -13 -2z" fill="#1ffbfe"/>
<path d="M833 494l8 8 -4 5 -8 -8z" fill="#1ac8f9"/>
<path d="M550 494l6 6 -5 5 -6 -6z" fill="#1f92fe"/>
<path d="M232 548l8 -6 4 4 -8 6z" fill="#f9fe70"/>
<path d="M172 552l7 6 -5 6 -7 -6z" fill="#f4b872"/>
<path d="M884 497l6 6 -5 5 -6 -6z" fill="#1dd2fc"/>
<path d="M933 482l9 -7 5 6 -9 7z" fill="#1c7cfb"/>
<path d="M700 547l7 6 -5 5 -7 -6z" fill="#ffc97c"/>
<path d="M903 513l12 -1 1 8 -12 1z" fill="#24ffff"/>
<path d="M841 534l6 -6 6 5 -6 6z" fill="#20feff"/>
<path d="M502 545l8 -1 1 7 -8 1z" fill="#fce670"/>
<path d="M587 516l11 1 -1 7 -11 -1z" fill="#41fff4"/>
<path d="M253 548l8 -1 0 6 -8 1z" fill="#fbe46f"/>
<path d="M718 493l7 7 -5 6 -7 -7z" fill="#1dfbfb"/>
<path d="M628 522l8 7 -5 6 -8 -7z" fill="#4dfade"/>
<path d="M458 545l9 8 -5 6 -9 -8z" fill="#ffd07b"/>
<path d="M525 511l7 8 -5 4 -7 -8z" fill="#1cf9fb"/>
<path d="M758 553l8 6 -5 6 -8 -6z" fill="#ffc281"/>
<path d="M720 528l8 -9 5 5 -8 9z" fill="#21fdff"/>
<path d="M941 528l5 6 -6 5 -5 -6z" fill="#1df2fc"/>
<path d="M550 542l8 -7 5 6 -8 7z" fill="#ebff82"/>
<path d="M539 546l7 -7 5 5 -7 7z" fill="#f6ec67"/>
<path d="M454 540l8 -8 4 4 -8 8z" fill="#b5fea0"/>
<path d="M288 550l7 6 -5 7 -7 -6z" fill="#f9c275"/>
<path d="M439 547l6 -6 5 5 -6 6z" fill="#fced6e"/>
<path d="M928 556l10 -1 1 7 -10 1z" fill="#20fbf9"/>
<path d="M781 456l9 -1 1 6 -9 1z" fill="#2525ff"/>
<path d="M716 489l9 -1 1 6 -9 1z" fill="#18c6f7"/>
<path d="M592 555l9 -9 6 6 -9 9z" fill="#f8c674"/>
<path d="M703 517l8 9 -6 5 -8 -9z" fill="#57f8d6"/>
<path d="M929 466l7 5 -5 6 -7 -5z" fill="#248dff"/>
<path d="M358 552l8 9 -5 4 -8 -9z" fill="#f5ab76"/>
<path d="M935 490l12 1 -1 8 -12 -1z" fill="#25cdff"/>
<path d="M301 532l13 -1 0 6 -13 1z" fill="#6cffdb"/>
<path d="M363 536l6 -6 6 5 -6 6z" fill="#69fcd3"/>
<path d="M270 544l6 6 -4 4 -6 -6z" fill="#ffff74"/>
<path d="M747 530l6 -7 4 4 -6 7z" fill="#1aeff9"/>
<path d="M708 554l13 -2 1 7 -13 2z" fill="#fdc57a"/>
<path d="M729 449l8 7 -4 4 -8 -7z" fill="#223bff"/>
<path d="M575 501l9 8 -4 4 -9 -8z" fill="#1bf3fa"/>
<path d="M819 483l11 1 -1 8 -11 -1z" fill="#1ac0f9"/>
<path d="M789 428l8 0 -0 8 -8 -0z" fill="#1d1dfc"/>
<path d="M407 548l9 -1 1 7 -9 1z" fill="#f9dd6f"/>
<path d="M80 558l12 0 -0 8 -12 -0z" fill="#f4b073"/>
<path d="M231 547l9 8 -5 6 -9 -8z" fill="#fcc379"/>
<path d="M720 506l9 -9 5 5 -9 9z" fill="#1af2f9"/>
<path d="M389 553l7 -5 4 4 -7 5z" fill="#fac775"/>
<path d="M681 536l9 -8 5 6 -9 8z" fill="#c4f78a"/>
<path d="M454 524l8 -8 5 6 -8 8z" fill="#55ffe7"/>
<path d="M489 515l9 1 -1 8 -9 -1z" fill="#2dfffa"/>
<path d="M170 543l8 -9 6 6 -8 9z" fill="#dcfe88"/>
<path d="M921 487l13 -0 0 6 -13 0z" fill="#186ff7"/>
<path d="M638 479l8 8 -4 4 -8 -8z" fill="#247cff"/>
<path d="M766 530l12 -0 0 6 -12 0z" fill="#2bfffd"/>
<path d="M920 555l9 8 -6 6 -9 -8z" fill="#2af6eb"/>
<path d="M799 556l9 8 -5 6 -9 -8z" fill="#fbff72"/>
<path d="M575 556l7 -6 5 6 -7 6z" fill="#ffb980"/>
<path d="M802 513l9 8 -4 4 -9 -8z" fill="#33fffa"/>
<path d="M705 475l8 -7 5 6 -8 7z" fill="#21c0ff"/>
<path d="M230 540l12 -2 1 8 -12 2z" fill="#e4ff84"/>
<path d="M842 554l10 0 -0 8 -10 -0z" fill="#9cfeb2"/>
<path d="M737 511l13 1 -0 6 -13 -1z" fill="#1bf3fa"/>
<path d="M698 501l8 7 -6 6 -8 -7z" fill="#1df6f2"/>
<path d="M556 533l10 0 -0 8 -10 -0z" fill="#b8f792"/>
<path d="M699 523l12 -1 1 8 -12 1z" fill="#54fcdd"/>
<path d="M461 548l11 0 -0 8 -11 -0z" fill="#fccb77"/>
<path d="M256 549l7 -8 4 4 -7 8z" fill="#eeff82"/>
<path d="M656 510l10 -1 1 7 -10 1z" fill="#19f4f8"/>
<path d="M338 558l8 -6 5 6 -8 6z" fill="#f8ac79"/>
<path d="M637 496l6 -5 5 6 -6 5z" fill="#1dd1fc"/>
<path d="M741 484l7 7 -4 4 -7 -7z" fill="#17c8f6"/>
<path d="M795 495l6 7 -5 4 -6 -7z" fill="#1ab0f9"/>
<path d="M778 445l8 -9 6 5 -8 9z" fill="#1a49f9"/>
<path d="M532 515l7 -7 5 5 -7 7z" fill="#33fffa"/>
<path d="M471 497l8 8 -5 5 -8 -8z" fill="#21feff"/>
<path d="M433 555l10 1 -1 8 -10 -1z" fill="#f5a377"/>
<path d="M412 530l10 -0 0 7 -10 0z" fill="#71f8c8"/>
<path d="M251 552l8 8 -5 5 -8 -8z" fill="#feb07f"/>
<path d="M290 559l6 -7 4 4 -6 7z" fill="#feb87e"/>
<path d="M514 509l8 -7 5 6 -8 7z" fill="#2ffff7"/>
<path d="M861 527l8 -10 5 4 -8 10z" fill="#19f0f8"/>
<path d="M776 471l5 6 -6 5 -5 -6z" fill="#2594ff"/>
<path d="M759 463l8 8 -6 6 -8 -8z" fill="#1e6afd"/>
<path d="M731 495l9 -1 1 7 -9 1z" fill="#26ccff"/>
<path d="M854 498l7 -8 6 5 -7 8z" fill="#22ccff"/>
<path d="M896 533l13 -2 1 7 -13 2z" fill="#21faff"/>
<path d="M598 529l10 8 -4 5 -10 -8z" fill="#aeffa6"/>
<path d="M621 535l8 7 -5 6 -8 -7z" fill="#e3f574"/>
<path d="M930 494l7 -6 4 4 -7 6z" fill="#19c8f8"/>
<path d="M580 508l9 9 -6 6 -9 -9z" fill="#1bf6f4"/>
<path d="M876 548l8 8 -6 6 -8 -8z" fill="#61f9d2"/>
<path d="M418 526l9 8 -4 5 -9 -8z" fill="#57fedf"/>
<path d="M906 533l7 -6 5 5 -7 6z" fill="#18f6f7"/>
<path d="M229 564l7 -8 4 4 -7 8z" fill="#ffb680"/>
<path d="M527 541l10 -1 1 8 -10 1z" fill="#f7ea69"/>
<path d="M804 510l13 2 -1 6 -13 -2z" fill="#26faff"/>
<path d="M712 503l7 7 -4 5 -7 -7z" fill="#24fcff"/>
<path d="M365 555l9 8 -4 5 -9 -8z" fill="#f5a478"/>
<path d="M472 515l11 0 -0 6 -11 -0z" fill="#1bf4fa"/>
<path d="M722 519l13 -1 1 8 -13 1z" fill="#23fcff"/>
<path d="M792 447l12 1 -1 6 -12 -1z" fill="#2548ff"/>
<path d="M790 430l8 -9 5 4 -8 9z" fill="#2222ff"/>
<path d="M639 511l11 -1 1 6 -11 1z" fill="#2cfffa"/>
<path d="M792 459l6 6 -4 4 -6 -6z" fill="#1d8afc"/>
<path d="M617 503l10 -0 0 8 -10 0z" fill="#25ffff"/>
<path d="M706 456l7 -7 4 4 -7 7z" fill="#1e7dfd"/>
<path d="M721 527l6 7 -6 6 -6 -7z" fill="#41f6de"/>
<path d="M807 487l12 2 -1 6 -12 -2z" fill="#1ab1f9"/>
<path d="M527 523l8 9 -5 5 -8 -9z" fill="#59fad8"/>
<path d="M272 546l13 1 -0 7 -13 -1z" fill="#ffef74"/>
<path d="M550 537l7 7 -5 4 -7 -7z" fill="#feff74"/>
<path d="M400 547l5 -7 6 5 -5 7z" fill="#fff672"/>
<path d="M767 529l7 -7 4 4 -7 7z" fill="#2ffffe"/>
<path d="M722 552l6 -6 4 4 -6 6z" fill="#f6dc6b"/>
<path d="M565 540l6 7 -4 4 -6 -7z" fill="#f9ff73"/>
<path d="M672 479l9 8 -4 4 -9 -8z" fill="#25d1ff"/>
<path d="M827 497l8 7 -6 6 -8 -7z" fill="#19b2f8"/>
<path d="M671 524l6 -6 5 6 -6 6z" fill="#66ffd9"/>
<path d="M88 547l9 1 -1 6 -9 -1z" fill="#f4e167"/>
<path d="M246 534l9 7 -4 4 -9 -7z" fill="#abf99e"/>
<path d="M756 535l8 -7 6 6 -8 7z" fill="#34f9ea"/>
<path d="M669 470l8 9 -5 5 -8 -9z" fill="#257bff"/>
<path d="M948 552l12 1 -1 8 -12 -1z" fill="#18ebf7"/>
<path d="M246 554l7 6 -5 5 -7 -6z" fill="#f8a079"/>
<path d="M651 535l6 -6 4 4 -6 6z" fill="#baf58e"/>
<path d="M926 502l8 9 -5 4 -8 -9z" fill="#22c3ff"/>
<path d="M482 524l6 -6 6 6 -6 6z" fill="#59ffe8"/>
<path d="M361 546l6 -6 6 5 -6 6z" fill="#dafb84"/>
<path d="M704 540l10 1 -0 8 -10 -1z" fill="#e8f773"/>
<path d="M216 551l7 6 -5 6 -7 -6z" fill="#fcba7b"/>
<path d="M518 491l7 -8 4 4 -7 8z" fill="#19d8f8"/>
<path d="M674 547l9 -9 4 4 -9 9z" fill="#f5f768"/>
<path d="M802 515l9 -8 4 4 -9 8z" fill="#20f9ff"/>
<path d="M434 563l7 -7 6 6 -7 7z" fill="#f6a679"/>
<path d="M917 503l10 -1 1 7 -10 1z" fill="#1cbafb"/>
<path d="M704 467l12 -0 0 7 -12 0z" fill="#2582ff"/>
<path d="M842 433l9 8 -5 5 -9 -8z" fill="#1fedfe"/>
<path d="M534 550l8 -7 5 5 -8 7z" fill="#f4d769"/>
<path d="M105 541l8 7 -4 5 -8 -7z" fill="#fbf76b"/>
<path d="M504 482l6 6 -5 5 -6 -6z" fill="#1be7fa"/>
<path d="M739 463l10 8 -4 6 -10 -8z" fill="#1e6ffd"/>
<path d="M268 530l11 1 -0 7 -11 -1z" fill="#67f7cd"/>
<path d="M89 558l7 -8 5 4 -7 8z" fill="#ffc57c"/>
<path d="M855 547l12 1 -1 8 -12 -1z" fill="#7ff8bf"/>
<path d="M840 440l13 -0 0 6 -13 0z" fill="#1ce7fb"/>
<path d="M863 552l13 1 -0 8 -13 -1z" fill="#71ffd8"/>
<path d="M605 551l11 -1 1 8 -11 1z" fill="#fabd79"/>
<path d="M106 553l10 -8 5 6 -10 8z" fill="#f6d86c"/>
<path d="M820 447l7 6 -5 6 -7 -6z" fill="#1c4afb"/>
<path d="M126 546l9 -10 4 4 -9 10z" fill="#d8f880"/>
<path d="M147 552l8 -7 5 6 -8 7z" fill="#ffe675"/>
<path d="M847 436l9 8 -4 4 -9 -8z" fill="#243aff"/>
<path d="M788 453l7 6 -4 5 -7 -6z" fill="#197cf8"/>
<path d="M416 555l8 8 -5 5 -8 -8z" fill="#f6b575"/>
<path d="M880 510l9 -1 1 6 -9 1z" fill="#20ffff"/>
<path d="M637 468l8 -9 6 5 -8 9z" fill="#2121ff"/>
<path d="M841 547l8 9 -6 5 -8 -9z" fill="#8dffc1"/>
<path d="M562 525l8 -8 4 5 -8 8z" fill="#5cf7d1"/>
<path d="M141 538l9 -8 5 6 -9 8z" fill="#5affe5"/>
<path d="M408 528l8 6 -5 5 -8 -6z" fill="#6afcd2"/>
<path d="M218 545l9 -9 5 5 -9 9z" fill="#d2f57f"/>
<path d="M643 537l9 10 -5 4 -9 -10z" fill="#f3f96d"/>
<path d="M507 559l7 -7 4 4 -7 7z" fill="#fbbb7a"/>
<path d="M639 491l8 9 -5 5 -8 -9z" fill="#1dccfc"/>
<path d="M841 465l12 0 -0 6 -12 -0z" fill="#2376ff"/>
<path d="M448 524l8 9 -6 6 -8 -9z" fill="#6dfed4"/>
<path d="M413 524l5 -6 5 5 -5 6z" fill="#58fddc"/>
<path d="M846 440l7 -8 5 4 -7 8z" fill="#1a7ff9"/>
<path d="M901 485l9 -8 5 5 -9 8z" fill="#1b7dfa"/>
<path d="M251 549l8 7 -5 6 -8 -7z" fill="#fec17c"/>
<path d="M841 503l10 1 -0 6 -10 -1z" fill="#24d4ff"/>
<path d="M639 521l9 1 -1 7 -9 -1z" fill="#5cfbd9"/>
<path d="M909 468l11 -1 1 7 -11 1z" fill="#1c7afb"/>
<path d="M626 492l11 -1 1 7 -11 1z" fill="#1dcbfc"/>
<path d="M851 454l8 -8 6 6 -8 8z" fill="#192ef8"/>
<path d="M501 540l9 1 -1 6 -9 -1z" fill="#daf981"/>
<path d="M308 547l8 -7 4 5 -8 7z" fill="#d7f881"/>
<path d="M622 482l9 -1 1 6 -9 1z" fill="#2571ff"/>
<path d="M718 495l11 -1 1 6 -11 1z" fill="#20fefe"/>
<path d="M788 442l6 5 -4 5 -6 -5z" fill="#1d3bfc"/>
<path d="M586 559l7 -8 5 5 -7 8z" fill="#f9aa7a"/>
<path d="M52 554l8 -8 4 4 -8 8z" fill="#fce071"/>
<path d="M799 503l8 -6 4 5 -8 6z" fill="#1bc8fa"/>
<path d="M365 524l7 8 -6 5 -7 -8z" fill="#58fedf"/>
<path d="M703 481l6 6 -5 5 -6 -6z" fill="#1ac7f9"/>
<path d="M154 538l7 6 -4 5 -7 -6z" fill="#edff81"/>
<path d="M886 557l6 -6 4 4 -6 6z" fill="#56fada"/>
<path d="M584 557l12 -1 1 7 -12 1z" fill="#fbb37c"/>
<path d="M901 451l7 7 -6 5 -7 -7z" fill="#2121ff"/>
<path d="M720 546l7 8 -4 4 -7 -8z" fill="#f5e268"/>
<path d="M501 555l9 -1 1 6 -9 1z" fill="#faad7b"/>
<path d="M576 491l8 8 -4 4 -8 -8z" fill="#1c91fb"/>
<path d="M621 555l9 1 -0 6 -9 -1z" fill="#ffbe80"/>
<path d="M486 494l8 -1 0 6 -8 1z" fill="#22f8ff"/>
<path d="M278 532l7 -6 4 5 -7 6z" fill="#51fadd"/>
<path d="M764 504l12 -2 1 6 -12 2z" fill="#2efef6"/>
<path d="M499 533l7 6 -5 5 -7 -6z" fill="#b2fa9b"/>
<path d="M909 531l12 2 -1 7 -12 -2z" fill="#25f6ef"/>
<path d="M783 517l9 -8 5 5 -9 8z" fill="#20f8ff"/>
<path d="M746 538l12 1 -1 8 -12 -1z" fill="#acffac"/>
<path d="M700 455l6 -6 5 5 -6 6z" fill="#2652ff"/>
<path d="M644 515l6 7 -6 5 -6 -7z" fill="#42ffee"/>
<path d="M696 541l8 7 -5 6 -8 -7z" fill="#ffff74"/>
<path d="M892 550l7 6 -5 6 -7 -6z" fill="#53fbdd"/>
<path d="M660 485l6 -6 6 6 -6 6z" fill="#20d0ff"/>
<path d="M818 466l10 -1 1 8 -10 1z" fill="#2575ff"/>
<path d="M882 540l9 9 -5 5 -9 -9z" fill="#59ffe4"/>
<path d="M881 511l9 7 -4 5 -9 -7z" fill="#30fffe"/>
<path d="M563 500l7 -8 4 4 -7 8z" fill="#1c36fb"/>
<path d="M652 515l8 9 -5 4 -8 -9z" fill="#47ffed"/>
<path d="M328 556l7 7 -4 4 -7 -7z" fill="#f5a278"/>
<path d="M556 504l8 1 -1 8 -8 -1z" fill="#1ff5fe"/>
<path d="M686 459l6 6 -6 5 -6 -6z" fill="#1786f6"/>
<path d="M503 491l7 -6 4 5 -7 6z" fill="#1a91f9"/>
<path d="M874 486l9 -8 5 6 -9 8z" fill="#1c88fb"/>
<path d="M899 463l9 8 -5 6 -9 -8z" fill="#2385ff"/>
<path d="M926 518l9 -8 4 5 -9 8z" fill="#27ffff"/>
<path d="M173 555l8 -9 5 4 -8 9z" fill="#f7d36f"/>
<path d="M842 533l12 1 -1 7 -12 -1z" fill="#20fefe"/>
<path d="M367 548l7 8 -6 5 -7 -8z" fill="#f9c774"/>
<path d="M814 489l13 -1 0 8 -13 1z" fill="#23d3ff"/>
<path d="M732 440l9 -9 6 5 -9 9z" fill="#192df8"/>
<path d="M796 421l8 9 -6 5 -8 -9z" fill="#182cf7"/>
<path d="M810 498l8 -7 5 6 -8 7z" fill="#1fd3fe"/>
<path d="M810 536l9 -7 4 5 -9 7z" fill="#1ff9fe"/>
<path d="M929 449l8 1 -1 8 -8 -1z" fill="#181bf7"/>
<path d="M290 530l8 6 -5 5 -8 -6z" fill="#65f9d0"/>
<path d="M140 559l9 1 -1 6 -9 -1z" fill="#feb57e"/>
<path d="M924 509l6 6 -5 5 -6 -6z" fill="#30fffb"/>
<path d="M227 553l7 7 -5 5 -7 -7z" fill="#ffb481"/>
<path d="M829 547l7 7 -4 4 -7 -7z" fill="#bffd97"/>
<path d="M683 459l7 -6 4 6 -7 6z" fill="#1a1af9"/>
<path d="M474 550l8 -0 0 8 -8 0z" fill="#ffcd7d"/>
<path d="M944 472l12 -0 0 7 -12 0z" fill="#187ff7"/>
<path d="M588 502l12 2 -1 8 -12 -2z" fill="#19c9f8"/>
<path d="M783 530l11 1 -0 7 -11 -1z" fill="#1ef6f3"/>
<path d="M944 482l8 10 -6 5 -8 -10z" fill="#2383ff"/>
<path d="M343 544l10 0 -0 8 -10 -0z" fill="#fcf56d"/>
<path d="M577 524l10 0 -0 6 -10 -0z" fill="#55fcdd"/>
<path d="M886 452l7 7 -6 5 -7 -7z" fill="#1874f7"/>
<path d="M176 535l13 1 -0 6 -13 -1z" fill="#bdff9d"/>
<path d="M792 516l7 6 -6 6 -7 -6z" fill="#33fff6"/>
<path d="M542 561l8 -7 4 4 -8 7z" fill="#f8a77b"/>
<path d="M401 529l10 8 -5 6 -10 -8z" fill="#b2f797"/>
<path d="M475 543l9 -0 0 6 -9 0z" fill="#ecf770"/>
<path d="M534 496l8 -8 5 5 -8 8z" fill="#1e84fd"/>
<path d="M878 424l8 7 -4 5 -8 -7z" fill="#1f4bfe"/>
<path d="M124 540l8 8 -5 5 -8 -8z" fill="#e0f87a"/>
<path d="M789 490l7 7 -5 5 -7 -7z" fill="#20b8ff"/>
<path d="M260 529l9 8 -5 6 -9 -8z" fill="#6cf6c8"/>
<path d="M808 469l8 7 -5 6 -8 -7z" fill="#2089ff"/>
<path d="M283 519l10 8 -4 5 -10 -8z" fill="#1af9f9"/>
<path d="M684 476l8 -9 5 5 -8 9z" fill="#18b2f7"/>
<path d="M128 538l8 -6 5 6 -8 6z" fill="#73ffd2"/>
<path d="M795 495l11 -1 1 8 -11 1z" fill="#1ed0fd"/>
<path d="M477 523l6 7 -5 5 -6 -7z" fill="#75ffd1"/>
<path d="M696 494l6 -5 5 6 -6 5z" fill="#24bdff"/>
<path d="M908 514l10 1 -0 6 -10 -1z" fill="#24ffff"/>
<path d="M903 547l9 9 -4 4 -9 -9z" fill="#45fde6"/>
<path d="M789 501l8 7 -5 5 -8 -7z" fill="#1cf4fb"/>
<path d="M914 532l8 6 -4 5 -8 -6z" fill="#16f1f5"/>
<path d="M712 472l9 -1 0 8 -9 1z" fill="#1eb6fd"/>
<path d="M732 556l12 0 -0 8 -12 -0z" fill="#fdae7f"/>
<path d="M546 504l10 1 -1 8 -10 -1z" fill="#21fdff"/>
<path d="M708 493l7 7 -6 6 -7 -7z" fill="#29fef8"/>
<path d="M911 468l9 -9 4 4 -9 9z" fill="#2635ff"/>
<path d="M602 473l9 8 -5 6 -9 -8z" fill="#2121ff"/>
<path d="M883 427l7 7 -5 5 -7 -7z" fill="#264bff"/>
<path d="M583 530l6 -6 5 5 -6 6z" fill="#64f6cd"/>
<path d="M410 556l7 -7 5 6 -7 7z" fill="#ffc980"/>
<path d="M310 522l9 -1 0 6 -9 1z" fill="#24fbf6"/>
<path d="M816 520l8 0 -0 6 -8 -0z" fill="#32fff7"/>
<path d="M732 518l9 7 -5 6 -9 -7z" fill="#20f6ff"/>
<path d="M825 542l8 -7 5 6 -8 7z" fill="#46fbe4"/>
<path d="M396 565l7 -7 5 4 -7 7z" fill="#f5b274"/>
<path d="M342 533l6 -6 4 4 -6 6z" fill="#4dfce1"/>
<path d="M672 519l7 7 -4 4 -7 -7z" fill="#4af6d9"/>
<path d="M446 516l9 -8 5 5 -9 8z" fill="#2dfff8"/>
<path d="M884 498l8 6 -4 5 -8 -6z" fill="#26c9ff"/>
<path d="M775 531l11 1 -0 6 -11 -1z" fill="#26ffff"/>
<path d="M599 541l8 0 -0 8 -8 -0z" fill="#fff272"/>
<path d="M610 545l7 -5 3 4 -7 5z" fill="#f2ff7d"/>
<path d="M707 546l6 -6 5 5 -6 6z" fill="#e1fb7f"/>
<path d="M656 504l7 6 -5 6 -7 -6z" fill="#27fffd"/>
<path d="M313 531l11 -0 0 6 -11 0z" fill="#75ffd6"/>
<path d="M466 505l11 2 -1 7 -11 -2z" fill="#20f7ff"/>
<path d="M638 501l12 1 -1 6 -12 -1z" fill="#29fdf7"/>
<path d="M770 438l10 1 -0 6 -10 -1z" fill="#1d24fc"/>
<path d="M697 476l9 7 -5 7 -9 -7z" fill="#23d0ff"/>
<path d="M778 443l8 7 -4 4 -8 -7z" fill="#1717f6"/>
<path d="M941 505l7 7 -4 4 -7 -7z" fill="#1bf9f8"/>
<path d="M535 549l7 8 -6 5 -7 -8z" fill="#f4bd70"/>
<path d="M935 489l8 -8 4 4 -8 8z" fill="#1982f8"/>
<path d="M922 497l10 1 -1 6 -10 -1z" fill="#1ecdfd"/>
<path d="M675 540l10 -8 5 6 -10 8z" fill="#e8fb7a"/>
<path d="M189 558l9 -7 4 5 -9 7z" fill="#f8be76"/>
<path d="M899 482l8 9 -6 5 -8 -9z" fill="#2672ff"/>
<path d="M825 478l9 9 -5 5 -9 -9z" fill="#2079ff"/>
<path d="M269 541l10 -1 0 7 -10 1z" fill="#e7fe7f"/>
<path d="M913 542l6 6 -4 4 -6 -6z" fill="#46fff0"/>
<path d="M941 549l11 -0 0 8 -11 0z" fill="#23feff"/>
<path d="M795 559l7 -8 6 5 -7 8z" fill="#dffb81"/>
<path d="M631 538l10 8 -5 6 -10 -8z" fill="#ffff74"/>
<path d="M698 450l6 6 -5 5 -6 -6z" fill="#1b9bfa"/>
<path d="M486 505l12 0 -0 7 -12 -0z" fill="#28ffff"/>
<path d="M820 525l8 1 -1 6 -8 -1z" fill="#27faf3"/>
<path d="M615 504l10 0 -0 6 -10 -0z" fill="#18f2f7"/>
<path d="M680 506l8 -8 5 5 -8 8z" fill="#24ffff"/>
<path d="M946 445l9 1 -0 6 -9 -1z" fill="#1e92fd"/>
<path d="M634 511l9 -7 4 4 -9 7z" fill="#21f9ff"/>
<path d="M602 532l8 6 -4 5 -8 -6z" fill="#c5f688"/>
<path d="M637 533l11 -1 1 6 -11 1z" fill="#d4ff97"/>
<path d="M548 532l9 -8 5 5 -9 8z" fill="#75fccc"/>
<path d="M512 533l12 1 -0 7 -12 -1z" fill="#b9f690"/>
<path d="M551 553l7 5 -5 7 -7 -5z" fill="#f6b775"/>
<path d="M629 519l8 0 -0 6 -8 -0z" fill="#5dffe0"/>
<path d="M912 444l6 -7 6 6 -6 7z" fill="#21eeff"/>
<path d="M820 444l9 -7 4 5 -9 7z" fill="#1d3cfc"/>
<path d="M830 476l9 1 -1 7 -9 -1z" fill="#1c86fb"/>
<path d="M124 556l11 -2 1 7 -11 2z" fill="#f7ad77"/>
<path d="M744 477l6 -6 6 5 -6 6z" fill="#1788f6"/>
<path d="M59 555l6 6 -6 6 -6 -6z" fill="#f3a376"/>
<path d="M374 522l9 0 -0 6 -9 -0z" fill="#37fff8"/>
<path d="M592 528l8 -8 4 4 -8 8z" fill="#58ffe0"/>
<path d="M549 537l10 -8 4 5 -10 8z" fill="#acf99d"/>
<path d="M343 532l8 6 -5 6 -8 -6z" fill="#b2ffaa"/>
<path d="M596 559l8 -0 0 6 -8 0z" fill="#f6b276"/>
<path d="M690 488l8 -7 5 6 -8 7z" fill="#1bd2fa"/>
<path d="M859 524l8 -10 6 5 -8 10z" fill="#27f5ec"/>
<path d="M678 486l9 -8 6 6 -9 8z" fill="#18cdf7"/>
<path d="M882 547l8 -9 5 5 -8 9z" fill="#49ffea"/>
<path d="M136 552l5 6 -4 4 -5 -6z" fill="#ffca7d"/>
<path d="M931 550l9 1 -0 8 -9 -1z" fill="#18f3f7"/>
<path d="M814 450l7 -8 5 4 -7 8z" fill="#1b92fa"/>
<path d="M878 495l6 6 -4 4 -6 -6z" fill="#1db3fc"/>
<path d="M718 477l6 -6 6 5 -6 6z" fill="#19c6f8"/>
<path d="M388 550l9 9 -6 6 -9 -9z" fill="#fcb57d"/>
<path d="M200 544l13 0 -0 8 -13 -0z" fill="#f9f568"/>
<path d="M824 449l9 9 -5 5 -9 -9z" fill="#20f3ff"/>
<path d="M688 466l9 9 -5 5 -9 -9z" fill="#2489ff"/>
<path d="M719 454l8 -8 6 6 -8 8z" fill="#219dff"/>
<path d="M508 500l6 6 -5 5 -6 -6z" fill="#19f4f8"/>
<path d="M850 509l13 -2 1 7 -13 2z" fill="#24ffff"/>
<path d="M602 483l8 6 -5 6 -8 -6z" fill="#2138ff"/>
<path d="M382 525l8 6 -5 6 -8 -6z" fill="#54f5d4"/>
<path d="M567 519l10 -0 0 7 -10 0z" fill="#56fddf"/>
<path d="M595 511l8 8 -6 6 -8 -8z" fill="#25fcff"/>
<path d="M738 455l10 -8 4 5 -10 8z" fill="#2222ff"/>
<path d="M659 559l11 0 -0 8 -11 -0z" fill="#f9ab7b"/>
<path d="M582 488l9 -1 1 7 -9 1z" fill="#2148ff"/>
<path d="M663 519l8 -8 4 4 -8 8z" fill="#26fffb"/>
<path d="M944 463l8 8 -6 6 -8 -8z" fill="#257eff"/>
<path d="M842 517l11 1 -1 7 -11 -1z" fill="#1ff9fe"/>
<path d="M699 494l12 0 -0 6 -12 -0z" fill="#1af4f9"/>
<path d="M788 549l8 6 -5 6 -8 -6z" fill="#fce171"/>
<path d="M471 547l9 -8 5 5 -9 8z" fill="#f8e969"/>
<path d="M643 559l13 1 -0 6 -13 -1z" fill="#fda67f"/>
<path d="M858 458l9 -1 1 6 -9 1z" fill="#1634f5"/>
<path d="M437 515l9 9 -5 5 -9 -9z" fill="#53f9da"/>
<path d="M862 464l8 7 -4 5 -8 -7z" fill="#236dff"/>
<path d="M841 481l8 7 -6 6 -8 -7z" fill="#2289ff"/>
<path d="M873 503l6 6 -6 5 -6 -6z" fill="#20fdff"/>
<path d="M674 546l6 7 -4 4 -6 -7z" fill="#f9cc73"/>
<path d="M896 522l11 -1 1 7 -11 1z" fill="#1ffdfe"/>
<path d="M792 533l8 9 -6 5 -8 -9z" fill="#4cffe8"/>
<path d="M894 442l9 -9 5 5 -9 9z" fill="#2121ff"/>
<path d="M831 431l6 6 -5 5 -6 -6z" fill="#1730f6"/>
<path d="M411 527l9 0 -0 6 -9 -0z" fill="#6afbd0"/>
<path d="M508 502l8 10 -6 5 -8 -10z" fill="#2ffbf0"/>
<path d="M786 460l7 -7 5 5 -7 7z" fill="#257bff"/>
<path d="M755 525l8 -7 6 6 -8 7z" fill="#1efbfd"/>
<path d="M807 503l12 0 -0 8 -12 -0z" fill="#1ef8fd"/>
<path d="M522 540l10 -1 1 8 -10 1z" fill="#e2fd81"/>
<path d="M270 524l10 -1 1 6 -10 1z" fill="#2af9f1"/>
<path d="M331 562l6 -6 5 5 -6 6z" fill="#f7aa79"/>
<path d="M684 560l8 -6 4 6 -8 6z" fill="#f7b476"/>
<path d="M196 553l10 1 -1 7 -10 -1z" fill="#faba79"/>
<path d="M697 458l9 8 -4 5 -9 -8z" fill="#2183ff"/>
<path d="M947 505l6 6 -5 5 -6 -6z" fill="#1dfbfc"/>
<path d="M716 498l7 8 -4 4 -7 -8z" fill="#24ffff"/>
<path d="M915 460l8 -7 4 4 -8 7z" fill="#1717f6"/>
<path d="M882 527l9 8 -4 5 -9 -8z" fill="#1dfafc"/>
<path d="M268 533l8 7 -4 5 -8 -7z" fill="#9cfdb0"/>
<path d="M917 438l10 -0 0 7 -10 0z" fill="#1ee0fd"/>
<path d="M775 429l9 7 -5 6 -9 -7z" fill="#1616f5"/>
<path d="M948 483l6 -6 5 5 -6 6z" fill="#1c7efb"/>
<path d="M897 535l7 7 -5 5 -7 -7z" fill="#46fde6"/>
<path d="M869 495l12 0 -0 8 -12 -0z" fill="#1fcbfe"/>
<path d="M924 448l6 6 -5 5 -6 -6z" fill="#2242ff"/>
<path d="M671 536l8 10 -6 5 -8 -10z" fill="#ebff83"/>
<path d="M867 479l9 7 -5 7 -9 -7z" fill="#1c65fb"/>
<path d="M427 528l7 6 -5 6 -7 -6z" fill="#8fffc6"/>
<path d="M200 555l11 -1 1 6 -11 1z" fill="#f9ad7b"/>
<path d="M858 529l7 -7 4 4 -7 7z" fill="#2bf8ee"/>
<path d="M840 459l7 -7 5 5 -7 7z" fill="#2248ff"/>
<path d="M721 511l11 1 -1 8 -11 -1z" fill="#37fff8"/>
<path d="M569 553l12 0 -0 8 -12 -0z" fill="#ffc37e"/>
<path d="M890 454l9 -1 1 8 -9 1z" fill="#1786f6"/>
<path d="M577 554l9 7 -4 5 -9 -7z" fill="#fab07b"/>
<path d="M443 540l12 1 -1 8 -12 -1z" fill="#f3f86b"/>
<path d="M731 440l8 -1 1 7 -8 1z" fill="#182ff7"/>
<path d="M918 546l8 -6 4 5 -8 6z" fill="#1af6f9"/>
<path d="M949 453l11 0 -0 7 -11 -0z" fill="#1b1ffa"/>
<path d="M639 552l7 8 -4 4 -7 -8z" fill="#fcb77c"/>
<path d="M889 440l13 1 -1 7 -13 -1z" fill="#17eaf6"/>
<path d="M939 545l10 1 -0 7 -10 -1z" fill="#20f7ff"/>
<path d="M751 516l6 6 -5 4 -6 -6z" fill="#2afffd"/>
<path d="M309 525l9 -0 0 8 -9 0z" fill="#5bffe3"/>
<path d="M816 485l9 -7 5 6 -9 7z" fill="#1b81fa"/>
<path d="M581 515l7 8 -5 4 -7 -8z" fill="#4cfce2"/>
<path d="M276 531l10 -1 0 6 -10 1z" fill="#5cfad7"/>
<path d="M526 562l7 -7 4 4 -7 7z" fill="#f4a177"/>
<path d="M505 503l11 -1 1 7 -11 1z" fill="#1df2fc"/>
<path d="M366 558l8 -9 5 4 -8 9z" fill="#fcc878"/>
<path d="M135 546l6 6 -5 4 -6 -6z" fill="#f9e06d"/>
<path d="M654 471l9 1 -1 7 -9 -1z" fill="#1d83fc"/>
<path d="M262 535l7 -8 5 4 -7 8z" fill="#5ffbd6"/>
<path d="M919 496l7 -6 4 5 -7 6z" fill="#1cc3fb"/>
<path d="M909 435l12 -1 0 6 -12 1z" fill="#1cedfb"/>
<path d="M552 489l8 -0 0 6 -8 0z" fill="#24f6ff"/>
<path d="M863 450l11 -1 0 8 -11 1z" fill="#183ef7"/>
<path d="M588 498l12 -1 0 7 -12 1z" fill="#16c1f5"/>
<path d="M857 527l7 5 -5 6 -7 -5z" fill="#25ffff"/>
<path d="M712 536l10 -1 1 8 -10 1z" fill="#c3ff98"/>
<path d="M899 474l6 7 -4 4 -6 -7z" fill="#1a66f9"/>
<path d="M317 528l12 -1 1 8 -12 1z" fill="#34fff8"/>
<path d="M419 556l7 -5 4 6 -7 5z" fill="#ffc87c"/>
<path d="M900 512l6 -7 5 5 -6 7z" fill="#1efcfd"/>
<path d="M668 554l6 -6 4 4 -6 6z" fill="#f6bd73"/>
<path d="M803 462l8 -7 5 5 -8 7z" fill="#227dff"/>
<path d="M926 467l12 0 -0 6 -12 -0z" fill="#2478ff"/>
<path d="M666 492l7 7 -5 5 -7 -7z" fill="#22c6ff"/>
<path d="M623 538l10 -8 5 6 -10 8z" fill="#d8f982"/>
<path d="M167 556l6 -6 6 6 -6 6z" fill="#fac277"/>
<path d="M691 460l9 7 -5 6 -9 -7z" fill="#177ef6"/>
<path d="M734 508l10 -1 1 8 -10 1z" fill="#17f3f6"/>
<path d="M898 515l10 -1 1 6 -10 1z" fill="#26ffff"/>
<path d="M533 505l12 -0 0 8 -12 0z" fill="#1af0f9"/>
<path d="M558 523l12 1 -1 7 -12 -1z" fill="#53f9d9"/>
<path d="M478 549l9 -8 5 5 -9 8z" fill="#ffff6e"/>
<path d="M945 524l11 -0 0 8 -11 0z" fill="#1ff6fe"/>
<path d="M437 538l6 6 -6 6 -6 -6z" fill="#e5ff8b"/>
<path d="M632 525l10 -1 1 7 -10 1z" fill="#58f8d5"/>
<path d="M725 466l11 -1 1 8 -11 1z" fill="#1685f5"/>
<path d="M947 554l10 8 -5 6 -10 -8z" fill="#1af9f9"/>
<path d="M225 546l9 -0 0 8 -9 0z" fill="#f5de69"/>
<path d="M877 426l6 7 -5 4 -6 -7z" fill="#1d1dfc"/>
<path d="M617 511l6 7 -6 5 -6 -7z" fill="#24f7f0"/>
<path d="M628 543l7 6 -5 6 -7 -6z" fill="#fbf66b"/>
<path d="M114 536l12 -0 0 6 -12 0z" fill="#a2ffba"/>
<path d="M838 503l9 -7 4 5 -9 7z" fill="#17c9f6"/>
<path d="M916 530l6 -6 6 6 -6 6z" fill="#22fdff"/>
<path d="M118 564l7 -8 5 5 -7 8z" fill="#fab779"/>
<path d="M158 554l9 -1 1 8 -9 1z" fill="#fcad7e"/>
<path d="M852 540l13 -0 0 7 -13 0z" fill="#58ffe3"/>
<path d="M235 549l7 6 -5 5 -7 -6z" fill="#ffc77d"/>
<path d="M276 528l9 -8 4 5 -9 8z" fill="#21fcff"/>
<path d="M552 498l10 8 -5 6 -10 -8z" fill="#1bd0fa"/>
<path d="M742 551l6 6 -4 4 -6 -6z" fill="#f4b074"/>
<path d="M605 537l10 -1 0 7 -10 1z" fill="#e6fc7c"/>
<path d="M381 514l9 8 -6 6 -9 -8z" fill="#21f9ff"/>
<path d="M928 506l7 -6 4 5 -7 6z" fill="#22caff"/>
<path d="M916 541l7 -6 5 6 -7 6z" fill="#22ffff"/>
<path d="M779 479l11 -1 1 7 -11 1z" fill="#1e6cfd"/>
<path d="M550 545l6 7 -5 5 -6 -7z" fill="#ffd977"/>
<path d="M696 447l9 8 -4 5 -9 -8z" fill="#22f2ff"/>
<path d="M647 517l12 1 -1 8 -12 -1z" fill="#39fff6"/>
<path d="M242 550l10 -0 0 7 -10 0z" fill="#f7c273"/>
<path d="M559 546l7 8 -5 5 -7 -8z" fill="#ffd27e"/>
<path d="M849 519l10 8 -5 6 -10 -8z" fill="#21f8ff"/>
<path d="M774 470l7 -6 5 7 -7 6z" fill="#207dff"/>
<path d="M831 442l8 -1 1 8 -8 1z" fill="#1717f6"/>
<path d="M314 539l11 -1 0 6 -11 1z" fill="#daf981"/>
<path d="M852 558l10 -1 1 7 -10 1z" fill="#83ffd3"/>
<path d="M596 520l12 -1 1 8 -12 1z" fill="#43fde9"/>
<path d="M777 490l8 8 -4 4 -8 -8z" fill="#18cef7"/>
<path d="M595 479l12 -2 1 8 -12 2z" fill="#169bf5"/>
<path d="M591 490l7 7 -6 5 -7 -7z" fill="#1b3cfa"/>
<path d="M501 556l9 8 -4 4 -9 -8z" fill="#fcad7f"/>
<path d="M392 529l8 8 -5 5 -8 -8z" fill="#b6ffa7"/>
<path d="M512 558l9 -8 5 5 -9 8z" fill="#fab27a"/>
<path d="M822 525l10 8 -5 6 -10 -8z" fill="#28faf2"/>
<path d="M49 552l10 1 -0 6 -10 -1z" fill="#feb57e"/>
<path d="M553 519l9 -0 0 8 -9 0z" fill="#45fde7"/>
<path d="M795 471l8 0 -0 7 -8 -0z" fill="#1d8bfc"/>
<path d="M513 514l7 7 -4 4 -7 -7z" fill="#2bfdf5"/>
<path d="M416 526l8 -9 5 5 -8 9z" fill="#5bf7d2"/>
<path d="M848 475l7 -6 4 5 -7 6z" fill="#1b83fa"/>
<path d="M743 496l9 -7 5 6 -9 7z" fill="#17b2f6"/>
<path d="M774 530l6 -6 4 4 -6 6z" fill="#17eef6"/>
<path d="M614 488l11 0 -0 8 -11 -0z" fill="#21c6ff"/>
<path d="M257 544l8 -7 4 4 -8 7z" fill="#c6ff9a"/>
<path d="M743 538l8 -9 6 5 -8 9z" fill="#62ffdb"/>
<path d="M804 454l13 -1 1 7 -13 1z" fill="#2122ff"/>
<path d="M646 477l12 -0 0 7 -12 0z" fill="#218eff"/>
<path d="M439 513l7 6 -5 6 -7 -6z" fill="#1dfbfc"/>
<path d="M946 479l7 7 -5 4 -7 -7z" fill="#1b7bfa"/>
<path d="M881 560l9 -0 0 6 -9 0z" fill="#47fbe3"/>
<path d="M673 461l12 -2 1 6 -12 2z" fill="#2222ff"/>
<path d="M717 551l6 6 -5 5 -6 -6z" fill="#ffbc80"/>
<path d="M97 561l7 -8 6 5 -7 8z" fill="#ffb082"/>
<path d="M926 555l8 8 -6 5 -8 -8z" fill="#25ffff"/>
<path d="M389 534l8 -7 3 4 -8 7z" fill="#6df9cd"/>
<path d="M802 557l6 6 -5 4 -6 -6z" fill="#dff97e"/>
<path d="M483 527l6 6 -5 6 -6 -6z" fill="#97fbb1"/>
<path d="M734 531l6 6 -4 4 -6 -6z" fill="#53ffe5"/>
<path d="M515 541l7 6 -5 6 -7 -6z" fill="#fff175"/>
<path d="M220 556l8 8 -5 5 -8 -8z" fill="#fdbc7c"/>
<path d="M320 547l9 9 -4 4 -9 -9z" fill="#ffc67e"/>
<path d="M155 544l11 1 -1 7 -11 -1z" fill="#f6ff78"/>
<path d="M584 551l8 -8 5 5 -8 8z" fill="#f9e36c"/>
<path d="M793 542l10 0 -0 6 -10 -0z" fill="#9fffbc"/>
<path d="M531 520l7 8 -4 4 -7 -8z" fill="#3ff5de"/>
<path d="M240 526l6 6 -6 6 -6 -6z" fill="#69ffe0"/>
<path d="M696 508l6 5 -5 6 -6 -5z" fill="#22fbf8"/>
<path d="M614 523l6 6 -5 5 -6 -6z" fill="#54fcde"/>
<path d="M351 543l6 -7 5 4 -6 7z" fill="#c9f686"/>
<path d="M762 502l8 7 -4 6 -8 -7z" fill="#2efffd"/>
<path d="M877 515l7 7 -4 4 -7 -7z" fill="#19edf8"/>
<path d="M542 517l8 -7 4 5 -8 7z" fill="#1af3f9"/>
<path d="M891 433l8 -8 5 5 -8 8z" fill="#20a7ff"/>
<path d="M251 533l10 0 -0 6 -10 -0z" fill="#38fff9"/>
<path d="M754 521l9 -8 6 6 -9 8z" fill="#2fffff"/>
<path d="M657 532l9 -0 0 8 -9 0z" fill="#abfca3"/>
<path d="M481 542l9 -8 6 6 -9 8z" fill="#effc76"/>
<path d="M859 517l7 -6 5 5 -7 6z" fill="#1ef7f4"/>
<path d="M464 525l7 6 -5 5 -7 -6z" fill="#56f8d6"/>
<path d="M859 536l12 1 -0 6 -12 -1z" fill="#2df6e9"/>
<path d="M297 543l8 8 -6 5 -8 -8z" fill="#fdfc6c"/>
<path d="M928 444l9 -9 4 4 -9 9z" fill="#2647ff"/>
<path d="M678 511l11 -1 0 6 -11 1z" fill="#32fdf2"/>
<path d="M856 539l12 -0 0 7 -12 0z" fill="#63f7ce"/>
<path d="M824 514l9 0 -0 8 -9 -0z" fill="#22fdff"/>
<path d="M91 544l6 -7 5 4 -6 7z" fill="#e7ff88"/>
<path d="M810 457l13 -1 0 8 -13 1z" fill="#173df6"/>
<path d="M446 549l7 6 -5 6 -7 -6z" fill="#f7af77"/>
<path d="M532 528l6 6 -4 4 -6 -6z" fill="#79ffd2"/>
<path d="M799 523l13 1 -0 8 -13 -1z" fill="#1ef9f6"/>
<path d="M807 529l12 1 -1 7 -12 -1z" fill="#1df3fc"/>
<path d="M808 453l8 -9 5 4 -8 9z" fill="#1e30fd"/>
<path d="M452 558l13 1 -1 8 -13 -1z" fill="#ffb282"/>
<path d="M680 448l10 -0 0 8 -10 0z" fill="#2424ff"/>
<path d="M633 528l7 6 -4 5 -7 -6z" fill="#9afbae"/>
<path d="M686 552l6 6 -5 5 -6 -6z" fill="#f6ab77"/>
<path d="M538 512l13 1 -1 7 -13 -1z" fill="#25ffff"/>
<path d="M829 529l8 6 -4 5 -8 -6z" fill="#18f4f7"/>
<path d="M923 527l12 -1 1 8 -12 1z" fill="#24fefb"/>
<path d="M855 563l8 -8 4 5 -8 8z" fill="#8dfcbc"/>
<path d="M335 546l7 7 -5 5 -7 -7z" fill="#f5cd6e"/>
<path d="M659 526l6 -6 4 4 -6 6z" fill="#48f6db"/>
<path d="M940 469l8 7 -4 4 -8 -7z" fill="#1b6dfa"/>
<path d="M114 532l9 7 -4 5 -9 -7z" fill="#86ffcc"/>
<path d="M512 493l7 7 -5 5 -7 -7z" fill="#17b7f6"/>
<path d="M752 487l10 8 -5 6 -10 -8z" fill="#1bb1fa"/>
<path d="M781 559l8 -8 5 6 -8 8z" fill="#f8e36b"/>
<path d="M933 534l8 7 -5 6 -8 -7z" fill="#20fbf9"/>
<path d="M662 564l7 -7 5 5 -7 7z" fill="#fcba7b"/>
<path d="M646 512l10 1 -1 6 -10 -1z" fill="#21ffff"/>
<path d="M48 552l8 9 -5 5 -8 -9z" fill="#f5b574"/>
<path d="M675 474l8 -7 5 5 -8 7z" fill="#1a6ef9"/>
<path d="M564 544l8 -7 5 5 -8 7z" fill="#dfff8d"/>
<path d="M731 538l12 1 -1 8 -12 -1z" fill="#b0ffa7"/>
<path d="M813 547l11 -0 0 7 -11 0z" fill="#e5ff84"/>
<path d="M98 547l9 0 -0 8 -9 -0z" fill="#ffff74"/>
<path d="M758 448l7 -7 5 5 -7 7z" fill="#1717f6"/>
<path d="M798 456l7 8 -5 5 -7 -8z" fill="#1771f6"/>
<path d="M423 520l7 8 -4 4 -7 -8z" fill="#2cf5e9"/>
<path d="M722 532l7 5 -4 5 -7 -5z" fill="#8dffc4"/>
<path d="M825 439l12 -2 1 8 -12 2z" fill="#1738f6"/>
<path d="M667 504l10 1 -0 8 -10 -1z" fill="#25ffff"/>
<path d="M937 549l7 8 -4 4 -7 -8z" fill="#22ffff"/>
<path d="M799 520l8 7 -5 6 -8 -7z" fill="#21fbff"/>
<path d="M838 513l8 8 -5 6 -8 -8z" fill="#22f8f4"/>
<path d="M775 477l7 -7 4 4 -7 7z" fill="#1866f7"/>
<path d="M880 524l9 1 -1 6 -9 -1z" fill="#2af8ee"/>
<path d="M764 490l9 -9 6 6 -9 9z" fill="#16bef5"/>
<path d="M495 553l11 1 -0 8 -11 -1z" fill="#fcac7e"/>
<path d="M494 495l9 1 -1 8 -9 -1z" fill="#2ffffd"/>
<path d="M580 545l9 -9 5 5 -9 9z" fill="#e5f876"/>
<path d="M42 552l9 -8 5 6 -9 8z" fill="#ffe274"/>
<path d="M697 444l6 -7 5 5 -6 7z" fill="#2525ff"/>
<path d="M722 433l12 1 -1 8 -12 -1z" fill="#1a85f9"/>
<path d="M545 496l9 -7 5 6 -9 7z" fill="#189ff7"/>
<path d="M829 442l6 -6 5 5 -6 6z" fill="#2637ff"/>
<path d="M562 510l8 7 -6 6 -8 -7z" fill="#28fef9"/>
<path d="M560 557l8 -8 6 6 -8 8z" fill="#ffcb7d"/>
<path d="M522 487l9 8 -4 5 -9 -8z" fill="#25f5ff"/>
<path d="M560 506l10 1 -1 7 -10 -1z" fill="#1ef9fd"/>
<path d="M321 540l9 7 -5 6 -9 -7z" fill="#feff6f"/>
<path d="M571 487l9 9 -5 5 -9 -9z" fill="#1e4afd"/>
<path d="M825 495l8 9 -6 5 -8 -9z" fill="#18b9f7"/>
<path d="M941 459l8 -8 4 4 -8 8z" fill="#2121ff"/>
<path d="M889 498l9 -1 1 8 -9 1z" fill="#25bbff"/>
<path d="M889 431l7 7 -5 4 -7 -7z" fill="#1e47fd"/>
<path d="M666 491l9 7 -4 5 -9 -7z" fill="#18c5f7"/>
<path d="M879 449l10 -1 0 7 -10 1z" fill="#1e39fd"/>
<path d="M541 550l9 -0 0 7 -9 0z" fill="#fccb77"/>
<path d="M608 509l10 -1 1 8 -10 1z" fill="#18f6f7"/>
<path d="M618 513l8 8 -6 6 -8 -8z" fill="#29fbf4"/>
<path d="M720 505l9 9 -5 5 -9 -9z" fill="#1ffaf8"/>
<path d="M733 491l8 8 -5 5 -8 -8z" fill="#1ef4fd"/>
<path d="M422 541l7 8 -5 4 -7 -8z" fill="#f9ff74"/>
<path d="M913 556l11 -0 0 8 -11 0z" fill="#28f8ef"/>
<path d="M562 489l10 -1 1 7 -10 1z" fill="#1c40fb"/>
<path d="M903 494l6 6 -5 5 -6 -6z" fill="#1abbf9"/>
<path d="M740 531l13 -1 0 8 -13 1z" fill="#44f7de"/>
<path d="M468 556l8 7 -4 5 -8 -7z" fill="#fcb67c"/>
<path d="M799 459l10 8 -4 4 -10 -8z" fill="#1787f6"/>
<path d="M871 512l9 -1 1 8 -9 1z" fill="#26ffff"/>
<path d="M222 529l10 1 -1 6 -10 -1z" fill="#45fce5"/>
<path d="M673 502l6 -6 5 4 -6 6z" fill="#18eff7"/>
<path d="M887 554l8 8 -4 5 -8 -8z" fill="#5bfbd8"/>
<path d="M221 548l9 1 -1 5 -9 -1z" fill="#fde571"/>
<path d="M859 470l7 6 -5 6 -7 -6z" fill="#2390ff"/>
<path d="M373 525l8 8 -5 5 -8 -8z" fill="#50f9dc"/>
<path d="M766 538l9 -7 4 5 -9 7z" fill="#57ffe0"/>
<path d="M512 507l6 -6 4 4 -6 6z" fill="#1cf3fb"/>
<path d="M617 478l8 -9 4 4 -8 9z" fill="#1a48f9"/>
<path d="M931 523l7 6 -4 5 -7 -6z" fill="#22f8f3"/>
<path d="M528 501l11 -1 0 7 -11 1z" fill="#1919f8"/>
<path d="M834 449l6 7 -6 5 -6 -7z" fill="#2323ff"/>
<path d="M538 538l9 8 -4 5 -9 -8z" fill="#fffa6f"/>
<path d="M227 540l9 -7 5 6 -9 7z" fill="#affc9f"/>
<path d="M836 532l11 1 -1 7 -11 -1z" fill="#1ff7fe"/>
<path d="M633 521l7 -6 4 5 -7 6z" fill="#49ffea"/>
<path d="M806 556l7 -8 5 4 -7 8z" fill="#deff8c"/>
<path d="M809 477l8 -8 5 5 -8 8z" fill="#218aff"/>
<path d="M865 522l10 0 -0 8 -10 -0z" fill="#1cf2fb"/>
<path d="M881 543l9 -0 0 6 -9 0z" fill="#55f7d6"/>
<path d="M685 517l12 -1 1 7 -12 1z" fill="#21ffff"/>
<path d="M469 498l6 7 -5 4 -6 -7z" fill="#21fbff"/>
<path d="M628 553l8 -8 5 5 -8 8z" fill="#f9ce72"/>
<path d="M526 513l9 -7 5 6 -9 7z" fill="#1af6f9"/>
<path d="M647 509l7 -6 4 5 -7 6z" fill="#1af4f9"/>
<path d="M702 469l6 5 -5 5 -6 -5z" fill="#25bdff"/>
<path d="M825 485l8 -1 1 6 -8 1z" fill="#1cc3fb"/>
<path d="M903 538l10 8 -4 5 -10 -8z" fill="#37fff5"/>
<path d="M698 531l9 1 -1 7 -9 -1z" fill="#d2ff93"/>
<path d="M742 564l6 -6 4 4 -6 6z" fill="#febd7d"/>
<path d="M679 531l9 1 -1 7 -9 -1z" fill="#cdff9a"/>
<path d="M719 446l10 -1 1 6 -10 1z" fill="#20acff"/>
<path d="M705 530l11 -1 0 6 -11 1z" fill="#50fee3"/>
<path d="M628 475l9 -8 5 5 -9 8z" fill="#2121ff"/>
<path d="M856 487l5 -6 6 5 -5 6z" fill="#2171ff"/>
<path d="M512 479l6 7 -6 5 -6 -7z" fill="#1c1cfb"/>
<path d="M711 468l7 -8 5 4 -7 8z" fill="#228cff"/>
<path d="M749 520l8 7 -5 5 -8 -7z" fill="#29fcf6"/>
<path d="M794 436l6 -7 5 5 -6 7z" fill="#2345ff"/>
<path d="M623 510l11 -0 0 8 -11 0z" fill="#32fff8"/>
<path d="M615 475l12 -1 1 8 -12 1z" fill="#1721f6"/>
<path d="M563 539l9 -8 4 4 -9 8z" fill="#def87c"/>
<path d="M701 462l11 0 -0 7 -11 -0z" fill="#2186ff"/>
<path d="M922 546l12 1 -0 7 -12 -1z" fill="#32faed"/>
<path d="M890 433l7 6 -5 6 -7 -6z" fill="#1d3ffc"/>
<path d="M620 508l10 8 -4 4 -10 -8z" fill="#2ffffe"/>
<path d="M747 476l8 0 -0 8 -8 -0z" fill="#20c5ff"/>
<path d="M892 528l7 6 -4 5 -7 -6z" fill="#1cf4fb"/>
<path d="M898 506l6 -6 4 4 -6 6z" fill="#1cb9fb"/>
<path d="M104 535l9 9 -4 4 -9 -9z" fill="#e2fc81"/>
<path d="M763 487l12 1 -1 8 -12 -1z" fill="#18c6f7"/>
<path d="M835 454l6 6 -6 5 -6 -6z" fill="#2222ff"/>
<path d="M849 513l6 6 -5 5 -6 -6z" fill="#20f5ff"/>
<path d="M460 527l10 8 -4 5 -10 -8z" fill="#9affbd"/>
<path d="M576 510l11 1 -1 6 -11 -1z" fill="#21fffe"/>
<path d="M531 523l8 -7 5 5 -8 7z" fill="#49ffe9"/>
<path d="M525 552l8 8 -4 4 -8 -8z" fill="#f7a779"/>
<path d="M750 459l5 6 -5 4 -5 -6z" fill="#2335ff"/>
<path d="M608 493l7 9 -4 4 -7 -9z" fill="#25d0ff"/>
<path d="M443 555l12 1 -1 7 -12 -1z" fill="#f4b273"/>
<path d="M905 503l6 -6 5 5 -6 6z" fill="#1bb9fa"/>
<path d="M590 509l6 6 -4 4 -6 -6z" fill="#1ffdfe"/>
<path d="M290 533l11 1 -0 7 -11 -1z" fill="#79ffd4"/>
<path d="M898 532l10 1 -0 6 -10 -1z" fill="#1ff5f0"/>
<path d="M743 459l7 5 -4 5 -7 -5z" fill="#247eff"/>
<path d="M803 483l6 -5 4 4 -6 5z" fill="#2184ff"/>
<path d="M859 511l7 -6 5 5 -7 6z" fill="#1beffa"/>
<path d="M122 549l8 -6 4 5 -8 6z" fill="#feed71"/>
<path d="M760 496l13 2 -1 8 -13 -2z" fill="#25d7ff"/>
<path d="M560 490l9 -0 0 6 -9 0z" fill="#1ee3fd"/>
<path d="M575 542l8 0 -0 8 -8 -0z" fill="#e9f771"/>
<path d="M535 535l6 6 -5 5 -6 -6z" fill="#d1fd8c"/>
<path d="M891 554l11 1 -0 7 -11 -1z" fill="#3afff1"/>
<path d="M554 522l7 6 -5 6 -7 -6z" fill="#74ffd4"/>
<path d="M865 546l11 1 -1 8 -11 -1z" fill="#87ffcf"/>
<path d="M587 553l7 -8 5 5 -7 8z" fill="#f6bf72"/>
<path d="M85 555l9 -8 4 4 -9 8z" fill="#ffcf7a"/>
<path d="M646 494l6 7 -5 5 -6 -7z" fill="#1fc9fe"/>
<path d="M576 529l8 7 -4 4 -8 -7z" fill="#b2ffaa"/>
<path d="M766 540l11 0 -0 8 -11 -0z" fill="#c3fd96"/>
<path d="M705 541l7 7 -4 4 -7 -7z" fill="#f9f06a"/>
<path d="M907 543l7 6 -5 6 -7 -6z" fill="#18f5f4"/>
<path d="M645 542l6 7 -6 5 -6 -7z" fill="#ffff72"/>
<path d="M917 490l8 8 -5 5 -8 -8z" fill="#1ab4f9"/>
<path d="M599 506l9 9 -4 5 -9 -9z" fill="#30fef5"/>
<path d="M939 446l9 8 -6 6 -9 -8z" fill="#254fff"/>
<path d="M608 487l10 -1 1 7 -10 1z" fill="#23acff"/>
<path d="M890 518l7 6 -4 4 -7 -6z" fill="#2bf9ef"/>
<path d="M928 514l7 6 -4 4 -7 -6z" fill="#21faff"/>
<path d="M531 510l7 -7 5 5 -7 7z" fill="#24faf5"/>
<path d="M183 544l8 -9 6 6 -8 9z" fill="#eaff84"/>
<path d="M869 508l8 -9 5 4 -8 9z" fill="#18caf7"/>
<path d="M752 525l8 7 -4 5 -8 -7z" fill="#20fefd"/>
<path d="M453 527l8 7 -4 5 -8 -7z" fill="#8ff7b0"/>
<path d="M426 519l10 1 -0 7 -10 -1z" fill="#33fff4"/>
<path d="M509 541l9 9 -6 5 -9 -9z" fill="#f7ee67"/>
<path d="M851 446l8 -7 5 6 -8 7z" fill="#1616f5"/>
<path d="M741 513l8 -9 5 5 -8 9z" fill="#1af8f9"/>
<path d="M618 515l9 1 -1 6 -9 -1z" fill="#24ffff"/>
<path d="M709 444l8 1 -1 6 -8 -1z" fill="#1723f6"/>
<path d="M634 469l9 8 -4 5 -9 -8z" fill="#1b33fa"/>
<path d="M862 501l6 7 -6 5 -6 -7z" fill="#1cd1fb"/>
<path d="M402 540l9 -9 4 5 -9 9z" fill="#daff93"/>
<path d="M823 466l11 -1 1 7 -11 1z" fill="#1e70fd"/>
<path d="M936 529l6 6 -4 4 -6 -6z" fill="#1af3f9"/>
<path d="M822 448l6 6 -5 5 -6 -6z" fill="#1d33fc"/>
<path d="M307 560l6 -6 5 4 -6 6z" fill="#f6b075"/>
<path d="M288 544l9 -9 5 5 -9 9z" fill="#befa93"/>
<path d="M501 512l6 7 -5 5 -6 -7z" fill="#1bf2fa"/>
<path d="M832 530l8 -10 5 5 -8 10z" fill="#22faff"/>
<path d="M757 483l9 9 -5 5 -9 -9z" fill="#19bbf8"/>
<path d="M882 506l7 -6 4 4 -7 6z" fill="#23c5ff"/>
<path d="M360 553l10 8 -4 5 -10 -8z" fill="#fbb37c"/>
<path d="M865 490l9 -1 1 8 -9 1z" fill="#20c1ff"/>
<path d="M913 459l10 -1 0 7 -10 1z" fill="#1919f8"/>
<path d="M516 541l9 -1 0 6 -9 1z" fill="#eaff84"/>
<path d="M718 436l10 1 -1 6 -10 -1z" fill="#20ecff"/>
<path d="M87 545l8 -8 4 4 -8 8z" fill="#e6ff87"/>
<path d="M897 558l8 -8 4 4 -8 8z" fill="#22fbf7"/>
<path d="M707 450l6 -7 6 5 -6 7z" fill="#1f1ffe"/>
<path d="M824 509l7 6 -4 5 -7 -6z" fill="#24ffff"/>
<path d="M726 494l10 1 -1 8 -10 -1z" fill="#17ecf6"/>
<path d="M546 533l13 -1 1 7 -13 1z" fill="#beff9d"/>
<path d="M932 500l8 -8 5 5 -8 8z" fill="#22c3ff"/>
<path d="M110 550l8 10 -5 4 -8 -10z" fill="#ffb581"/>
<path d="M732 493l6 -6 6 6 -6 6z" fill="#20c8ff"/>
<path d="M612 541l7 9 -6 5 -7 -9z" fill="#fafa69"/>
<path d="M755 446l8 8 -6 6 -8 -8z" fill="#1e3efd"/>
<path d="M565 531l13 -1 1 7 -13 1z" fill="#abffac"/>
<path d="M430 529l12 1 -1 8 -12 -1z" fill="#8dfab8"/>
<path d="M849 440l6 -6 5 5 -6 6z" fill="#1940f8"/>
<path d="M535 561l9 -9 5 5 -9 9z" fill="#f79f79"/>
<path d="M652 482l13 1 -1 8 -13 -1z" fill="#19c4f8"/>
<path d="M729 473l12 -0 0 6 -12 0z" fill="#226eff"/>
<path d="M394 554l6 -6 4 4 -6 6z" fill="#ffd57a"/>
<path d="M584 483l6 7 -5 5 -6 -7z" fill="#1b39fa"/>
<path d="M887 485l8 7 -5 5 -8 -7z" fill="#1ed3fd"/>
<path d="M742 452l9 -9 4 4 -9 9z" fill="#1c1cfb"/>
<path d="M793 461l9 8 -4 5 -9 -8z" fill="#228cff"/>
<path d="M782 526l7 -7 5 4 -7 7z" fill="#28fbf5"/>
<path d="M382 546l9 7 -4 6 -9 -7z" fill="#ffd87b"/>
<path d="M685 540l9 0 -0 6 -9 -0z" fill="#e8f976"/>
<path d="M315 535l11 -1 0 8 -11 1z" fill="#beffa2"/>
<path d="M861 537l9 -8 5 6 -9 8z" fill="#19f7f8"/>
<path d="M69 555l10 1 -0 6 -10 -1z" fill="#ffae85"/>
<path d="M517 550l12 1 -1 7 -12 -1z" fill="#f7b177"/>
<path d="M926 480l8 9 -4 4 -8 -9z" fill="#2272ff"/>
<path d="M693 515l7 8 -5 4 -7 -8z" fill="#3bf9e6"/>
<path d="M911 465l13 -2 1 6 -13 2z" fill="#2582ff"/>
<path d="M759 545l7 -6 5 5 -7 6z" fill="#c4ff9c"/>
<path d="M530 533l8 7 -5 5 -8 -7z" fill="#ddf679"/>
<path d="M537 542l8 -7 4 4 -8 7z" fill="#ddfc84"/>
<path d="M741 499l6 6 -5 5 -6 -6z" fill="#24ffff"/>
<path d="M684 488l8 1 -0 6 -8 -1z" fill="#19b8f8"/>
<path d="M320 556l13 -0 0 6 -13 0z" fill="#fab27a"/>
<path d="M837 527l12 -0 0 7 -12 0z" fill="#26f9f1"/>
<path d="M657 554l12 1 -1 7 -12 -1z" fill="#f9ad7a"/>
<path d="M803 442l7 -7 4 4 -7 7z" fill="#181af7"/>
<path d="M905 516l8 6 -4 5 -8 -6z" fill="#1dfbfa"/>
<path d="M851 535l9 8 -5 5 -9 -8z" fill="#5cfbd7"/>
<path d="M436 550l12 1 -0 8 -12 -1z" fill="#f8c574"/>
<path d="M396 524l10 -1 1 8 -10 1z" fill="#67fcd3"/>
<path d="M944 493l7 -8 4 4 -7 8z" fill="#1a6af9"/>
<path d="M647 552l5 -6 5 5 -5 6z" fill="#fcc179"/>
<path d="M836 472l7 7 -4 5 -7 -7z" fill="#2278ff"/>
<path d="M875 504l6 6 -5 6 -6 -6z" fill="#19f3f8"/>
<path d="M653 497l9 0 -0 7 -9 -0z" fill="#21fcff"/>
<path d="M528 514l9 8 -5 5 -9 -8z" fill="#1df8f6"/>
<path d="M858 491l9 -8 4 5 -9 8z" fill="#2073ff"/>
<path d="M919 477l10 -0 0 8 -10 0z" fill="#1686f5"/>
<path d="M860 471l9 1 -1 8 -9 -1z" fill="#2387ff"/>
<path d="M914 445l7 -7 5 5 -7 7z" fill="#244cff"/>
<path d="M943 535l6 6 -5 5 -6 -6z" fill="#21f7ff"/>
<path d="M645 494l11 1 -1 7 -11 -1z" fill="#1eb8fd"/>
<path d="M356 530l7 6 -5 6 -7 -6z" fill="#7bfac6"/>
<path d="M778 496l8 -6 5 6 -8 6z" fill="#16aef5"/>
<path d="M478 523l11 -1 1 5 -11 1z" fill="#60fad4"/>
<path d="M722 477l12 1 -1 7 -12 -1z" fill="#22caff"/>
<path d="M663 492l7 -7 5 5 -7 7z" fill="#17c0f6"/>
<path d="M765 445l9 8 -4 4 -9 -8z" fill="#2531ff"/>
<path d="M781 530l7 -6 5 6 -7 6z" fill="#29f9f0"/>
<path d="M340 527l7 6 -5 6 -7 -6z" fill="#6ffcd0"/>
<path d="M688 535l8 -9 6 5 -8 9z" fill="#8efcbc"/>
<path d="M79 555l7 -6 5 6 -7 6z" fill="#f9bd77"/>
<path d="M913 480l9 9 -5 5 -9 -9z" fill="#1f6ffe"/>
<path d="M898 476l8 -8 4 5 -8 8z" fill="#1963f8"/>
<path d="M491 561l6 -6 5 5 -6 6z" fill="#feb87e"/>
<path d="M801 438l9 8 -4 4 -9 -8z" fill="#2626ff"/>
<path d="M779 551l7 6 -5 6 -7 -6z" fill="#f4d46a"/>
<path d="M494 534l6 5 -4 5 -6 -5z" fill="#d6ff8e"/>
<path d="M756 455l12 1 -1 6 -12 -1z" fill="#1717f6"/>
<path d="M766 507l8 7 -6 6 -8 -7z" fill="#17f4f6"/>
<path d="M325 543l9 -1 1 8 -9 1z" fill="#f5f666"/>
<path d="M892 518l6 -5 4 5 -6 5z" fill="#24fffd"/>
<path d="M656 482l8 9 -5 4 -8 -9z" fill="#1cb0fb"/>
<path d="M691 547l8 7 -4 4 -8 -7z" fill="#f6c571"/>
<path d="M897 518l6 6 -4 4 -6 -6z" fill="#23fffc"/>
<path d="M456 512l8 10 -4 4 -8 -10z" fill="#22f5ef"/>
<path d="M871 533l10 -8 4 5 -10 8z" fill="#20feff"/>
<path d="M807 541l9 -7 5 6 -9 7z" fill="#4fffea"/>
<path d="M799 449l8 8 -6 6 -8 -8z" fill="#1d79fc"/>
<path d="M846 503l8 1 -1 6 -8 -1z" fill="#1dd2fc"/>
<path d="M668 539l10 -8 5 5 -10 8z" fill="#affb9d"/>
<path d="M239 541l6 -7 5 5 -6 7z" fill="#bfffa1"/>
<path d="M195 541l10 1 -0 6 -10 -1z" fill="#cff784"/>
<path d="M300 561l8 -10 6 5 -8 10z" fill="#fca67e"/>
<path d="M484 503l9 1 -1 8 -9 -1z" fill="#21f6ff"/>
<path d="M676 562l6 -7 6 6 -6 7z" fill="#fdb47d"/>
<path d="M679 476l8 1 -0 6 -8 -1z" fill="#22ccff"/>
<path d="M562 544l9 1 -0 6 -9 -1z" fill="#fef66f"/>
<path d="M913 505l6 -5 4 5 -6 5z" fill="#21c8ff"/>
<path d="M129 563l8 -7 5 6 -8 7z" fill="#f7b476"/>
<path d="M909 435l8 9 -6 6 -8 -9z" fill="#1a29f9"/>
<path d="M860 500l7 -8 5 4 -7 8z" fill="#23caff"/>
<path d="M346 550l10 0 -0 7 -10 -0z" fill="#f4c26f"/>
<path d="M877 464l10 -1 0 6 -10 1z" fill="#1d76fc"/>
<path d="M860 450l7 -8 4 4 -7 8z" fill="#1630f5"/>
<path d="M907 538l7 7 -4 5 -7 -7z" fill="#3ffeed"/>
<path d="M625 511l9 -8 5 5 -9 8z" fill="#20fcff"/>
<path d="M758 507l9 -0 0 8 -9 0z" fill="#25faf4"/>
<path d="M380 524l12 -2 1 7 -12 2z" fill="#52f8d9"/>
<path d="M785 456l7 6 -5 6 -7 -6z" fill="#227aff"/>
<path d="M787 547l11 1 -0 7 -11 -1z" fill="#fbff7b"/>
<path d="M185 532l6 7 -6 5 -6 -7z" fill="#34fff8"/>
<path d="M906 453l8 8 -6 6 -8 -8z" fill="#2222ff"/>
<path d="M721 556l9 1 -1 6 -9 -1z" fill="#feb97e"/>
<path d="M442 543l8 9 -5 4 -8 -9z" fill="#fddf72"/>
<path d="M886 515l6 7 -4 4 -6 -7z" fill="#19f3f8"/>
<path d="M671 512l6 -5 5 6 -6 5z" fill="#28fdf7"/>
<path d="M425 551l9 -8 4 5 -9 8z" fill="#fff075"/>
<path d="M789 479l9 -9 4 4 -9 9z" fill="#2276ff"/>
<path d="M812 438l13 0 -0 6 -13 -0z" fill="#1a3ef9"/>
<path d="M815 515l11 -1 0 7 -11 1z" fill="#30fef4"/>
<path d="M821 477l7 -6 5 6 -7 6z" fill="#258cff"/>
<path d="M842 468l10 8 -6 6 -10 -8z" fill="#2189ff"/>
<path d="M820 549l9 8 -4 4 -9 -8z" fill="#b3ffa5"/>
<path d="M840 455l11 -1 0 8 -11 1z" fill="#2121ff"/>
<path d="M550 520l6 -6 5 4 -6 6z" fill="#24fefb"/>
<path d="M570 533l10 0 -0 8 -10 -0z" fill="#d5ff8e"/>
<path d="M749 475l9 1 -1 8 -9 -1z" fill="#1bb8fa"/>
<path d="M651 558l6 -6 5 5 -6 6z" fill="#febb7d"/>
<path d="M915 479l12 -1 0 6 -12 1z" fill="#248dff"/>
<path d="M626 556l8 0 -0 8 -8 -0z" fill="#f9b578"/>
<path d="M572 552l8 -9 6 6 -8 9z" fill="#f8cb72"/>
<path d="M469 539l12 -1 1 6 -12 1z" fill="#d8fe8a"/>
<path d="M658 477l13 -2 1 6 -13 2z" fill="#216aff"/>
<path d="M651 504l12 0 -0 8 -12 -0z" fill="#21fcf9"/>
<path d="M620 529l10 -0 0 6 -10 0z" fill="#4df6d8"/>
<path d="M916 476l9 -8 5 5 -9 8z" fill="#2593ff"/>
<path d="M524 504l9 1 -1 7 -9 -1z" fill="#22f6f0"/>
<path d="M669 560l6 -6 4 4 -6 6z" fill="#fab47a"/>
<path d="M576 505l6 -6 5 6 -6 6z" fill="#18b0f7"/>
<path d="M479 501l7 6 -4 5 -7 -6z" fill="#2170ff"/>
<path d="M439 545l9 9 -6 6 -9 -9z" fill="#fabf78"/>
<path d="M933 477l7 7 -5 5 -7 -7z" fill="#1c80fb"/>
<path d="M570 501l6 -7 5 4 -6 7z" fill="#25d0ff"/>
<path d="M403 530l6 -7 5 4 -6 7z" fill="#5bffe4"/>
<path d="M791 519l9 -7 4 5 -9 7z" fill="#23ffff"/>
<path d="M677 491l8 0 -0 7 -8 -0z" fill="#22d6ff"/>
<path d="M881 453l8 0 -0 6 -8 -0z" fill="#1c8cfb"/>
<path d="M752 497l9 -8 6 6 -9 8z" fill="#21cbff"/>
<path d="M397 540l8 7 -4 5 -8 -7z" fill="#f2ff7c"/>
<path d="M597 502l11 1 -1 7 -11 -1z" fill="#18b0f7"/>
<path d="M466 513l9 -8 4 5 -9 8z" fill="#30fef4"/>
<path d="M341 526l9 1 -1 8 -9 -1z" fill="#62f7ce"/>
<path d="M496 508l12 0 -0 7 -12 -0z" fill="#21f9f5"/>
<path d="M768 512l11 0 -0 8 -11 -0z" fill="#25fbf6"/>
<path d="M359 549l8 -7 5 5 -8 7z" fill="#f6e169"/>
<path d="M936 516l8 0 -0 6 -8 -0z" fill="#1aeef9"/>
<path d="M216 542l7 7 -4 4 -7 -7z" fill="#f4ff81"/>
<path d="M851 430l7 7 -5 5 -7 -7z" fill="#1d25fc"/>
<path d="M638 512l7 6 -5 6 -7 -6z" fill="#1dfbfc"/>
<path d="M832 451l12 0 -0 8 -12 -0z" fill="#1f31fe"/>
<path d="M514 492l11 -2 1 7 -11 2z" fill="#1ba1fa"/>
<path d="M400 546l8 -1 1 8 -8 1z" fill="#f8f567"/>
<path d="M737 473l13 -1 1 6 -13 1z" fill="#1e8cfd"/>
<path d="M277 548l12 1 -0 7 -12 -1z" fill="#fdd775"/>
<path d="M769 544l12 -2 1 8 -12 2z" fill="#c5ff9d"/>
<path d="M807 469l8 -0 0 6 -8 0z" fill="#1f6bfe"/>
<path d="M679 500l8 8 -4 4 -8 -8z" fill="#16f0f5"/>
<path d="M326 532l8 1 -1 7 -8 -1z" fill="#26fdf9"/>
<path d="M874 477l8 -7 5 5 -8 7z" fill="#1982f8"/>
<path d="M907 461l8 -6 4 5 -8 6z" fill="#2225ff"/>
<path d="M439 530l8 9 -6 5 -8 -9z" fill="#b1fc9e"/>
<path d="M671 499l13 -0 0 7 -13 0z" fill="#16f5f5"/>
<path d="M365 539l8 -9 4 4 -8 9z" fill="#bcffa5"/>
<path d="M465 520l12 -1 1 7 -12 1z" fill="#4cfce1"/>
<path d="M852 489l7 8 -6 6 -7 -8z" fill="#19c2f8"/>
<path d="M814 430l8 6 -4 5 -8 -6z" fill="#1b9ffa"/>
<path d="M922 498l7 -7 6 5 -7 7z" fill="#1dccfc"/>
<path d="M458 541l13 -0 0 8 -13 0z" fill="#fcfb6b"/>
<path d="M170 545l8 8 -4 4 -8 -8z" fill="#f7e869"/>
<path d="M823 542l9 -1 0 6 -9 1z" fill="#71ffd6"/>
<path d="M909 508l13 0 -0 6 -13 -0z" fill="#22f9f5"/>
<path d="M774 505l7 7 -4 4 -7 -7z" fill="#23ffff"/>
<path d="M846 488l11 0 -0 6 -11 -0z" fill="#18cef7"/>
<path d="M787 499l8 8 -5 5 -8 -8z" fill="#1ef9f8"/>
<path d="M768 521l6 7 -5 5 -6 -7z" fill="#20f8f4"/>
<path d="M925 471l13 1 -0 8 -13 -1z" fill="#1a77f9"/>
<path d="M633 533l8 -0 0 7 -8 0z" fill="#aefea4"/>
<path d="M499 545l8 7 -6 6 -8 -7z" fill="#ffc87c"/>
<path d="M870 444l10 -1 1 8 -10 1z" fill="#2121ff"/>
<path d="M116 546l8 0 -0 7 -8 -0z" fill="#ffff72"/>
<path d="M690 469l8 8 -5 5 -8 -8z" fill="#25d4ff"/>
<path d="M441 523l9 8 -4 5 -9 -8z" fill="#73ffd8"/>
<path d="M914 549l9 -8 4 5 -9 8z" fill="#31fef4"/>
<path d="M124 558l8 -7 5 6 -8 7z" fill="#fcb47c"/>
<path d="M752 555l7 5 -5 7 -7 -5z" fill="#ffb480"/>
<path d="M509 516l6 7 -6 6 -6 -7z" fill="#3ffae6"/>
<path d="M813 516l8 6 -4 5 -8 -6z" fill="#2ffef5"/>
<path d="M284 553l7 6 -5 6 -7 -6z" fill="#f5aa76"/>
<path d="M732 549l8 8 -5 5 -8 -8z" fill="#feca7a"/>
<path d="M163 554l9 -8 4 4 -9 8z" fill="#f7d56e"/>
<path d="M777 458l7 -7 6 6 -7 7z" fill="#2649ff"/>
<path d="M646 523l8 9 -5 5 -8 -9z" fill="#69fcd3"/>
<path d="M889 456l12 1 -1 7 -12 -1z" fill="#2290ff"/>
<path d="M483 532l6 -7 6 5 -6 7z" fill="#7efecb"/>
<path d="M884 522l13 1 -1 8 -13 -1z" fill="#1ef6fd"/>
<path d="M803 443l8 -7 4 5 -8 7z" fill="#1919f8"/>
<rect x="714.2" y="485.1" width="3.7" height="2.1" fill="#2c3040" transform="rotate(89 716 486)"/>
<rect x="716.1" y="475.5" width="4.9" height="2.1" fill="#303038" transform="rotate(90 719 477)"/>
<rect x="928.5" y="473.8" width="5.5" height="2.9" fill="#383c44" transform="rotate(46 931 475)"/>
<rect x="634.4" y="473.4" width="4.6" height="2.9" fill="#303038" transform="rotate(-40 637 475)"/>
<rect x="627.7" y="499.3" width="5.7" height="2.3" fill="#2c3040" transform="rotate(93 631 500)"/>
<rect x="670.6" y="499.3" width="5.9" height="2.1" fill="#283050" transform="rotate(86 674 500)"/>
<rect x="133.8" y="556.1" width="5.3" height="2.9" fill="#2c3040" transform="rotate(43 136 558)"/>
<rect x="934.8" y="511.7" width="5.4" height="2.3" fill="#303038" transform="rotate(84 938 513)"/>
<rect x="659.6" y="546.3" width="4.7" height="2.6" fill="#2c3040" transform="rotate(-49 662 548)"/>
<rect x="879.8" y="461.0" width="3.6" height="2.1" fill="#303038" transform="rotate(45 882 462)"/>
<rect x="453.2" y="517.8" width="5.8" height="2.3" fill="#283050" transform="rotate(86 456 519)"/>
<rect x="547.1" y="542.6" width="4.5" height="2.4" fill="#383c44" transform="rotate(-2 549 544)"/>
<rect x="789.0" y="455.4" width="5.5" height="2.6" fill="#383c44" transform="rotate(-45 792 457)"/>
<rect x="228.9" y="553.9" width="4.4" height="3.1" fill="#303038" transform="rotate(48 231 555)"/>
<rect x="410.7" y="537.8" width="4.7" height="2.6" fill="#383c44" transform="rotate(-42 413 539)"/>
<rect x="930.0" y="505.0" width="4.0" height="3.2" fill="#283050" transform="rotate(40 932 507)"/>
<rect x="641.4" y="504.8" width="4.3" height="2.3" fill="#2c3040" transform="rotate(95 644 506)"/>
<rect x="630.7" y="501.0" width="4.0" height="3.1" fill="#383c44" transform="rotate(46 633 503)"/>
<rect x="917.4" y="537.1" width="4.1" height="2.9" fill="#383c44" transform="rotate(-47 919 538)"/>
<rect x="576.3" y="499.0" width="3.8" height="2.2" fill="#2c3040" transform="rotate(82 578 500)"/>
<rect x="946.6" y="515.3" width="5.9" height="2.1" fill="#2c3040" transform="rotate(41 950 516)"/>
<rect x="880.8" y="464.7" width="5.1" height="2.7" fill="#383c44" transform="rotate(46 883 466)"/>
<rect x="736.1" y="469.4" width="4.3" height="2.8" fill="#2c3040" transform="rotate(46 738 471)"/>
<rect x="523.5" y="492.6" width="5.0" height="2.4" fill="#2c3040" transform="rotate(-1 526 494)"/>
<rect x="859.7" y="478.6" width="5.3" height="2.5" fill="#283050" transform="rotate(1 862 480)"/>
<rect x="921.0" y="554.9" width="5.5" height="2.0" fill="#383c44" transform="rotate(3 924 556)"/>
<rect x="930.4" y="465.9" width="4.5" height="2.4" fill="#283050" transform="rotate(42 933 467)"/>
<rect x="798.8" y="494.5" width="3.6" height="2.1" fill="#283050" transform="rotate(-43 801 496)"/>
<rect x="803.4" y="469.3" width="5.7" height="2.4" fill="#383c44" transform="rotate(48 806 471)"/>
<rect x="896.2" y="497.6" width="4.8" height="2.8" fill="#2c3040" transform="rotate(94 899 499)"/>
<rect x="940.4" y="513.5" width="5.0" height="2.5" fill="#383c44" transform="rotate(98 943 515)"/>
<rect x="848.8" y="512.4" width="5.0" height="2.8" fill="#383c44" transform="rotate(2 851 514)"/>
<rect x="909.1" y="517.2" width="4.0" height="2.1" fill="#283050" transform="rotate(-52 911 518)"/>
<rect x="508.6" y="500.6" width="4.7" height="2.7" fill="#383c44" transform="rotate(92 511 502)"/>
<rect x="606.0" y="492.1" width="4.6" height="2.6" fill="#283050" transform="rotate(91 608 493)"/>
<rect x="699.4" y="472.9" width="4.1" height="3.1" fill="#283050" transform="rotate(82 701 474)"/>
<rect x="768.9" y="439.0" width="4.4" height="2.9" fill="#2c3040" transform="rotate(-46 771 440)"/>
<rect x="862.2" y="477.0" width="4.9" height="3.0" fill="#2c3040" transform="rotate(-42 865 479)"/>
<rect x="384.8" y="536.8" width="4.6" height="3.0" fill="#303038" transform="rotate(8 387 538)"/>
<rect x="726.6" y="438.8" width="5.0" height="3.2" fill="#283050" transform="rotate(-39 729 440)"/>
<rect x="464.3" y="543.6" width="5.6" height="2.1" fill="#283050" transform="rotate(86 467 545)"/>
<rect x="681.0" y="490.2" width="3.5" height="3.1" fill="#303038" transform="rotate(-42 683 492)"/>
<rect x="163.8" y="552.4" width="5.5" height="2.5" fill="#383c44" transform="rotate(-48 167 554)"/>
<rect x="938.0" y="496.6" width="3.8" height="3.1" fill="#2c3040" transform="rotate(48 940 498)"/>
<rect x="825.7" y="550.6" width="4.3" height="3.0" fill="#303038" transform="rotate(88 828 552)"/>
<rect x="858.6" y="461.4" width="3.9" height="2.2" fill="#383c44" transform="rotate(51 861 463)"/>
<rect x="706.0" y="443.2" width="3.9" height="2.6" fill="#283050" transform="rotate(-3 708 445)"/>
<rect x="759.8" y="491.3" width="3.9" height="2.4" fill="#283050" transform="rotate(-2 762 492)"/>
<rect x="385.1" y="522.7" width="5.1" height="2.3" fill="#2c3040" transform="rotate(85 388 524)"/>
<rect x="612.5" y="484.9" width="3.7" height="2.1" fill="#2c3040" transform="rotate(-3 614 486)"/>
<rect x="810.4" y="530.9" width="5.0" height="2.3" fill="#383c44" transform="rotate(-46 813 532)"/>
<rect x="726.7" y="541.3" width="4.9" height="2.1" fill="#283050" transform="rotate(85 729 542)"/>
<rect x="714.8" y="554.9" width="3.8" height="2.6" fill="#2c3040" transform="rotate(50 717 556)"/>
<rect x="709.1" y="486.1" width="4.2" height="2.5" fill="#303038" transform="rotate(-40 711 487)"/>
<rect x="90.8" y="556.1" width="5.6" height="2.6" fill="#383c44" transform="rotate(84 94 557)"/>
<rect x="40.9" y="554.6" width="5.2" height="2.9" fill="#303038" transform="rotate(-51 44 556)"/>
<rect x="814.8" y="499.2" width="5.3" height="2.8" fill="#283050" transform="rotate(-4 817 501)"/>
<rect x="379.9" y="538.0" width="5.0" height="3.1" fill="#283050" transform="rotate(87 382 540)"/>
<rect x="698.8" y="520.2" width="4.7" height="3.1" fill="#303038" transform="rotate(88 701 522)"/>
<rect x="610.0" y="490.3" width="5.0" height="2.1" fill="#383c44" transform="rotate(-49 612 491)"/>
<rect x="928.4" y="447.4" width="3.5" height="2.3" fill="#303038" transform="rotate(-6 930 449)"/>
<rect x="620.7" y="498.4" width="3.7" height="2.4" fill="#303038" transform="rotate(96 623 500)"/>
<rect x="897.4" y="549.7" width="5.0" height="2.3" fill="#383c44" transform="rotate(83 900 551)"/>
<rect x="815.8" y="491.3" width="4.4" height="3.2" fill="#283050" transform="rotate(48 818 493)"/>
<rect x="768.3" y="519.8" width="5.4" height="2.4" fill="#283050" transform="rotate(-44 771 521)"/>
<rect x="934.4" y="498.1" width="4.6" height="2.7" fill="#383c44" transform="rotate(85 937 499)"/>
<rect x="703.7" y="457.5" width="5.2" height="3.2" fill="#383c44" transform="rotate(41 706 459)"/>
<rect x="796.6" y="460.1" width="4.7" height="3.1" fill="#303038" transform="rotate(-0 799 462)"/>
<rect x="788.8" y="530.9" width="5.1" height="2.7" fill="#383c44" transform="rotate(-7 791 532)"/>
<rect x="515.5" y="513.0" width="5.3" height="2.9" fill="#383c44" transform="rotate(-7 518 514)"/>
<rect x="792.4" y="460.0" width="5.5" height="2.4" fill="#2c3040" transform="rotate(-41 795 461)"/>
<rect x="772.2" y="511.9" width="4.8" height="2.8" fill="#303038" transform="rotate(40 775 513)"/>
<rect x="718.1" y="481.4" width="4.9" height="2.6" fill="#303038" transform="rotate(86 721 483)"/>
<rect x="656.7" y="524.2" width="4.6" height="2.1" fill="#383c44" transform="rotate(83 659 525)"/>
<rect x="343.4" y="528.0" width="5.6" height="2.4" fill="#283050" transform="rotate(93 346 529)"/>
<rect x="545.3" y="547.3" width="4.1" height="3.1" fill="#383c44" transform="rotate(-3 547 549)"/>
<rect x="708.3" y="503.0" width="5.5" height="2.2" fill="#283050" transform="rotate(-38 711 504)"/>
<rect x="579.8" y="546.2" width="4.5" height="3.0" fill="#283050" transform="rotate(45 582 548)"/>
<rect x="667.9" y="486.8" width="5.1" height="2.2" fill="#303038" transform="rotate(92 670 488)"/>
<rect x="770.0" y="461.4" width="5.4" height="2.2" fill="#2c3040" transform="rotate(-42 773 462)"/>
<rect x="478.4" y="514.7" width="5.7" height="3.0" fill="#2c3040" transform="rotate(51 481 516)"/>
<rect x="890.0" y="498.8" width="4.7" height="2.9" fill="#383c44" transform="rotate(96 892 500)"/>
<rect x="810.2" y="465.5" width="5.8" height="2.5" fill="#383c44" transform="rotate(45 813 467)"/>
<rect x="167.5" y="554.6" width="4.1" height="2.1" fill="#383c44" transform="rotate(96 170 556)"/>
<rect x="768.2" y="455.4" width="5.7" height="2.1" fill="#2c3040" transform="rotate(50 771 456)"/>
<rect x="794.8" y="464.5" width="3.5" height="2.6" fill="#303038" transform="rotate(96 797 466)"/>
<rect x="843.5" y="460.7" width="4.6" height="2.8" fill="#2c3040" transform="rotate(8 846 462)"/>
<rect x="764.6" y="516.2" width="5.2" height="3.1" fill="#2c3040" transform="rotate(91 767 518)"/>
<rect x="894.5" y="537.2" width="3.6" height="3.1" fill="#283050" transform="rotate(83 896 539)"/>
<rect x="689.4" y="491.4" width="3.9" height="2.7" fill="#2c3040" transform="rotate(91 691 493)"/>
<rect x="706.3" y="460.6" width="3.9" height="2.9" fill="#303038" transform="rotate(-51 708 462)"/>
<rect x="943.3" y="455.7" width="5.6" height="3.0" fill="#303038" transform="rotate(87 946 457)"/>
<rect x="454.3" y="542.4" width="5.3" height="2.8" fill="#303038" transform="rotate(-39 457 544)"/>
<rect x="422.7" y="535.8" width="5.6" height="2.7" fill="#303038" transform="rotate(94 425 537)"/>
<rect x="435.0" y="516.8" width="3.8" height="3.1" fill="#383c44" transform="rotate(38 437 518)"/>
<rect x="850.6" y="451.0" width="4.2" height="2.8" fill="#283050" transform="rotate(95 853 452)"/>
<rect x="812.8" y="469.1" width="4.2" height="2.0" fill="#383c44" transform="rotate(94 815 470)"/>
<rect x="875.9" y="437.5" width="4.9" height="3.1" fill="#283050" transform="rotate(4 878 439)"/>
<rect x="884.2" y="472.9" width="5.8" height="2.6" fill="#383c44" transform="rotate(-37 887 474)"/>
<rect x="557.2" y="531.6" width="5.7" height="2.7" fill="#383c44" transform="rotate(90 560 533)"/>
<rect x="583.6" y="549.8" width="4.4" height="3.2" fill="#383c44" transform="rotate(46 586 551)"/>
<rect x="578.6" y="511.6" width="4.9" height="2.8" fill="#283050" transform="rotate(-2 581 513)"/>
<rect x="654.8" y="467.0" width="3.8" height="2.9" fill="#383c44" transform="rotate(6 657 468)"/>
<rect x="820.4" y="462.1" width="5.6" height="2.6" fill="#2c3040" transform="rotate(53 823 463)"/>
<rect x="110.4" y="538.8" width="4.4" height="3.0" fill="#383c44" transform="rotate(41 113 540)"/>
<rect x="783.9" y="442.9" width="4.6" height="3.1" fill="#283050" transform="rotate(3 786 444)"/>
<rect x="787.6" y="550.9" width="3.7" height="2.1" fill="#283050" transform="rotate(87 789 552)"/>
<rect x="828.0" y="490.9" width="5.1" height="2.5" fill="#283050" transform="rotate(37 831 492)"/>
<rect x="929.8" y="465.0" width="5.0" height="2.9" fill="#303038" transform="rotate(-42 932 466)"/>
<rect x="738.1" y="459.9" width="4.4" height="2.9" fill="#383c44" transform="rotate(-3 740 461)"/>
<rect x="686.7" y="463.6" width="5.7" height="2.6" fill="#303038" transform="rotate(96 690 465)"/>
<rect x="792.4" y="429.8" width="5.8" height="3.0" fill="#383c44" transform="rotate(-5 795 431)"/>
<rect x="569.3" y="548.8" width="3.7" height="2.7" fill="#283050" transform="rotate(44 571 550)"/>
<rect x="422.8" y="537.7" width="4.0" height="2.4" fill="#283050" transform="rotate(45 425 539)"/>
<rect x="867.6" y="472.2" width="4.2" height="2.4" fill="#2c3040" transform="rotate(44 870 473)"/>
<rect x="809.4" y="476.5" width="4.2" height="2.4" fill="#383c44" transform="rotate(46 811 478)"/>
<rect x="842.3" y="446.1" width="4.2" height="2.8" fill="#2c3040" transform="rotate(50 844 448)"/>
<rect x="761.1" y="454.6" width="4.8" height="2.1" fill="#383c44" transform="rotate(43 764 456)"/>
<rect x="790.8" y="509.2" width="5.5" height="3.0" fill="#383c44" transform="rotate(89 794 511)"/>
<rect x="798.0" y="540.9" width="5.2" height="3.0" fill="#383c44" transform="rotate(92 801 542)"/>
<rect x="687.1" y="545.3" width="4.9" height="2.0" fill="#283050" transform="rotate(-40 690 546)"/>
<rect x="939.0" y="478.8" width="4.4" height="2.8" fill="#303038" transform="rotate(94 941 480)"/>
<rect x="897.5" y="471.8" width="3.9" height="2.1" fill="#2c3040" transform="rotate(82 900 473)"/>
<rect x="874.2" y="486.2" width="4.0" height="2.3" fill="#2c3040" transform="rotate(49 876 487)"/>
<rect x="496.6" y="522.6" width="4.3" height="2.9" fill="#283050" transform="rotate(87 499 524)"/>
<rect x="720.4" y="441.5" width="5.4" height="2.1" fill="#2c3040" transform="rotate(53 723 442)"/>
<rect x="796.8" y="530.6" width="3.6" height="2.2" fill="#303038" transform="rotate(-42 799 532)"/>
<rect x="756.7" y="493.6" width="6.0" height="2.9" fill="#383c44" transform="rotate(-42 760 495)"/>
<rect x="728.5" y="442.8" width="3.7" height="3.2" fill="#303038" transform="rotate(-6 730 444)"/>
<rect x="876.3" y="502.6" width="4.6" height="2.7" fill="#383c44" transform="rotate(84 879 504)"/>
<rect x="879.5" y="431.0" width="5.4" height="2.3" fill="#303038" transform="rotate(-6 882 432)"/>
<rect x="263.1" y="545.3" width="5.0" height="2.9" fill="#2c3040" transform="rotate(-41 266 547)"/>
<rect x="894.1" y="482.8" width="5.7" height="2.3" fill="#2c3040" transform="rotate(93 897 484)"/>
<rect x="600.2" y="509.2" width="3.7" height="2.0" fill="#303038" transform="rotate(-49 602 510)"/>
<rect x="754.9" y="472.1" width="5.8" height="2.9" fill="#383c44" transform="rotate(51 758 474)"/>
<rect x="609.8" y="550.1" width="5.3" height="2.6" fill="#383c44" transform="rotate(-37 612 551)"/>
<rect x="555.5" y="492.2" width="4.5" height="2.5" fill="#2c3040" transform="rotate(-2 558 493)"/>
<rect x="255.8" y="547.4" width="5.8" height="2.6" fill="#303038" transform="rotate(83 259 549)"/>
<rect x="129.9" y="544.8" width="3.8" height="2.0" fill="#283050" transform="rotate(42 132 546)"/>
<rect x="881.5" y="502.1" width="5.8" height="2.2" fill="#283050" transform="rotate(83 884 503)"/>
<rect x="312.4" y="555.1" width="3.8" height="2.4" fill="#283050" transform="rotate(-51 314 556)"/>
<rect x="720.9" y="443.4" width="4.6" height="2.0" fill="#303038" transform="rotate(-39 723 444)"/>
<rect x="223.4" y="538.0" width="4.7" height="2.2" fill="#283050" transform="rotate(-5 226 539)"/>
<rect x="869.3" y="473.7" width="4.6" height="2.3" fill="#2c3040" transform="rotate(82 872 475)"/>
<rect x="774.2" y="463.7" width="4.1" height="3.0" fill="#303038" transform="rotate(2 776 465)"/>
<rect x="475.2" y="541.9" width="5.3" height="2.0" fill="#383c44" transform="rotate(4 478 543)"/>
<rect x="909.6" y="553.7" width="4.6" height="2.5" fill="#303038" transform="rotate(-40 912 555)"/>
<rect x="946.9" y="473.3" width="5.1" height="2.5" fill="#2c3040" transform="rotate(41 949 475)"/>
<rect x="707.3" y="448.5" width="4.0" height="2.5" fill="#283050" transform="rotate(42 709 450)"/>
<rect x="915.8" y="452.5" width="5.8" height="2.9" fill="#383c44" transform="rotate(-49 919 454)"/>
<rect x="713.0" y="460.6" width="3.8" height="2.6" fill="#2c3040" transform="rotate(6 715 462)"/>
<rect x="834.1" y="452.0" width="5.4" height="2.8" fill="#383c44" transform="rotate(39 837 453)"/>
<rect x="765.9" y="547.8" width="5.2" height="2.6" fill="#303038" transform="rotate(7 769 549)"/>
<rect x="843.5" y="471.4" width="4.9" height="2.5" fill="#383c44" transform="rotate(83 846 473)"/>
<rect x="787.6" y="465.1" width="4.6" height="3.0" fill="#283050" transform="rotate(4 790 467)"/>
<rect x="756.2" y="451.4" width="4.1" height="2.4" fill="#283050" transform="rotate(49 758 453)"/>
<rect x="809.4" y="439.5" width="5.1" height="2.0" fill="#283050" transform="rotate(90 812 441)"/>
<rect x="780.1" y="489.0" width="3.6" height="3.1" fill="#303038" transform="rotate(3 782 491)"/>
<rect x="733.7" y="468.9" width="4.2" height="2.3" fill="#383c44" transform="rotate(83 736 470)"/>
<rect x="755.0" y="508.9" width="4.3" height="2.4" fill="#303038" transform="rotate(-2 757 510)"/>
<rect x="689.5" y="477.3" width="5.9" height="2.6" fill="#283050" transform="rotate(47 693 479)"/>
<rect x="763.3" y="484.3" width="4.7" height="3.1" fill="#303038" transform="rotate(97 766 486)"/>
<rect x="210.8" y="553.1" width="5.8" height="3.1" fill="#383c44" transform="rotate(94 214 555)"/>
<rect x="845.9" y="485.6" width="3.6" height="2.5" fill="#2c3040" transform="rotate(48 848 487)"/>
<rect x="934.0" y="451.8" width="4.1" height="2.2" fill="#303038" transform="rotate(-45 936 453)"/>
<rect x="691.1" y="450.5" width="4.5" height="2.4" fill="#2c3040" transform="rotate(-47 693 452)"/>
<rect x="886.6" y="444.0" width="4.6" height="3.1" fill="#303038" transform="rotate(44 889 446)"/>
<rect x="795.8" y="484.8" width="5.2" height="2.3" fill="#283050" transform="rotate(97 798 486)"/>
<rect x="704.4" y="476.0" width="4.9" height="2.9" fill="#2c3040" transform="rotate(-6 707 477)"/>
<rect x="122.1" y="553.9" width="5.1" height="2.4" fill="#383c44" transform="rotate(2 125 555)"/>
<rect x="808.1" y="434.4" width="5.6" height="2.4" fill="#283050" transform="rotate(-45 811 436)"/>
<rect x="829.4" y="486.7" width="5.9" height="3.1" fill="#2c3040" transform="rotate(40 832 488)"/>
<rect x="810.0" y="440.8" width="3.9" height="2.2" fill="#283050" transform="rotate(51 812 442)"/>
<rect x="712.6" y="488.1" width="5.0" height="3.1" fill="#303038" transform="rotate(3 715 490)"/>
<rect x="471.5" y="549.2" width="5.5" height="2.8" fill="#2c3040" transform="rotate(93 474 551)"/>
<rect x="801.7" y="468.0" width="4.5" height="3.0" fill="#383c44" transform="rotate(-2 804 469)"/>
<rect x="944.0" y="463.8" width="4.4" height="2.9" fill="#303038" transform="rotate(-3 946 465)"/>
<rect x="795.3" y="464.2" width="3.9" height="2.6" fill="#283050" transform="rotate(-40 797 466)"/>
<rect x="819.7" y="481.7" width="5.5" height="3.1" fill="#2c3040" transform="rotate(-4 822 483)"/>
<rect x="853.1" y="459.3" width="3.9" height="3.0" fill="#303038" transform="rotate(4 855 461)"/>
<rect x="817.7" y="463.7" width="5.7" height="2.1" fill="#303038" transform="rotate(83 821 465)"/>
<rect x="475.5" y="525.1" width="5.5" height="2.6" fill="#2c3040" transform="rotate(45 478 526)"/>
<rect x="619.1" y="526.1" width="4.1" height="2.9" fill="#303038" transform="rotate(91 621 528)"/>
<rect x="641.5" y="488.0" width="3.9" height="2.9" fill="#303038" transform="rotate(5 643 489)"/>
<rect x="896.8" y="519.7" width="3.7" height="2.5" fill="#2c3040" transform="rotate(47 899 521)"/>
<rect x="851.7" y="493.4" width="4.1" height="2.8" fill="#303038" transform="rotate(90 854 495)"/>
<rect x="444.2" y="556.0" width="3.6" height="2.9" fill="#283050" transform="rotate(-42 446 557)"/>
<rect x="628.8" y="485.0" width="5.9" height="2.8" fill="#383c44" transform="rotate(50 632 486)"/>
<rect x="403.2" y="538.7" width="4.2" height="2.3" fill="#303038" transform="rotate(1 405 540)"/>
<rect x="590.4" y="543.2" width="4.2" height="2.4" fill="#303038" transform="rotate(-38 592 544)"/>
<rect x="852.9" y="526.4" width="5.0" height="2.9" fill="#303038" transform="rotate(-37 855 528)"/>
<rect x="650.9" y="483.3" width="4.3" height="2.8" fill="#303038" transform="rotate(38 653 485)"/>
<rect x="869.9" y="477.0" width="4.3" height="2.8" fill="#383c44" transform="rotate(86 872 478)"/>
<rect x="932.6" y="454.4" width="5.1" height="3.1" fill="#303038" transform="rotate(2 935 456)"/>
<rect x="803.7" y="535.4" width="4.9" height="2.3" fill="#283050" transform="rotate(6 806 537)"/>
<rect x="802.9" y="493.2" width="4.3" height="2.4" fill="#303038" transform="rotate(41 805 494)"/>
<rect x="788.0" y="496.8" width="5.2" height="3.1" fill="#283050" transform="rotate(-52 791 498)"/>
<rect x="344.9" y="540.3" width="5.7" height="2.4" fill="#383c44" transform="rotate(49 348 541)"/>
<rect x="637.7" y="513.1" width="4.6" height="2.7" fill="#303038" transform="rotate(-6 640 514)"/>
<rect x="936.4" y="475.4" width="6.0" height="2.1" fill="#2c3040" transform="rotate(51 939 476)"/>
<rect x="864.0" y="518.0" width="4.1" height="2.3" fill="#283050" transform="rotate(89 866 519)"/>
<rect x="791.4" y="432.3" width="3.6" height="3.2" fill="#303038" transform="rotate(-2 793 434)"/>
<rect x="830.8" y="474.8" width="4.1" height="2.1" fill="#2c3040" transform="rotate(-8 833 476)"/>
<rect x="783.5" y="443.8" width="5.2" height="2.7" fill="#2c3040" transform="rotate(85 786 445)"/>
<rect x="188.0" y="544.0" width="5.3" height="2.5" fill="#2c3040" transform="rotate(89 191 545)"/>
<rect x="712.7" y="475.7" width="4.8" height="2.1" fill="#383c44" transform="rotate(3 715 477)"/>
<rect x="935.4" y="450.5" width="4.5" height="2.4" fill="#303038" transform="rotate(5 938 452)"/>
<rect x="809.4" y="500.4" width="4.0" height="2.4" fill="#283050" transform="rotate(85 811 502)"/>
<rect x="312.6" y="548.0" width="5.2" height="3.0" fill="#383c44" transform="rotate(53 315 550)"/>
<rect x="892.4" y="476.4" width="3.8" height="2.8" fill="#283050" transform="rotate(-47 894 478)"/>
<rect x="630.0" y="481.5" width="4.7" height="2.9" fill="#283050" transform="rotate(88 632 483)"/>
<rect x="906.3" y="492.6" width="4.7" height="2.9" fill="#303038" transform="rotate(93 909 494)"/>
<rect x="681.7" y="467.8" width="5.9" height="2.9" fill="#2c3040" transform="rotate(-50 685 469)"/>
<rect x="904.5" y="529.9" width="3.7" height="2.8" fill="#383c44" transform="rotate(-51 906 531)"/>
<rect x="546.4" y="496.2" width="5.6" height="2.1" fill="#283050" transform="rotate(8 549 497)"/>
<rect x="791.8" y="507.7" width="5.7" height="2.6" fill="#303038" transform="rotate(51 795 509)"/>
<rect x="495.0" y="526.6" width="4.3" height="2.8" fill="#283050" transform="rotate(7 497 528)"/>
<rect x="598.5" y="517.2" width="4.6" height="2.3" fill="#2c3040" transform="rotate(-46 601 518)"/>
<rect x="945.7" y="532.3" width="4.3" height="2.5" fill="#2c3040" transform="rotate(-49 948 534)"/>
<rect x="848.8" y="439.7" width="4.4" height="2.2" fill="#2c3040" transform="rotate(94 851 441)"/>
<rect x="888.0" y="449.8" width="4.5" height="2.6" fill="#303038" transform="rotate(82 890 451)"/>
<rect x="944.6" y="449.3" width="5.0" height="2.6" fill="#2c3040" transform="rotate(4 947 451)"/>
<rect x="869.6" y="508.2" width="4.6" height="2.3" fill="#2c3040" transform="rotate(6 872 509)"/>
<rect x="725.6" y="485.1" width="5.0" height="2.2" fill="#383c44" transform="rotate(48 728 486)"/>
<rect x="901.9" y="446.4" width="4.6" height="2.6" fill="#303038" transform="rotate(-5 904 448)"/>
<rect x="582.7" y="507.2" width="5.1" height="2.8" fill="#303038" transform="rotate(-1 585 509)"/>
<rect x="611.5" y="495.0" width="5.0" height="2.3" fill="#283050" transform="rotate(44 614 496)"/>
<rect x="873.2" y="469.1" width="5.0" height="2.1" fill="#383c44" transform="rotate(42 876 470)"/>
<rect x="388.2" y="521.4" width="4.6" height="3.1" fill="#2c3040" transform="rotate(42 390 523)"/>
<rect x="523.8" y="549.6" width="4.1" height="2.5" fill="#283050" transform="rotate(-37 526 551)"/>
<rect x="921.7" y="447.9" width="5.2" height="2.9" fill="#283050" transform="rotate(-51 924 449)"/>
<rect x="763.3" y="539.7" width="4.9" height="3.1" fill="#303038" transform="rotate(95 766 541)"/>
<rect x="672.4" y="464.1" width="4.2" height="2.1" fill="#2c3040" transform="rotate(44 674 465)"/>
<rect x="291.8" y="542.0" width="5.9" height="3.0" fill="#2c3040" transform="rotate(38 295 544)"/>
<rect x="919.8" y="486.1" width="3.7" height="2.6" fill="#283050" transform="rotate(85 922 487)"/>
<rect x="387.0" y="531.2" width="3.6" height="2.5" fill="#303038" transform="rotate(86 389 532)"/>
<rect x="776.3" y="510.2" width="4.1" height="2.7" fill="#283050" transform="rotate(-46 778 512)"/>
<rect x="869.9" y="555.5" width="5.6" height="2.2" fill="#383c44" transform="rotate(-40 873 557)"/>
<rect x="780.2" y="498.8" width="5.6" height="2.9" fill="#283050" transform="rotate(-47 783 500)"/>
<rect x="841.3" y="463.4" width="6.0" height="2.6" fill="#2c3040" transform="rotate(-5 844 465)"/>
<rect x="63.8" y="546.7" width="4.9" height="2.7" fill="#303038" transform="rotate(-4 66 548)"/>
<rect x="859.9" y="525.1" width="4.3" height="2.4" fill="#283050" transform="rotate(49 862 526)"/>
<rect x="774.5" y="501.9" width="3.8" height="2.7" fill="#2c3040" transform="rotate(-50 776 503)"/>
<rect x="827.9" y="525.8" width="3.6" height="2.3" fill="#383c44" transform="rotate(-4 830 527)"/>
<rect x="517.8" y="501.3" width="4.6" height="2.8" fill="#383c44" transform="rotate(86 520 503)"/>
<rect x="931.0" y="490.8" width="5.5" height="3.0" fill="#283050" transform="rotate(1 934 492)"/>
<rect x="542.5" y="499.5" width="3.7" height="2.6" fill="#283050" transform="rotate(-5 544 501)"/>
<rect x="835.7" y="449.1" width="5.2" height="2.8" fill="#283050" transform="rotate(44 838 451)"/>
<rect x="923.4" y="546.8" width="3.9" height="3.2" fill="#383c44" transform="rotate(45 925 548)"/>
<rect x="742.1" y="483.9" width="5.5" height="2.3" fill="#383c44" transform="rotate(-52 745 485)"/>
<rect x="849.3" y="450.9" width="4.8" height="2.3" fill="#303038" transform="rotate(-4 852 452)"/>
<rect x="624.3" y="484.8" width="3.8" height="2.0" fill="#2c3040" transform="rotate(41 626 486)"/>
<rect x="707.5" y="460.7" width="4.9" height="2.7" fill="#283050" transform="rotate(-49 710 462)"/>
<rect x="491.9" y="528.1" width="5.8" height="2.7" fill="#283050" transform="rotate(98 495 529)"/>
<rect x="749.0" y="480.4" width="3.6" height="3.1" fill="#283050" transform="rotate(88 751 482)"/>
<rect x="808.3" y="458.6" width="5.2" height="2.9" fill="#2c3040" transform="rotate(92 811 460)"/>
<rect x="650.6" y="491.3" width="4.5" height="3.0" fill="#383c44" transform="rotate(-50 653 493)"/>
<rect x="743.9" y="501.4" width="4.9" height="2.9" fill="#2c3040" transform="rotate(86 746 503)"/>
<rect x="660.7" y="487.8" width="4.1" height="2.9" fill="#2c3040" transform="rotate(48 663 489)"/>
<rect x="573.0" y="535.6" width="4.8" height="2.3" fill="#303038" transform="rotate(47 575 537)"/>
<rect x="850.5" y="505.1" width="4.9" height="2.7" fill="#2c3040" transform="rotate(38 853 506)"/>
<rect x="613.1" y="484.2" width="5.5" height="3.1" fill="#2c3040" transform="rotate(51 616 486)"/>
<rect x="749.1" y="534.2" width="5.9" height="2.6" fill="#383c44" transform="rotate(-42 752 536)"/>
<rect x="608.5" y="547.5" width="4.0" height="3.2" fill="#2c3040" transform="rotate(-7 611 549)"/>
<rect x="757.6" y="489.5" width="5.4" height="2.3" fill="#2c3040" transform="rotate(2 760 491)"/>
<rect x="685.0" y="478.4" width="3.6" height="2.1" fill="#303038" transform="rotate(46 687 479)"/>
<rect x="558.2" y="517.9" width="3.8" height="2.0" fill="#383c44" transform="rotate(5 560 519)"/>
<rect x="559.7" y="536.8" width="4.4" height="2.4" fill="#283050" transform="rotate(89 562 538)"/>
<rect x="920.5" y="504.1" width="4.7" height="2.6" fill="#303038" transform="rotate(94 923 505)"/>
<rect x="723.2" y="450.1" width="4.7" height="3.0" fill="#283050" transform="rotate(-51 726 452)"/>
<rect x="731.4" y="530.6" width="4.7" height="2.9" fill="#303038" transform="rotate(-2 734 532)"/>
<rect x="774.2" y="442.0" width="4.5" height="2.7" fill="#303038" transform="rotate(-7 776 443)"/>
<rect x="893.4" y="454.7" width="4.9" height="2.8" fill="#383c44" transform="rotate(48 896 456)"/>
<rect x="870.2" y="555.7" width="5.0" height="2.9" fill="#2c3040" transform="rotate(-51 873 557)"/>
<rect x="588.1" y="532.8" width="5.8" height="2.7" fill="#283050" transform="rotate(93 591 534)"/>
<rect x="499.7" y="519.7" width="4.5" height="2.4" fill="#303038" transform="rotate(37 502 521)"/>
<rect x="844.9" y="487.7" width="4.5" height="3.2" fill="#303038" transform="rotate(-45 847 489)"/>
<rect x="672.4" y="542.7" width="5.0" height="2.7" fill="#303038" transform="rotate(-50 675 544)"/>
<rect x="647.0" y="511.6" width="3.7" height="2.9" fill="#303038" transform="rotate(39 649 513)"/>
<rect x="581.0" y="527.8" width="3.7" height="2.3" fill="#2c3040" transform="rotate(-48 583 529)"/>
<rect x="925.3" y="477.9" width="4.5" height="2.1" fill="#303038" transform="rotate(83 928 479)"/>
<rect x="674.4" y="545.3" width="5.9" height="2.3" fill="#383c44" transform="rotate(-46 677 546)"/>
<rect x="495.7" y="541.8" width="5.6" height="2.5" fill="#383c44" transform="rotate(38 498 543)"/>
<rect x="560.4" y="505.3" width="4.1" height="3.1" fill="#283050" transform="rotate(-2 562 507)"/>
<rect x="933.7" y="462.9" width="3.8" height="2.2" fill="#2c3040" transform="rotate(44 936 464)"/>
<rect x="742.5" y="457.1" width="3.7" height="2.4" fill="#303038" transform="rotate(48 744 458)"/>
<rect x="889.3" y="430.8" width="5.0" height="2.8" fill="#283050" transform="rotate(40 892 432)"/>
<rect x="874.6" y="459.3" width="4.5" height="2.2" fill="#2c3040" transform="rotate(-39 877 460)"/>
<rect x="736.6" y="477.3" width="5.7" height="2.3" fill="#303038" transform="rotate(83 739 479)"/>
<rect x="939.5" y="524.9" width="4.2" height="2.6" fill="#383c44" transform="rotate(4 942 526)"/>
<rect x="773.1" y="466.6" width="5.9" height="2.5" fill="#383c44" transform="rotate(93 776 468)"/>
<rect x="930.9" y="456.9" width="4.5" height="2.5" fill="#283050" transform="rotate(-45 933 458)"/>
<rect x="463.5" y="548.1" width="4.4" height="2.4" fill="#2c3040" transform="rotate(84 466 549)"/>
<rect x="750.4" y="485.6" width="4.2" height="2.5" fill="#383c44" transform="rotate(40 752 487)"/>
<rect x="844.6" y="442.1" width="4.2" height="2.3" fill="#383c44" transform="rotate(-6 847 443)"/>
<rect x="869.1" y="488.5" width="4.1" height="2.1" fill="#303038" transform="rotate(-51 871 490)"/>
<rect x="662.2" y="468.9" width="4.8" height="2.2" fill="#283050" transform="rotate(97 665 470)"/>
<rect x="646.4" y="480.3" width="4.8" height="2.8" fill="#2c3040" transform="rotate(-0 649 482)"/>
<rect x="459.7" y="524.5" width="4.0" height="2.9" fill="#303038" transform="rotate(-40 462 526)"/>
<rect x="894.2" y="454.6" width="5.2" height="3.2" fill="#303038" transform="rotate(-47 897 456)"/>
<rect x="642.5" y="486.5" width="3.6" height="2.5" fill="#283050" transform="rotate(-49 644 488)"/>
<rect x="902.8" y="495.9" width="4.6" height="2.5" fill="#383c44" transform="rotate(38 905 497)"/>
<rect x="483.4" y="516.2" width="4.7" height="2.2" fill="#383c44" transform="rotate(92 486 517)"/>
<rect x="915.3" y="443.4" width="4.2" height="2.0" fill="#283050" transform="rotate(83 917 444)"/>
<rect x="454.6" y="548.1" width="4.6" height="2.9" fill="#283050" transform="rotate(-7 457 550)"/>
<rect x="679.1" y="476.3" width="3.5" height="2.2" fill="#283050" transform="rotate(49 681 477)"/>
<rect x="913.6" y="454.2" width="4.5" height="2.7" fill="#303038" transform="rotate(44 916 456)"/>
<rect x="690.8" y="533.6" width="4.2" height="2.4" fill="#283050" transform="rotate(-40 693 535)"/>
<rect x="632.6" y="491.8" width="5.7" height="2.4" fill="#383c44" transform="rotate(45 635 493)"/>
<rect x="300.9" y="536.9" width="4.6" height="2.8" fill="#303038" transform="rotate(51 303 538)"/>
<rect x="656.5" y="484.1" width="5.3" height="2.6" fill="#303038" transform="rotate(82 659 485)"/>
<rect x="690.0" y="486.8" width="5.7" height="2.3" fill="#303038" transform="rotate(97 693 488)"/>
<rect x="723.6" y="461.3" width="5.1" height="2.7" fill="#303038" transform="rotate(89 726 463)"/>
<rect x="132.4" y="556.5" width="4.0" height="2.9" fill="#2c3040" transform="rotate(-7 134 558)"/>
<rect x="679.4" y="473.3" width="5.7" height="2.4" fill="#2c3040" transform="rotate(-39 682 475)"/>
<rect x="740.4" y="522.8" width="4.2" height="3.2" fill="#283050" transform="rotate(90 743 524)"/>
<rect x="783.8" y="530.8" width="3.7" height="3.0" fill="#383c44" transform="rotate(50 786 532)"/>
<rect x="816.9" y="487.1" width="4.0" height="2.4" fill="#2c3040" transform="rotate(47 819 488)"/>
<rect x="284.0" y="551.7" width="5.2" height="2.9" fill="#283050" transform="rotate(47 287 553)"/>
<rect x="549.0" y="552.4" width="5.1" height="2.7" fill="#383c44" transform="rotate(45 552 554)"/>
<rect x="704.5" y="468.6" width="5.6" height="3.0" fill="#303038" transform="rotate(-2 707 470)"/>
<rect x="758.6" y="449.6" width="5.5" height="2.7" fill="#383c44" transform="rotate(46 761 451)"/>
<rect x="751.2" y="519.9" width="5.1" height="2.1" fill="#383c44" transform="rotate(5 754 521)"/>
<rect x="793.5" y="554.4" width="5.2" height="2.8" fill="#383c44" transform="rotate(90 796 556)"/>
<rect x="354.8" y="533.7" width="4.4" height="3.0" fill="#283050" transform="rotate(41 357 535)"/>
<rect x="821.1" y="439.0" width="3.5" height="2.8" fill="#303038" transform="rotate(3 823 440)"/>
<rect x="645.1" y="485.8" width="4.0" height="2.9" fill="#383c44" transform="rotate(86 647 487)"/>
<rect x="924.9" y="453.0" width="6.0" height="3.1" fill="#303038" transform="rotate(5 928 454)"/>
<rect x="771.9" y="554.8" width="5.5" height="2.7" fill="#383c44" transform="rotate(-51 775 556)"/>
<rect x="739.4" y="551.5" width="5.2" height="2.4" fill="#2c3040" transform="rotate(83 742 553)"/>
<rect x="697.5" y="506.1" width="5.5" height="2.2" fill="#2c3040" transform="rotate(49 700 507)"/>
<rect x="894.9" y="502.3" width="6.0" height="2.2" fill="#2c3040" transform="rotate(-7 898 503)"/>
<rect x="702.5" y="450.0" width="4.2" height="2.2" fill="#2c3040" transform="rotate(-38 705 451)"/>
<rect x="845.3" y="500.9" width="3.7" height="2.9" fill="#283050" transform="rotate(4 847 502)"/>
<rect x="772.0" y="469.3" width="4.0" height="2.7" fill="#2c3040" transform="rotate(-52 774 471)"/>
<rect x="912.6" y="461.4" width="5.3" height="2.7" fill="#303038" transform="rotate(-4 915 463)"/>
<rect x="771.4" y="493.4" width="5.0" height="3.1" fill="#303038" transform="rotate(-4 774 495)"/>
<rect x="560.4" y="553.7" width="4.9" height="2.3" fill="#2c3040" transform="rotate(-4 563 555)"/>
<rect x="897.9" y="503.9" width="5.6" height="2.3" fill="#303038" transform="rotate(-41 901 505)"/>
<rect x="933.5" y="448.7" width="4.4" height="2.2" fill="#2c3040" transform="rotate(-3 936 450)"/>
<rect x="934.9" y="491.0" width="4.3" height="2.2" fill="#303038" transform="rotate(82 937 492)"/>
<rect x="765.3" y="464.1" width="5.6" height="2.2" fill="#303038" transform="rotate(46 768 465)"/>
<rect x="825.4" y="516.2" width="3.9" height="2.7" fill="#2c3040" transform="rotate(5 827 518)"/>
<rect x="584.6" y="512.9" width="5.7" height="2.7" fill="#383c44" transform="rotate(95 587 514)"/>
<rect x="806.5" y="481.1" width="4.9" height="3.0" fill="#303038" transform="rotate(90 809 483)"/>
<rect x="684.4" y="543.2" width="4.6" height="3.0" fill="#2c3040" transform="rotate(1 687 545)"/>
<rect x="931.5" y="482.6" width="4.6" height="2.3" fill="#303038" transform="rotate(2 934 484)"/>
<rect x="924.1" y="441.1" width="5.4" height="3.0" fill="#283050" transform="rotate(91 927 443)"/>
<rect x="617.8" y="502.7" width="4.3" height="3.2" fill="#283050" transform="rotate(95 620 504)"/>
<rect x="753.3" y="464.3" width="4.3" height="2.0" fill="#2c3040" transform="rotate(5 755 465)"/>
<rect x="635.7" y="476.4" width="3.5" height="2.3" fill="#2c3040" transform="rotate(-2 637 478)"/>
<rect x="602.1" y="501.9" width="3.7" height="2.1" fill="#303038" transform="rotate(89 604 503)"/>
<rect x="900.5" y="450.1" width="3.7" height="2.9" fill="#2c3040" transform="rotate(7 902 452)"/>
<rect x="918.9" y="445.5" width="5.7" height="2.2" fill="#303038" transform="rotate(92 922 447)"/>
<rect x="734.9" y="467.6" width="5.7" height="2.6" fill="#2c3040" transform="rotate(4 738 469)"/>
<rect x="694.4" y="550.5" width="3.6" height="3.1" fill="#283050" transform="rotate(-40 696 552)"/>
<rect x="780.3" y="463.4" width="4.8" height="2.4" fill="#383c44" transform="rotate(-48 783 465)"/>
<rect x="318.2" y="532.9" width="4.1" height="2.5" fill="#283050" transform="rotate(38 320 534)"/>
<rect x="543.5" y="522.9" width="5.3" height="3.0" fill="#2c3040" transform="rotate(-7 546 524)"/>
<rect x="911.3" y="485.7" width="5.1" height="2.8" fill="#303038" transform="rotate(-50 914 487)"/>
<rect x="723.3" y="551.8" width="5.8" height="3.1" fill="#2c3040" transform="rotate(3 726 553)"/>
<rect x="511.3" y="491.2" width="5.6" height="2.0" fill="#2c3040" transform="rotate(43 514 492)"/>
<rect x="926.9" y="450.8" width="4.9" height="2.0" fill="#383c44" transform="rotate(97 929 452)"/>
<rect x="386.7" y="549.8" width="4.2" height="2.8" fill="#283050" transform="rotate(-42 389 551)"/>
<rect x="698.9" y="518.6" width="5.3" height="2.3" fill="#2c3040" transform="rotate(40 702 520)"/>
<rect x="530.1" y="526.0" width="3.7" height="2.3" fill="#303038" transform="rotate(90 532 527)"/>
<rect x="918.1" y="514.5" width="4.5" height="2.4" fill="#303038" transform="rotate(-45 920 516)"/>
<rect x="562.9" y="490.2" width="4.9" height="3.2" fill="#283050" transform="rotate(2 565 492)"/>
<rect x="676.2" y="473.9" width="4.2" height="2.1" fill="#383c44" transform="rotate(98 678 475)"/>
<rect x="713.0" y="469.6" width="5.0" height="2.4" fill="#383c44" transform="rotate(-41 715 471)"/>
<rect x="919.8" y="450.5" width="6.0" height="2.6" fill="#283050" transform="rotate(-1 923 452)"/>
<rect x="657.9" y="461.0" width="4.1" height="2.3" fill="#303038" transform="rotate(94 660 462)"/>
<rect x="545.4" y="539.3" width="5.6" height="2.1" fill="#303038" transform="rotate(52 548 540)"/>
<rect x="649.2" y="472.0" width="5.8" height="2.7" fill="#2c3040" transform="rotate(7 652 473)"/>
<rect x="810.4" y="472.2" width="4.7" height="2.6" fill="#303038" transform="rotate(-37 813 474)"/>
<rect x="224.9" y="545.9" width="5.0" height="2.7" fill="#283050" transform="rotate(94 227 547)"/>
<rect x="777.1" y="477.8" width="4.7" height="2.3" fill="#303038" transform="rotate(-45 779 479)"/>
<rect x="691.1" y="460.5" width="4.2" height="2.3" fill="#283050" transform="rotate(85 693 462)"/>
<rect x="539.1" y="509.0" width="4.1" height="2.7" fill="#303038" transform="rotate(38 541 510)"/>
<rect x="677.6" y="556.2" width="4.3" height="2.0" fill="#283050" transform="rotate(98 680 557)"/>
<rect x="758.1" y="471.6" width="5.7" height="2.7" fill="#303038" transform="rotate(88 761 473)"/>
<clipPath id="cs"><polygon points="862,540 898,540 898,476 912,476 912,469 944,469 944,426.5 951,426.5 951,558.5 862,558.5"/></clipPath><g clip-path="url(#cs)">
<rect x="862" y="420" width="5.3" height="140" fill="#30f0f0"/>
<rect x="867" y="420" width="5.3" height="140" fill="#2bebf2"/>
<rect x="872" y="420" width="5.3" height="140" fill="#27e7f5"/>
<rect x="877" y="420" width="5.3" height="140" fill="#22e2f7"/>
<rect x="882" y="420" width="5.3" height="140" fill="#20dcf8"/>
<rect x="887" y="420" width="5.3" height="140" fill="#20d5f8"/>
<rect x="892" y="420" width="5.3" height="140" fill="#20cdf8"/>
<rect x="897" y="420" width="5.3" height="140" fill="#20c4f8"/>
<rect x="902" y="420" width="5.3" height="140" fill="#20b5f8"/>
<rect x="907" y="420" width="5.3" height="140" fill="#20a7f8"/>
<rect x="912" y="420" width="5.3" height="140" fill="#209cf8"/>
<rect x="917" y="420" width="5.3" height="140" fill="#2091f8"/>
<rect x="922" y="420" width="5.3" height="140" fill="#2084f8"/>
<rect x="927" y="420" width="5.3" height="140" fill="#2077f8"/>
<rect x="932" y="420" width="5.3" height="140" fill="#2067f6"/>
<rect x="937" y="420" width="5.3" height="140" fill="#2055f1"/>
<rect x="942" y="420" width="5.3" height="140" fill="#203df0"/>
<rect x="947" y="420" width="5.3" height="140" fill="#2030f0"/>
</g>
</g>
<rect x="39" y="558.5" width="964" height="7.5" fill="#000"/>
<rect x="951" y="342" width="7" height="217" fill="#f8108c"/><rect x="951" y="342" width="1.6" height="217" fill="#c8307a"/>
<text x="39.2" y="27.6" font-family="Liberation Serif" font-size="24" font-style="italic" fill="#000">a</text>
<text x="594.2" y="27.4" font-family="Liberation Serif" font-size="24" font-style="italic" fill="#000">b</text>
<text x="40.2" y="353.6" font-family="Liberation Serif" font-size="24" font-style="italic" fill="#000">c</text>
<text x="158.2" y="21.6" font-family="Liberation Serif" font-size="24" fill="#000">Impact</text>
<text x="160.2" y="48.9" font-family="Liberation Serif" font-size="24" fill="#000">blocks</text>
<text x="112.2" y="178.4" font-family="Liberation Serif" font-size="24" fill="#000">Bench</text>
<text x="716.2" y="79.3" font-family="Liberation Serif" font-size="24" fill="#000">Limiter</text>
<text x="603.7" y="156.6" font-family="Liberation Serif" font-size="24" fill="#000">Dispersed</text>
<text x="610.7" y="183.6" font-family="Liberation Serif" font-size="24" fill="#000">particles</text>
<text x="342.2" y="464.4" font-family="Liberation Serif" font-size="24" fill="#000">Muckpile</text>
<text x="716.2" y="394.8" font-family="Liberation Serif" font-size="24" fill="#000">Limiter</text>
<line x1="254.1" y1="33.9" x2="328.6" y2="66.9" stroke="#000" stroke-width="1.7"/>
<polygon points="338.2,71.2 322.9,69.9 328.6,66.9 327.0,60.8" fill="#000"/>
<line x1="191" y1="177.4" x2="227.5" y2="197.0" stroke="#000" stroke-width="1.7"/>
<polygon points="236.8,202 221.7,199.5 227.5,197.0 226.4,190.7" fill="#000"/>
<line x1="809.3" y1="75.6" x2="949.2" y2="96.5" stroke="#000" stroke-width="1.7"/>
<polygon points="959.6,98 944.5,100.8 949.2,96.5 946.0,90.9" fill="#000"/>
<line x1="708.6" y1="175.3" x2="757.5" y2="195.6" stroke="#000" stroke-width="1.7"/>
<polygon points="767.2,199.6 751.9,198.7 757.5,195.6 755.7,189.4" fill="#000"/>
<line x1="439.3" y1="463.5" x2="488.8" y2="483.8" stroke="#000" stroke-width="1.7"/>
<polygon points="498.5,487.8 483.2,486.9 488.8,483.8 487.0,477.7" fill="#000"/>
<line x1="803" y1="391.6" x2="942.9" y2="412.3" stroke="#000" stroke-width="1.7"/>
<polygon points="953.3,413.8 938.2,416.6 942.9,412.3 939.7,406.7" fill="#000"/>
</svg>
</body></html>
